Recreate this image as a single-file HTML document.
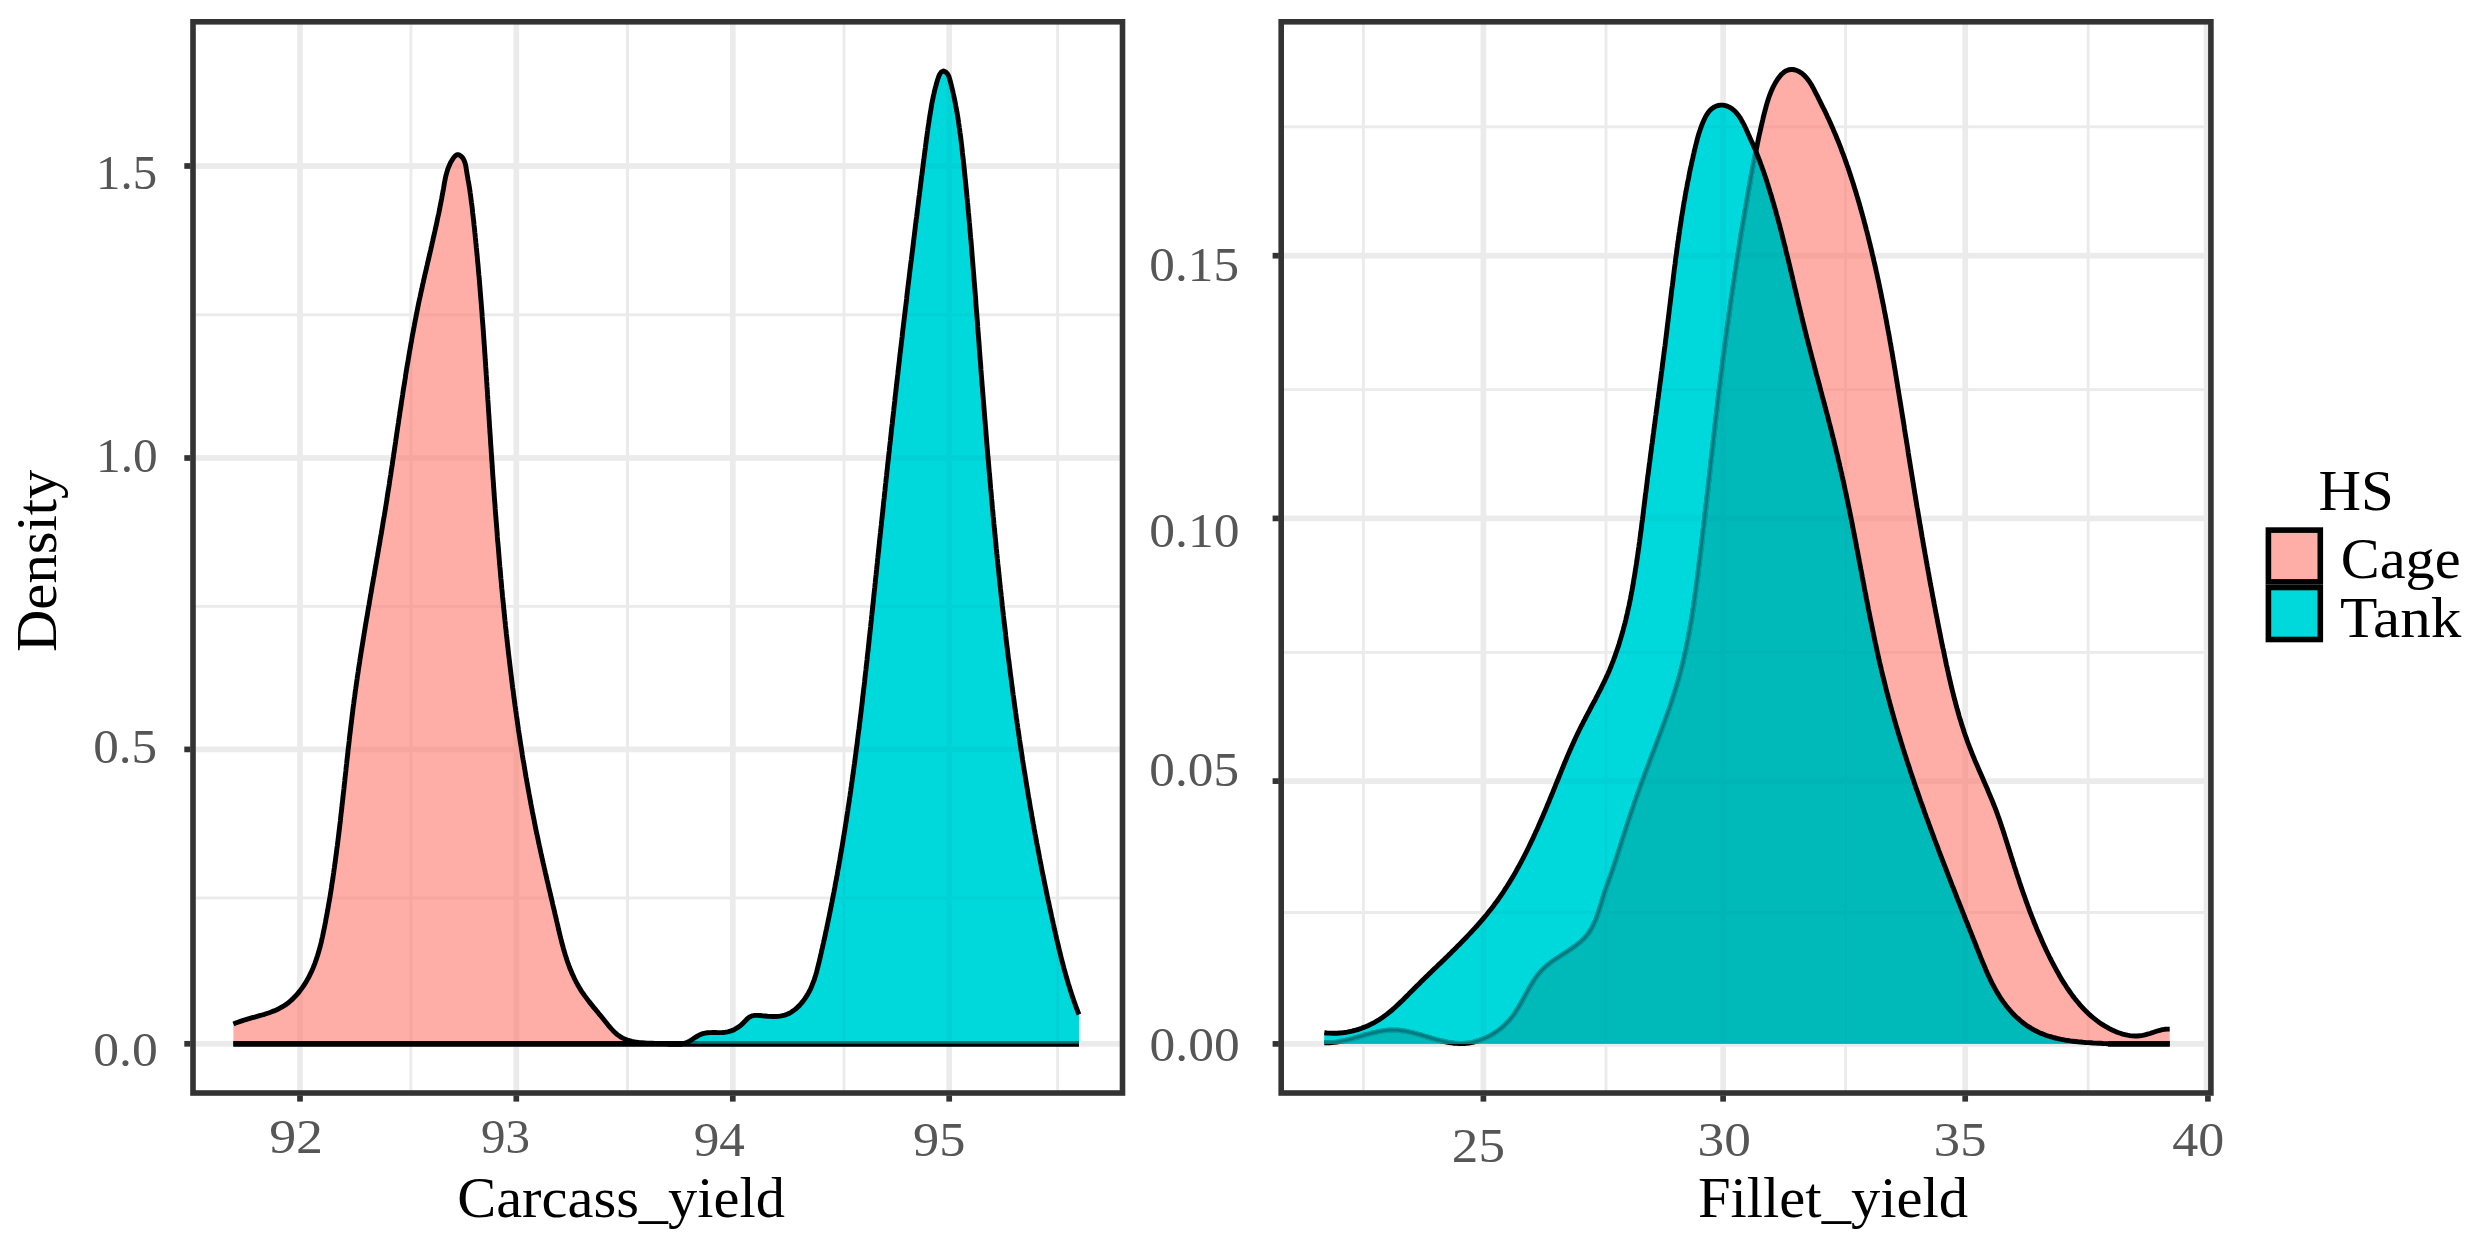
<!DOCTYPE html>
<html lang="en"><head><meta charset="utf-8"><title>Density plots</title>
<style>
html,body{margin:0;padding:0;background:#fff;}
svg{display:block;font-family:"Liberation Serif","DejaVu Serif",serif;}
text{white-space:pre;}
</style></head><body>
<svg width="2474" height="1250" viewBox="0 0 2474 1250">
<rect x="0" y="0" width="2474" height="1250" fill="#fff"/>
<rect x="193.0" y="313.35" width="929.5" height="2.9" fill="#ebebeb"/>
<rect x="193.0" y="604.95" width="929.5" height="2.9" fill="#ebebeb"/>
<rect x="193.0" y="896.55" width="929.5" height="2.9" fill="#ebebeb"/>
<rect x="409.45" y="21.8" width="2.9" height="1071.2" fill="#ebebeb"/>
<rect x="626.05" y="21.8" width="2.9" height="1071.2" fill="#ebebeb"/>
<rect x="842.55" y="21.8" width="2.9" height="1071.2" fill="#ebebeb"/>
<rect x="1056.15" y="21.8" width="2.9" height="1071.2" fill="#ebebeb"/>
<rect x="193.0" y="163.15" width="929.5" height="5.7" fill="#ebebeb"/>
<rect x="193.0" y="455.15" width="929.5" height="5.7" fill="#ebebeb"/>
<rect x="193.0" y="746.55" width="929.5" height="5.7" fill="#ebebeb"/>
<rect x="193.0" y="1040.95" width="929.5" height="5.7" fill="#ebebeb"/>
<rect x="297.15" y="21.8" width="5.7" height="1071.2" fill="#ebebeb"/>
<rect x="513.45" y="21.8" width="5.7" height="1071.2" fill="#ebebeb"/>
<rect x="729.95" y="21.8" width="5.7" height="1071.2" fill="#ebebeb"/>
<rect x="946.35" y="21.8" width="5.7" height="1071.2" fill="#ebebeb"/>
<rect x="1281.2" y="125.35" width="929.7" height="2.9" fill="#ebebeb"/>
<rect x="1281.2" y="388.15" width="929.7" height="2.9" fill="#ebebeb"/>
<rect x="1281.2" y="650.95" width="929.7" height="2.9" fill="#ebebeb"/>
<rect x="1281.2" y="911.05" width="929.7" height="2.9" fill="#ebebeb"/>
<rect x="1361.95" y="21.8" width="2.9" height="1071.2" fill="#ebebeb"/>
<rect x="1604.55" y="21.8" width="2.9" height="1071.2" fill="#ebebeb"/>
<rect x="1844.15" y="21.8" width="2.9" height="1071.2" fill="#ebebeb"/>
<rect x="2086.75" y="21.8" width="2.9" height="1071.2" fill="#ebebeb"/>
<rect x="1281.2" y="252.85" width="929.7" height="5.7" fill="#ebebeb"/>
<rect x="1281.2" y="515.55" width="929.7" height="5.7" fill="#ebebeb"/>
<rect x="1281.2" y="778.25" width="929.7" height="5.7" fill="#ebebeb"/>
<rect x="1281.2" y="1041.05" width="929.7" height="5.7" fill="#ebebeb"/>
<rect x="1480.55" y="21.8" width="5.7" height="1071.2" fill="#ebebeb"/>
<rect x="1720.25" y="21.8" width="5.7" height="1071.2" fill="#ebebeb"/>
<rect x="1962.35" y="21.8" width="5.7" height="1071.2" fill="#ebebeb"/>
<rect x="2203.75" y="21.8" width="5.7" height="1071.2" fill="#ebebeb"/>
<path d="M233.4,1024.0 L235.6,1023.1 L237.9,1022.2 L240.3,1021.4 L242.6,1020.6 L245.0,1019.8 L247.4,1019.1 L249.9,1018.4 L252.3,1017.7 L254.7,1017.1 L257.2,1016.4 L259.6,1015.7 L262.1,1015.0 L264.5,1014.3 L266.9,1013.5 L269.3,1012.7 L271.7,1011.8 L274.0,1010.9 L276.3,1009.9 L278.5,1008.9 L280.7,1007.7 L282.9,1006.5 L285.0,1005.2 L287.0,1003.7 L289.0,1002.2 L290.9,1000.6 L292.7,998.9 L294.5,997.1 L296.2,995.3 L297.9,993.4 L299.5,991.4 L301.0,989.4 L302.5,987.4 L303.9,985.3 L305.3,983.2 L306.6,981.0 L307.8,978.8 L309.0,976.7 L310.1,974.4 L311.2,972.2 L312.2,970.0 L313.2,967.7 L314.1,965.4 L315.0,963.1 L315.8,960.7 L316.6,958.4 L317.4,956.0 L318.1,953.7 L318.8,951.3 L319.5,948.9 L320.2,946.5 L320.8,944.0 L321.4,941.6 L321.9,939.2 L322.5,936.7 L323.0,934.3 L323.5,931.8 L324.0,929.4 L324.5,926.9 L325.0,924.4 L325.5,922.0 L325.9,919.5 L326.4,917.0 L326.9,914.6 L327.3,912.1 L327.8,909.6 L328.2,907.2 L328.6,904.7 L329.0,902.2 L329.5,899.8 L329.9,897.3 L330.3,894.8 L330.7,892.4 L331.1,889.9 L331.5,887.4 L331.8,884.9 L332.2,882.5 L332.6,880.0 L333.0,877.5 L333.3,875.0 L333.7,872.6 L334.0,870.1 L334.4,867.6 L334.7,865.1 L335.1,862.7 L335.4,860.2 L335.7,857.7 L336.1,855.2 L336.4,852.7 L336.7,850.3 L337.0,847.8 L337.4,845.3 L337.7,842.8 L338.0,840.3 L338.3,837.9 L338.6,835.4 L338.9,832.9 L339.2,830.4 L339.5,827.9 L339.8,825.4 L340.1,823.0 L340.4,820.5 L340.6,818.0 L340.9,815.5 L341.2,813.0 L341.5,810.5 L341.8,808.1 L342.0,805.6 L342.3,803.1 L342.6,800.6 L342.9,798.1 L343.1,795.6 L343.4,793.2 L343.7,790.7 L344.0,788.2 L344.2,785.7 L344.5,783.2 L344.8,780.7 L345.0,778.3 L345.3,775.8 L345.6,773.3 L345.9,770.8 L346.1,768.3 L346.4,765.8 L346.7,763.3 L346.9,760.9 L347.2,758.4 L347.5,755.9 L347.8,753.4 L348.0,750.9 L348.3,748.4 L348.6,746.0 L348.9,743.5 L349.2,741.0 L349.4,738.5 L349.7,736.0 L350.0,733.6 L350.3,731.1 L350.6,728.6 L350.9,726.1 L351.2,723.6 L351.5,721.2 L351.8,718.7 L352.1,716.2 L352.4,713.7 L352.7,711.2 L353.0,708.8 L353.3,706.3 L353.7,703.8 L354.0,701.3 L354.3,698.8 L354.7,696.4 L355.0,693.9 L355.3,691.4 L355.7,688.9 L356.0,686.5 L356.4,684.0 L356.7,681.5 L357.1,679.1 L357.4,676.6 L357.8,674.1 L358.2,671.6 L358.5,669.2 L358.9,666.7 L359.3,664.2 L359.7,661.8 L360.0,659.3 L360.4,656.8 L360.8,654.3 L361.2,651.9 L361.6,649.4 L362.0,646.9 L362.4,644.5 L362.8,642.0 L363.2,639.5 L363.6,637.1 L364.0,634.6 L364.4,632.1 L364.8,629.7 L365.2,627.2 L365.6,624.7 L366.0,622.3 L366.4,619.8 L366.9,617.3 L367.3,614.9 L367.7,612.4 L368.1,609.9 L368.5,607.5 L369.0,605.0 L369.4,602.5 L369.8,600.1 L370.2,597.6 L370.6,595.1 L371.1,592.7 L371.5,590.2 L371.9,587.7 L372.3,585.3 L372.8,582.8 L373.2,580.3 L373.6,577.9 L374.1,575.4 L374.5,573.0 L374.9,570.5 L375.3,568.0 L375.8,565.6 L376.2,563.1 L376.6,560.6 L377.0,558.2 L377.5,555.7 L377.9,553.2 L378.3,550.8 L378.7,548.3 L379.2,545.8 L379.6,543.4 L380.0,540.9 L380.4,538.4 L380.8,536.0 L381.3,533.5 L381.7,531.0 L382.1,528.6 L382.5,526.1 L382.9,523.6 L383.3,521.2 L383.7,518.7 L384.2,516.2 L384.6,513.8 L385.0,511.3 L385.4,508.8 L385.8,506.4 L386.2,503.9 L386.6,501.4 L387.0,499.0 L387.3,496.5 L387.7,494.0 L388.1,491.5 L388.5,489.1 L388.9,486.6 L389.3,484.1 L389.6,481.7 L390.0,479.2 L390.4,476.7 L390.8,474.3 L391.1,471.8 L391.5,469.3 L391.9,466.8 L392.3,464.4 L392.6,461.9 L393.0,459.4 L393.4,456.9 L393.7,454.5 L394.1,452.0 L394.5,449.5 L394.8,447.1 L395.2,444.6 L395.6,442.1 L395.9,439.6 L396.3,437.2 L396.6,434.7 L397.0,432.2 L397.4,429.7 L397.7,427.3 L398.1,424.8 L398.5,422.3 L398.8,419.9 L399.2,417.4 L399.6,414.9 L399.9,412.4 L400.3,410.0 L400.7,407.5 L401.1,405.0 L401.4,402.6 L401.8,400.1 L402.2,397.6 L402.6,395.1 L402.9,392.7 L403.3,390.2 L403.7,387.7 L404.1,385.3 L404.5,382.8 L404.9,380.3 L405.3,377.9 L405.6,375.4 L406.0,372.9 L406.4,370.5 L406.8,368.0 L407.2,365.5 L407.7,363.1 L408.1,360.6 L408.5,358.1 L408.9,355.7 L409.3,353.2 L409.7,350.8 L410.2,348.3 L410.6,345.8 L411.0,343.4 L411.5,340.9 L411.9,338.4 L412.3,336.0 L412.8,333.5 L413.3,331.1 L413.7,328.6 L414.2,326.2 L414.6,323.7 L415.1,321.2 L415.6,318.8 L416.1,316.3 L416.5,313.9 L417.0,311.4 L417.5,309.0 L418.0,306.5 L418.5,304.1 L419.0,301.6 L419.5,299.2 L420.1,296.7 L420.6,294.3 L421.1,291.8 L421.7,289.4 L422.2,287.0 L422.7,284.5 L423.3,282.1 L423.8,279.6 L424.4,277.2 L424.9,274.7 L425.5,272.3 L426.1,269.9 L426.6,267.4 L427.2,265.0 L427.7,262.5 L428.3,260.1 L428.9,257.7 L429.4,255.2 L430.0,252.8 L430.6,250.3 L431.1,247.9 L431.7,245.5 L432.2,243.0 L432.8,240.6 L433.3,238.1 L433.9,235.7 L434.4,233.3 L435.0,230.8 L435.5,228.4 L436.1,225.9 L436.6,223.5 L437.1,221.1 L437.6,218.6 L438.1,216.2 L438.7,213.7 L439.2,211.3 L439.7,208.8 L440.1,206.4 L440.6,203.9 L441.1,201.5 L441.6,199.0 L442.0,196.6 L442.5,194.1 L442.9,191.7 L443.4,189.2 L443.8,186.8 L444.2,184.3 L444.6,181.9 L445.1,179.4 L445.6,177.0 L446.2,174.6 L446.9,172.1 L447.6,169.7 L448.5,167.3 L449.5,165.0 L450.6,162.6 L452.0,160.3 L453.4,158.0 L455.1,156.0 L456.9,154.7 L458.9,154.7 L460.9,156.0 L462.8,158.0 L464.1,160.4 L465.0,162.9 L465.7,165.4 L466.1,167.9 L466.5,170.4 L466.9,172.9 L467.3,175.3 L467.7,177.7 L468.1,180.2 L468.6,182.6 L469.0,185.0 L469.4,187.4 L469.8,189.9 L470.1,192.3 L470.5,194.8 L470.8,197.3 L471.1,199.8 L471.4,202.3 L471.8,204.8 L472.1,207.3 L472.4,209.8 L472.6,212.3 L472.9,214.8 L473.2,217.3 L473.5,219.8 L473.8,222.3 L474.0,224.8 L474.3,227.3 L474.6,229.8 L474.8,232.2 L475.1,234.7 L475.3,237.2 L475.6,239.7 L475.8,242.2 L476.1,244.7 L476.3,247.2 L476.6,249.7 L476.8,252.1 L477.0,254.6 L477.3,257.1 L477.5,259.6 L477.7,262.1 L478.0,264.6 L478.2,267.1 L478.4,269.6 L478.6,272.1 L478.8,274.5 L479.1,277.0 L479.3,279.5 L479.5,282.0 L479.7,284.5 L479.9,287.0 L480.1,289.5 L480.3,292.0 L480.5,294.5 L480.7,297.0 L480.9,299.4 L481.1,301.9 L481.3,304.4 L481.5,306.9 L481.7,309.4 L481.9,311.9 L482.1,314.4 L482.2,316.9 L482.4,319.4 L482.6,321.9 L482.8,324.4 L483.0,326.8 L483.2,329.3 L483.3,331.8 L483.5,334.3 L483.7,336.8 L483.9,339.3 L484.0,341.8 L484.2,344.3 L484.4,346.8 L484.6,349.3 L484.7,351.8 L484.9,354.3 L485.1,356.8 L485.2,359.3 L485.4,361.7 L485.6,364.2 L485.7,366.7 L485.9,369.2 L486.1,371.7 L486.2,374.2 L486.4,376.7 L486.6,379.2 L486.7,381.7 L486.9,384.2 L487.0,386.7 L487.2,389.2 L487.4,391.7 L487.5,394.2 L487.7,396.7 L487.8,399.2 L488.0,401.7 L488.2,404.1 L488.3,406.6 L488.5,409.1 L488.6,411.6 L488.8,414.1 L489.0,416.6 L489.1,419.1 L489.3,421.6 L489.4,424.1 L489.6,426.6 L489.8,429.1 L489.9,431.6 L490.1,434.1 L490.3,436.6 L490.4,439.1 L490.6,441.6 L490.7,444.1 L490.9,446.6 L491.1,449.1 L491.2,451.6 L491.4,454.0 L491.6,456.5 L491.7,459.0 L491.9,461.5 L492.1,464.0 L492.2,466.5 L492.4,469.0 L492.6,471.5 L492.7,474.0 L492.9,476.5 L493.1,479.0 L493.3,481.5 L493.4,484.0 L493.6,486.5 L493.8,489.0 L494.0,491.5 L494.1,494.0 L494.3,496.5 L494.5,499.0 L494.7,501.5 L494.9,503.9 L495.1,506.4 L495.2,508.9 L495.4,511.4 L495.6,513.9 L495.8,516.4 L496.0,518.9 L496.2,521.4 L496.4,523.9 L496.6,526.4 L496.8,528.9 L497.0,531.4 L497.2,533.9 L497.3,536.4 L497.5,538.9 L497.7,541.4 L498.0,543.8 L498.2,546.3 L498.4,548.8 L498.6,551.3 L498.8,553.8 L499.0,556.3 L499.2,558.8 L499.4,561.3 L499.6,563.8 L499.8,566.3 L500.1,568.8 L500.3,571.3 L500.5,573.8 L500.7,576.2 L500.9,578.7 L501.2,581.2 L501.4,583.7 L501.6,586.2 L501.8,588.7 L502.1,591.2 L502.3,593.7 L502.5,596.2 L502.8,598.6 L503.0,601.1 L503.3,603.6 L503.5,606.1 L503.8,608.6 L504.0,611.1 L504.3,613.6 L504.5,616.1 L504.8,618.6 L505.0,621.0 L505.3,623.5 L505.5,626.0 L505.8,628.5 L506.1,631.0 L506.3,633.5 L506.6,636.0 L506.9,638.4 L507.1,640.9 L507.4,643.4 L507.7,645.9 L508.0,648.4 L508.2,650.9 L508.5,653.3 L508.8,655.8 L509.1,658.3 L509.4,660.8 L509.7,663.3 L510.0,665.7 L510.3,668.2 L510.6,670.7 L510.9,673.2 L511.2,675.7 L511.5,678.1 L511.8,680.6 L512.1,683.1 L512.4,685.6 L512.7,688.1 L513.1,690.5 L513.4,693.0 L513.7,695.5 L514.0,698.0 L514.4,700.4 L514.7,702.9 L515.0,705.4 L515.4,707.9 L515.7,710.3 L516.1,712.8 L516.4,715.3 L516.8,717.8 L517.1,720.2 L517.5,722.7 L517.8,725.2 L518.2,727.6 L518.5,730.1 L518.9,732.6 L519.3,735.1 L519.7,737.5 L520.0,740.0 L520.4,742.5 L520.8,744.9 L521.2,747.4 L521.6,749.9 L522.0,752.3 L522.3,754.8 L522.7,757.3 L523.1,759.7 L523.6,762.2 L524.0,764.6 L524.4,767.1 L524.8,769.6 L525.2,772.0 L525.6,774.5 L526.0,777.0 L526.5,779.4 L526.9,781.9 L527.3,784.3 L527.8,786.8 L528.2,789.3 L528.7,791.7 L529.1,794.2 L529.6,796.6 L530.0,799.1 L530.5,801.5 L530.9,804.0 L531.4,806.4 L531.9,808.9 L532.3,811.4 L532.8,813.8 L533.3,816.3 L533.8,818.7 L534.3,821.2 L534.7,823.6 L535.2,826.1 L535.7,828.5 L536.2,831.0 L536.7,833.4 L537.3,835.9 L537.8,838.3 L538.3,840.7 L538.8,843.2 L539.3,845.6 L539.9,848.1 L540.4,850.5 L540.9,853.0 L541.5,855.4 L542.0,857.8 L542.6,860.3 L543.1,862.7 L543.7,865.2 L544.2,867.6 L544.8,870.0 L545.3,872.5 L545.9,874.9 L546.5,877.4 L547.0,879.8 L547.6,882.2 L548.2,884.7 L548.7,887.1 L549.3,889.6 L549.9,892.0 L550.5,894.4 L551.0,896.9 L551.6,899.3 L552.2,901.8 L552.7,904.2 L553.3,906.7 L553.9,909.1 L554.5,911.5 L555.0,914.0 L555.6,916.4 L556.2,918.9 L556.7,921.3 L557.3,923.8 L557.9,926.2 L558.4,928.7 L559.0,931.1 L559.6,933.6 L560.2,936.0 L560.8,938.5 L561.4,940.9 L562.0,943.3 L562.7,945.7 L563.3,948.1 L564.0,950.5 L564.7,952.9 L565.4,955.3 L566.2,957.7 L566.9,960.0 L567.7,962.4 L568.6,964.7 L569.4,967.0 L570.3,969.3 L571.3,971.6 L572.3,973.9 L573.3,976.1 L574.3,978.3 L575.4,980.5 L576.5,982.7 L577.7,984.9 L579.0,987.0 L580.2,989.2 L581.6,991.3 L583.0,993.3 L584.4,995.4 L585.9,997.4 L587.4,999.4 L588.9,1001.4 L590.5,1003.4 L592.1,1005.4 L593.7,1007.4 L595.4,1009.4 L597.0,1011.3 L598.6,1013.3 L600.3,1015.3 L601.9,1017.3 L603.5,1019.3 L605.1,1021.3 L606.7,1023.3 L608.3,1025.3 L609.9,1027.2 L611.6,1029.1 L613.3,1030.9 L615.0,1032.6 L616.8,1034.2 L618.7,1035.6 L620.7,1037.0 L622.8,1038.1 L624.9,1039.1 L627.2,1040.0 L629.5,1040.7 L631.9,1041.3 L634.4,1041.8 L636.9,1042.3 L639.4,1042.6 L642.0,1042.8 L644.6,1043.0 L647.2,1043.2 L649.8,1043.2 L652.4,1043.3 L654.9,1043.4 L657.5,1043.4 L660.0,1043.4 L662.5,1043.5 L664.9,1043.6 L667.2,1043.7 L668.0,1043.8 L1079.0,1043.8 L1079.0,1043.8 L233.4,1043.8 Z" fill="rgba(255,120,109,0.6)"/>
<path d="M233.4,1024.0 L235.6,1023.1 L237.9,1022.2 L240.3,1021.4 L242.6,1020.6 L245.0,1019.8 L247.4,1019.1 L249.9,1018.4 L252.3,1017.7 L254.7,1017.1 L257.2,1016.4 L259.6,1015.7 L262.1,1015.0 L264.5,1014.3 L266.9,1013.5 L269.3,1012.7 L271.7,1011.8 L274.0,1010.9 L276.3,1009.9 L278.5,1008.9 L280.7,1007.7 L282.9,1006.5 L285.0,1005.2 L287.0,1003.7 L289.0,1002.2 L290.9,1000.6 L292.7,998.9 L294.5,997.1 L296.2,995.3 L297.9,993.4 L299.5,991.4 L301.0,989.4 L302.5,987.4 L303.9,985.3 L305.3,983.2 L306.6,981.0 L307.8,978.8 L309.0,976.7 L310.1,974.4 L311.2,972.2 L312.2,970.0 L313.2,967.7 L314.1,965.4 L315.0,963.1 L315.8,960.7 L316.6,958.4 L317.4,956.0 L318.1,953.7 L318.8,951.3 L319.5,948.9 L320.2,946.5 L320.8,944.0 L321.4,941.6 L321.9,939.2 L322.5,936.7 L323.0,934.3 L323.5,931.8 L324.0,929.4 L324.5,926.9 L325.0,924.4 L325.5,922.0 L325.9,919.5 L326.4,917.0 L326.9,914.6 L327.3,912.1 L327.8,909.6 L328.2,907.2 L328.6,904.7 L329.0,902.2 L329.5,899.8 L329.9,897.3 L330.3,894.8 L330.7,892.4 L331.1,889.9 L331.5,887.4 L331.8,884.9 L332.2,882.5 L332.6,880.0 L333.0,877.5 L333.3,875.0 L333.7,872.6 L334.0,870.1 L334.4,867.6 L334.7,865.1 L335.1,862.7 L335.4,860.2 L335.7,857.7 L336.1,855.2 L336.4,852.7 L336.7,850.3 L337.0,847.8 L337.4,845.3 L337.7,842.8 L338.0,840.3 L338.3,837.9 L338.6,835.4 L338.9,832.9 L339.2,830.4 L339.5,827.9 L339.8,825.4 L340.1,823.0 L340.4,820.5 L340.6,818.0 L340.9,815.5 L341.2,813.0 L341.5,810.5 L341.8,808.1 L342.0,805.6 L342.3,803.1 L342.6,800.6 L342.9,798.1 L343.1,795.6 L343.4,793.2 L343.7,790.7 L344.0,788.2 L344.2,785.7 L344.5,783.2 L344.8,780.7 L345.0,778.3 L345.3,775.8 L345.6,773.3 L345.9,770.8 L346.1,768.3 L346.4,765.8 L346.7,763.3 L346.9,760.9 L347.2,758.4 L347.5,755.9 L347.8,753.4 L348.0,750.9 L348.3,748.4 L348.6,746.0 L348.9,743.5 L349.2,741.0 L349.4,738.5 L349.7,736.0 L350.0,733.6 L350.3,731.1 L350.6,728.6 L350.9,726.1 L351.2,723.6 L351.5,721.2 L351.8,718.7 L352.1,716.2 L352.4,713.7 L352.7,711.2 L353.0,708.8 L353.3,706.3 L353.7,703.8 L354.0,701.3 L354.3,698.8 L354.7,696.4 L355.0,693.9 L355.3,691.4 L355.7,688.9 L356.0,686.5 L356.4,684.0 L356.7,681.5 L357.1,679.1 L357.4,676.6 L357.8,674.1 L358.2,671.6 L358.5,669.2 L358.9,666.7 L359.3,664.2 L359.7,661.8 L360.0,659.3 L360.4,656.8 L360.8,654.3 L361.2,651.9 L361.6,649.4 L362.0,646.9 L362.4,644.5 L362.8,642.0 L363.2,639.5 L363.6,637.1 L364.0,634.6 L364.4,632.1 L364.8,629.7 L365.2,627.2 L365.6,624.7 L366.0,622.3 L366.4,619.8 L366.9,617.3 L367.3,614.9 L367.7,612.4 L368.1,609.9 L368.5,607.5 L369.0,605.0 L369.4,602.5 L369.8,600.1 L370.2,597.6 L370.6,595.1 L371.1,592.7 L371.5,590.2 L371.9,587.7 L372.3,585.3 L372.8,582.8 L373.2,580.3 L373.6,577.9 L374.1,575.4 L374.5,573.0 L374.9,570.5 L375.3,568.0 L375.8,565.6 L376.2,563.1 L376.6,560.6 L377.0,558.2 L377.5,555.7 L377.9,553.2 L378.3,550.8 L378.7,548.3 L379.2,545.8 L379.6,543.4 L380.0,540.9 L380.4,538.4 L380.8,536.0 L381.3,533.5 L381.7,531.0 L382.1,528.6 L382.5,526.1 L382.9,523.6 L383.3,521.2 L383.7,518.7 L384.2,516.2 L384.6,513.8 L385.0,511.3 L385.4,508.8 L385.8,506.4 L386.2,503.9 L386.6,501.4 L387.0,499.0 L387.3,496.5 L387.7,494.0 L388.1,491.5 L388.5,489.1 L388.9,486.6 L389.3,484.1 L389.6,481.7 L390.0,479.2 L390.4,476.7 L390.8,474.3 L391.1,471.8 L391.5,469.3 L391.9,466.8 L392.3,464.4 L392.6,461.9 L393.0,459.4 L393.4,456.9 L393.7,454.5 L394.1,452.0 L394.5,449.5 L394.8,447.1 L395.2,444.6 L395.6,442.1 L395.9,439.6 L396.3,437.2 L396.6,434.7 L397.0,432.2 L397.4,429.7 L397.7,427.3 L398.1,424.8 L398.5,422.3 L398.8,419.9 L399.2,417.4 L399.6,414.9 L399.9,412.4 L400.3,410.0 L400.7,407.5 L401.1,405.0 L401.4,402.6 L401.8,400.1 L402.2,397.6 L402.6,395.1 L402.9,392.7 L403.3,390.2 L403.7,387.7 L404.1,385.3 L404.5,382.8 L404.9,380.3 L405.3,377.9 L405.6,375.4 L406.0,372.9 L406.4,370.5 L406.8,368.0 L407.2,365.5 L407.7,363.1 L408.1,360.6 L408.5,358.1 L408.9,355.7 L409.3,353.2 L409.7,350.8 L410.2,348.3 L410.6,345.8 L411.0,343.4 L411.5,340.9 L411.9,338.4 L412.3,336.0 L412.8,333.5 L413.3,331.1 L413.7,328.6 L414.2,326.2 L414.6,323.7 L415.1,321.2 L415.6,318.8 L416.1,316.3 L416.5,313.9 L417.0,311.4 L417.5,309.0 L418.0,306.5 L418.5,304.1 L419.0,301.6 L419.5,299.2 L420.1,296.7 L420.6,294.3 L421.1,291.8 L421.7,289.4 L422.2,287.0 L422.7,284.5 L423.3,282.1 L423.8,279.6 L424.4,277.2 L424.9,274.7 L425.5,272.3 L426.1,269.9 L426.6,267.4 L427.2,265.0 L427.7,262.5 L428.3,260.1 L428.9,257.7 L429.4,255.2 L430.0,252.8 L430.6,250.3 L431.1,247.9 L431.7,245.5 L432.2,243.0 L432.8,240.6 L433.3,238.1 L433.9,235.7 L434.4,233.3 L435.0,230.8 L435.5,228.4 L436.1,225.9 L436.6,223.5 L437.1,221.1 L437.6,218.6 L438.1,216.2 L438.7,213.7 L439.2,211.3 L439.7,208.8 L440.1,206.4 L440.6,203.9 L441.1,201.5 L441.6,199.0 L442.0,196.6 L442.5,194.1 L442.9,191.7 L443.4,189.2 L443.8,186.8 L444.2,184.3 L444.6,181.9 L445.1,179.4 L445.6,177.0 L446.2,174.6 L446.9,172.1 L447.6,169.7 L448.5,167.3 L449.5,165.0 L450.6,162.6 L452.0,160.3 L453.4,158.0 L455.1,156.0 L456.9,154.7 L458.9,154.7 L460.9,156.0 L462.8,158.0 L464.1,160.4 L465.0,162.9 L465.7,165.4 L466.1,167.9 L466.5,170.4 L466.9,172.9 L467.3,175.3 L467.7,177.7 L468.1,180.2 L468.6,182.6 L469.0,185.0 L469.4,187.4 L469.8,189.9 L470.1,192.3 L470.5,194.8 L470.8,197.3 L471.1,199.8 L471.4,202.3 L471.8,204.8 L472.1,207.3 L472.4,209.8 L472.6,212.3 L472.9,214.8 L473.2,217.3 L473.5,219.8 L473.8,222.3 L474.0,224.8 L474.3,227.3 L474.6,229.8 L474.8,232.2 L475.1,234.7 L475.3,237.2 L475.6,239.7 L475.8,242.2 L476.1,244.7 L476.3,247.2 L476.6,249.7 L476.8,252.1 L477.0,254.6 L477.3,257.1 L477.5,259.6 L477.7,262.1 L478.0,264.6 L478.2,267.1 L478.4,269.6 L478.6,272.1 L478.8,274.5 L479.1,277.0 L479.3,279.5 L479.5,282.0 L479.7,284.5 L479.9,287.0 L480.1,289.5 L480.3,292.0 L480.5,294.5 L480.7,297.0 L480.9,299.4 L481.1,301.9 L481.3,304.4 L481.5,306.9 L481.7,309.4 L481.9,311.9 L482.1,314.4 L482.2,316.9 L482.4,319.4 L482.6,321.9 L482.8,324.4 L483.0,326.8 L483.2,329.3 L483.3,331.8 L483.5,334.3 L483.7,336.8 L483.9,339.3 L484.0,341.8 L484.2,344.3 L484.4,346.8 L484.6,349.3 L484.7,351.8 L484.9,354.3 L485.1,356.8 L485.2,359.3 L485.4,361.7 L485.6,364.2 L485.7,366.7 L485.9,369.2 L486.1,371.7 L486.2,374.2 L486.4,376.7 L486.6,379.2 L486.7,381.7 L486.9,384.2 L487.0,386.7 L487.2,389.2 L487.4,391.7 L487.5,394.2 L487.7,396.7 L487.8,399.2 L488.0,401.7 L488.2,404.1 L488.3,406.6 L488.5,409.1 L488.6,411.6 L488.8,414.1 L489.0,416.6 L489.1,419.1 L489.3,421.6 L489.4,424.1 L489.6,426.6 L489.8,429.1 L489.9,431.6 L490.1,434.1 L490.3,436.6 L490.4,439.1 L490.6,441.6 L490.7,444.1 L490.9,446.6 L491.1,449.1 L491.2,451.6 L491.4,454.0 L491.6,456.5 L491.7,459.0 L491.9,461.5 L492.1,464.0 L492.2,466.5 L492.4,469.0 L492.6,471.5 L492.7,474.0 L492.9,476.5 L493.1,479.0 L493.3,481.5 L493.4,484.0 L493.6,486.5 L493.8,489.0 L494.0,491.5 L494.1,494.0 L494.3,496.5 L494.5,499.0 L494.7,501.5 L494.9,503.9 L495.1,506.4 L495.2,508.9 L495.4,511.4 L495.6,513.9 L495.8,516.4 L496.0,518.9 L496.2,521.4 L496.4,523.9 L496.6,526.4 L496.8,528.9 L497.0,531.4 L497.2,533.9 L497.3,536.4 L497.5,538.9 L497.7,541.4 L498.0,543.8 L498.2,546.3 L498.4,548.8 L498.6,551.3 L498.8,553.8 L499.0,556.3 L499.2,558.8 L499.4,561.3 L499.6,563.8 L499.8,566.3 L500.1,568.8 L500.3,571.3 L500.5,573.8 L500.7,576.2 L500.9,578.7 L501.2,581.2 L501.4,583.7 L501.6,586.2 L501.8,588.7 L502.1,591.2 L502.3,593.7 L502.5,596.2 L502.8,598.6 L503.0,601.1 L503.3,603.6 L503.5,606.1 L503.8,608.6 L504.0,611.1 L504.3,613.6 L504.5,616.1 L504.8,618.6 L505.0,621.0 L505.3,623.5 L505.5,626.0 L505.8,628.5 L506.1,631.0 L506.3,633.5 L506.6,636.0 L506.9,638.4 L507.1,640.9 L507.4,643.4 L507.7,645.9 L508.0,648.4 L508.2,650.9 L508.5,653.3 L508.8,655.8 L509.1,658.3 L509.4,660.8 L509.7,663.3 L510.0,665.7 L510.3,668.2 L510.6,670.7 L510.9,673.2 L511.2,675.7 L511.5,678.1 L511.8,680.6 L512.1,683.1 L512.4,685.6 L512.7,688.1 L513.1,690.5 L513.4,693.0 L513.7,695.5 L514.0,698.0 L514.4,700.4 L514.7,702.9 L515.0,705.4 L515.4,707.9 L515.7,710.3 L516.1,712.8 L516.4,715.3 L516.8,717.8 L517.1,720.2 L517.5,722.7 L517.8,725.2 L518.2,727.6 L518.5,730.1 L518.9,732.6 L519.3,735.1 L519.7,737.5 L520.0,740.0 L520.4,742.5 L520.8,744.9 L521.2,747.4 L521.6,749.9 L522.0,752.3 L522.3,754.8 L522.7,757.3 L523.1,759.7 L523.6,762.2 L524.0,764.6 L524.4,767.1 L524.8,769.6 L525.2,772.0 L525.6,774.5 L526.0,777.0 L526.5,779.4 L526.9,781.9 L527.3,784.3 L527.8,786.8 L528.2,789.3 L528.7,791.7 L529.1,794.2 L529.6,796.6 L530.0,799.1 L530.5,801.5 L530.9,804.0 L531.4,806.4 L531.9,808.9 L532.3,811.4 L532.8,813.8 L533.3,816.3 L533.8,818.7 L534.3,821.2 L534.7,823.6 L535.2,826.1 L535.7,828.5 L536.2,831.0 L536.7,833.4 L537.3,835.9 L537.8,838.3 L538.3,840.7 L538.8,843.2 L539.3,845.6 L539.9,848.1 L540.4,850.5 L540.9,853.0 L541.5,855.4 L542.0,857.8 L542.6,860.3 L543.1,862.7 L543.7,865.2 L544.2,867.6 L544.8,870.0 L545.3,872.5 L545.9,874.9 L546.5,877.4 L547.0,879.8 L547.6,882.2 L548.2,884.7 L548.7,887.1 L549.3,889.6 L549.9,892.0 L550.5,894.4 L551.0,896.9 L551.6,899.3 L552.2,901.8 L552.7,904.2 L553.3,906.7 L553.9,909.1 L554.5,911.5 L555.0,914.0 L555.6,916.4 L556.2,918.9 L556.7,921.3 L557.3,923.8 L557.9,926.2 L558.4,928.7 L559.0,931.1 L559.6,933.6 L560.2,936.0 L560.8,938.5 L561.4,940.9 L562.0,943.3 L562.7,945.7 L563.3,948.1 L564.0,950.5 L564.7,952.9 L565.4,955.3 L566.2,957.7 L566.9,960.0 L567.7,962.4 L568.6,964.7 L569.4,967.0 L570.3,969.3 L571.3,971.6 L572.3,973.9 L573.3,976.1 L574.3,978.3 L575.4,980.5 L576.5,982.7 L577.7,984.9 L579.0,987.0 L580.2,989.2 L581.6,991.3 L583.0,993.3 L584.4,995.4 L585.9,997.4 L587.4,999.4 L588.9,1001.4 L590.5,1003.4 L592.1,1005.4 L593.7,1007.4 L595.4,1009.4 L597.0,1011.3 L598.6,1013.3 L600.3,1015.3 L601.9,1017.3 L603.5,1019.3 L605.1,1021.3 L606.7,1023.3 L608.3,1025.3 L609.9,1027.2 L611.6,1029.1 L613.3,1030.9 L615.0,1032.6 L616.8,1034.2 L618.7,1035.6 L620.7,1037.0 L622.8,1038.1 L624.9,1039.1 L627.2,1040.0 L629.5,1040.7 L631.9,1041.3 L634.4,1041.8 L636.9,1042.3 L639.4,1042.6 L642.0,1042.8 L644.6,1043.0 L647.2,1043.2 L649.8,1043.2 L652.4,1043.3 L654.9,1043.4 L657.5,1043.4 L660.0,1043.4 L662.5,1043.5 L664.9,1043.6 L667.2,1043.7 L668.0,1043.8 L1079.0,1043.8" fill="none" stroke="#000" stroke-width="4.9" stroke-linejoin="round" stroke-linecap="butt"/>
<rect x="668" y="1041.1" width="411.0" height="5.6" fill="#000"/>
<path d="M233.4,1043.8 L680.0,1043.8 L682.6,1043.7 L685.0,1043.1 L687.4,1042.2 L689.6,1041.1 L691.8,1039.7 L693.9,1038.3 L696.1,1036.9 L698.2,1035.6 L700.5,1034.5 L702.8,1033.6 L705.2,1033.1 L707.6,1032.7 L710.2,1032.6 L712.7,1032.5 L715.3,1032.5 L717.8,1032.6 L720.4,1032.6 L722.9,1032.5 L725.3,1032.2 L727.7,1031.8 L730.1,1031.2 L732.3,1030.4 L734.5,1029.4 L736.6,1028.2 L738.7,1026.9 L740.7,1025.3 L742.6,1023.6 L744.4,1021.7 L746.2,1019.9 L748.1,1018.1 L750.1,1016.7 L752.3,1015.8 L754.7,1015.4 L757.2,1015.4 L759.8,1015.5 L762.4,1015.8 L765.0,1016.0 L767.6,1016.3 L770.1,1016.4 L772.7,1016.5 L775.2,1016.5 L777.7,1016.4 L780.1,1016.1 L782.5,1015.7 L784.8,1015.1 L787.1,1014.3 L789.3,1013.3 L791.5,1012.0 L793.5,1010.6 L795.5,1009.1 L797.4,1007.4 L799.3,1005.6 L801.0,1003.7 L802.7,1001.7 L804.2,999.6 L805.7,997.5 L807.0,995.4 L808.3,993.2 L809.5,991.0 L810.6,988.8 L811.6,986.5 L812.5,984.2 L813.4,981.9 L814.3,979.6 L815.0,977.2 L815.8,974.8 L816.5,972.4 L817.1,970.0 L817.7,967.6 L818.3,965.2 L818.9,962.7 L819.5,960.3 L820.1,957.9 L820.6,955.4 L821.2,953.0 L821.7,950.6 L822.3,948.1 L822.8,945.7 L823.4,943.2 L823.9,940.8 L824.5,938.4 L825.0,935.9 L825.5,933.5 L826.0,931.0 L826.6,928.6 L827.1,926.1 L827.6,923.7 L828.1,921.3 L828.6,918.8 L829.1,916.4 L829.6,913.9 L830.1,911.5 L830.6,909.0 L831.1,906.6 L831.6,904.1 L832.1,901.7 L832.5,899.2 L833.0,896.8 L833.5,894.3 L834.0,891.9 L834.4,889.4 L834.9,886.9 L835.3,884.5 L835.8,882.0 L836.3,879.6 L836.7,877.1 L837.2,874.7 L837.6,872.2 L838.0,869.7 L838.5,867.3 L838.9,864.8 L839.3,862.4 L839.8,859.9 L840.2,857.4 L840.6,855.0 L841.0,852.5 L841.5,850.1 L841.9,847.6 L842.3,845.1 L842.7,842.7 L843.1,840.2 L843.5,837.7 L843.9,835.3 L844.3,832.8 L844.7,830.3 L845.1,827.9 L845.5,825.4 L845.9,822.9 L846.3,820.5 L846.6,818.0 L847.0,815.5 L847.4,813.1 L847.8,810.6 L848.1,808.1 L848.5,805.6 L848.9,803.2 L849.3,800.7 L849.6,798.2 L850.0,795.8 L850.3,793.3 L850.7,790.8 L851.0,788.3 L851.4,785.9 L851.7,783.4 L852.1,780.9 L852.4,778.4 L852.8,776.0 L853.1,773.5 L853.5,771.0 L853.8,768.5 L854.1,766.1 L854.5,763.6 L854.8,761.1 L855.1,758.6 L855.5,756.2 L855.8,753.7 L856.1,751.2 L856.4,748.7 L856.8,746.2 L857.1,743.8 L857.4,741.3 L857.7,738.8 L858.0,736.3 L858.3,733.8 L858.6,731.4 L859.0,728.9 L859.3,726.4 L859.6,723.9 L859.9,721.4 L860.2,718.9 L860.5,716.5 L860.8,714.0 L861.1,711.5 L861.4,709.0 L861.7,706.5 L862.0,704.0 L862.3,701.6 L862.5,699.1 L862.8,696.6 L863.1,694.1 L863.4,691.6 L863.7,689.1 L864.0,686.7 L864.3,684.2 L864.6,681.7 L864.8,679.2 L865.1,676.7 L865.4,674.2 L865.7,671.7 L866.0,669.3 L866.2,666.8 L866.5,664.3 L866.8,661.8 L867.1,659.3 L867.3,656.8 L867.6,654.3 L867.9,651.9 L868.2,649.4 L868.4,646.9 L868.7,644.4 L869.0,641.9 L869.2,639.4 L869.5,636.9 L869.8,634.4 L870.0,632.0 L870.3,629.5 L870.6,627.0 L870.8,624.5 L871.1,622.0 L871.4,619.5 L871.6,617.0 L871.9,614.5 L872.1,612.1 L872.4,609.6 L872.7,607.1 L872.9,604.6 L873.2,602.1 L873.5,599.6 L873.7,597.1 L874.0,594.6 L874.2,592.2 L874.5,589.7 L874.8,587.2 L875.0,584.7 L875.3,582.2 L875.5,579.7 L875.8,577.2 L876.1,574.7 L876.3,572.3 L876.6,569.8 L876.8,567.3 L877.1,564.8 L877.4,562.3 L877.6,559.8 L877.9,557.3 L878.1,554.8 L878.4,552.4 L878.7,549.9 L878.9,547.4 L879.2,544.9 L879.4,542.4 L879.7,539.9 L880.0,537.4 L880.2,535.0 L880.5,532.5 L880.7,530.0 L881.0,527.5 L881.3,525.0 L881.5,522.5 L881.8,520.0 L882.1,517.6 L882.3,515.1 L882.6,512.6 L882.9,510.1 L883.1,507.6 L883.4,505.1 L883.6,502.6 L883.9,500.2 L884.2,497.7 L884.4,495.2 L884.7,492.7 L885.0,490.2 L885.2,487.7 L885.5,485.3 L885.8,482.8 L886.0,480.3 L886.3,477.8 L886.6,475.3 L886.8,472.8 L887.1,470.3 L887.4,467.9 L887.6,465.4 L887.9,462.9 L888.2,460.4 L888.5,457.9 L888.7,455.4 L889.0,453.0 L889.3,450.5 L889.5,448.0 L889.8,445.5 L890.1,443.0 L890.4,440.5 L890.6,438.1 L890.9,435.6 L891.2,433.1 L891.4,430.6 L891.7,428.1 L892.0,425.6 L892.3,423.2 L892.5,420.7 L892.8,418.2 L893.1,415.7 L893.4,413.2 L893.7,410.7 L893.9,408.3 L894.2,405.8 L894.5,403.3 L894.8,400.8 L895.0,398.3 L895.3,395.8 L895.6,393.4 L895.9,390.9 L896.2,388.4 L896.4,385.9 L896.7,383.4 L897.0,380.9 L897.3,378.5 L897.6,376.0 L897.9,373.5 L898.1,371.0 L898.4,368.5 L898.7,366.0 L899.0,363.6 L899.3,361.1 L899.6,358.6 L899.8,356.1 L900.1,353.6 L900.4,351.2 L900.7,348.7 L901.0,346.2 L901.3,343.7 L901.6,341.2 L901.9,338.7 L902.2,336.3 L902.4,333.8 L902.7,331.3 L903.0,328.8 L903.3,326.3 L903.6,323.8 L903.9,321.4 L904.2,318.9 L904.5,316.4 L904.8,313.9 L905.1,311.4 L905.4,308.9 L905.7,306.5 L906.0,304.0 L906.3,301.5 L906.6,299.0 L906.8,296.5 L907.1,294.0 L907.4,291.6 L907.7,289.1 L908.0,286.6 L908.3,284.1 L908.6,281.6 L908.9,279.2 L909.2,276.7 L909.5,274.2 L909.8,271.7 L910.1,269.2 L910.4,266.7 L910.7,264.3 L911.0,261.8 L911.4,259.3 L911.7,256.8 L912.0,254.3 L912.3,251.8 L912.6,249.4 L912.9,246.9 L913.2,244.4 L913.5,241.9 L913.8,239.4 L914.1,237.0 L914.4,234.5 L914.7,232.0 L915.0,229.5 L915.3,227.0 L915.6,224.5 L915.9,222.1 L916.2,219.6 L916.6,217.1 L916.9,214.6 L917.2,212.1 L917.5,209.6 L917.8,207.2 L918.1,204.7 L918.4,202.2 L918.7,199.7 L919.0,197.2 L919.4,194.8 L919.7,192.3 L920.0,189.8 L920.3,187.3 L920.6,184.8 L920.9,182.3 L921.2,179.9 L921.5,177.4 L921.9,174.9 L922.2,172.4 L922.5,169.9 L922.8,167.5 L923.1,165.0 L923.4,162.5 L923.8,160.0 L924.1,157.5 L924.4,155.0 L924.7,152.6 L925.0,150.1 L925.4,147.6 L925.7,145.1 L926.0,142.7 L926.3,140.2 L926.7,137.7 L927.0,135.2 L927.3,132.8 L927.7,130.3 L928.0,127.8 L928.4,125.3 L928.8,122.9 L929.1,120.4 L929.5,118.0 L929.9,115.5 L930.3,113.0 L930.7,110.6 L931.1,108.1 L931.5,105.7 L931.9,103.2 L932.4,100.8 L932.9,98.4 L933.4,95.9 L934.0,93.5 L934.5,91.0 L935.1,88.6 L935.8,86.2 L936.4,83.8 L937.1,81.3 L937.9,78.9 L938.7,76.5 L939.8,74.1 L941.4,71.9 L943.5,71.0 L945.7,72.0 L947.7,74.1 L948.9,76.4 L949.6,78.8 L950.3,81.2 L950.9,83.6 L951.5,86.0 L952.1,88.4 L952.7,90.8 L953.2,93.2 L953.8,95.7 L954.3,98.1 L954.8,100.5 L955.3,103.0 L955.7,105.4 L956.2,107.9 L956.6,110.3 L957.1,112.8 L957.5,115.2 L957.9,117.7 L958.3,120.2 L958.6,122.6 L959.0,125.1 L959.3,127.6 L959.7,130.1 L960.0,132.6 L960.4,135.0 L960.7,137.5 L961.0,140.0 L961.3,142.5 L961.6,145.0 L961.9,147.5 L962.2,150.0 L962.4,152.5 L962.7,155.0 L963.0,157.4 L963.3,159.9 L963.5,162.4 L963.8,164.9 L964.1,167.4 L964.3,169.9 L964.6,172.4 L964.8,174.9 L965.1,177.4 L965.3,179.9 L965.6,182.4 L965.8,184.9 L966.1,187.4 L966.3,189.9 L966.6,192.4 L966.8,194.8 L967.0,197.3 L967.3,199.8 L967.5,202.3 L967.8,204.8 L968.0,207.3 L968.2,209.8 L968.4,212.3 L968.7,214.8 L968.9,217.3 L969.1,219.8 L969.3,222.3 L969.6,224.8 L969.8,227.2 L970.0,229.7 L970.2,232.2 L970.4,234.7 L970.6,237.2 L970.9,239.7 L971.1,242.2 L971.3,244.7 L971.5,247.2 L971.7,249.7 L971.9,252.2 L972.1,254.7 L972.3,257.1 L972.5,259.6 L972.7,262.1 L972.9,264.6 L973.1,267.1 L973.3,269.6 L973.5,272.1 L973.7,274.6 L973.9,277.1 L974.1,279.6 L974.3,282.1 L974.5,284.5 L974.7,287.0 L974.9,289.5 L975.1,292.0 L975.3,294.5 L975.5,297.0 L975.7,299.5 L975.8,302.0 L976.0,304.5 L976.2,307.0 L976.4,309.5 L976.6,311.9 L976.8,314.4 L977.0,316.9 L977.2,319.4 L977.4,321.9 L977.6,324.4 L977.7,326.9 L977.9,329.4 L978.1,331.9 L978.3,334.4 L978.5,336.9 L978.7,339.4 L978.9,341.8 L979.1,344.3 L979.2,346.8 L979.4,349.3 L979.6,351.8 L979.8,354.3 L980.0,356.8 L980.2,359.3 L980.4,361.8 L980.6,364.3 L980.8,366.8 L980.9,369.2 L981.1,371.7 L981.3,374.2 L981.5,376.7 L981.7,379.2 L981.9,381.7 L982.1,384.2 L982.3,386.7 L982.5,389.2 L982.7,391.7 L982.9,394.2 L983.1,396.6 L983.3,399.1 L983.5,401.6 L983.7,404.1 L983.9,406.6 L984.1,409.1 L984.3,411.6 L984.5,414.1 L984.7,416.6 L984.9,419.1 L985.1,421.6 L985.3,424.1 L985.5,426.5 L985.7,429.0 L985.9,431.5 L986.1,434.0 L986.3,436.5 L986.5,439.0 L986.7,441.5 L986.9,444.0 L987.1,446.5 L987.3,449.0 L987.5,451.5 L987.7,453.9 L987.9,456.4 L988.2,458.9 L988.4,461.4 L988.6,463.9 L988.8,466.4 L989.0,468.9 L989.2,471.4 L989.4,473.9 L989.7,476.4 L989.9,478.9 L990.1,481.3 L990.3,483.8 L990.5,486.3 L990.7,488.8 L991.0,491.3 L991.2,493.8 L991.4,496.3 L991.6,498.8 L991.9,501.3 L992.1,503.8 L992.3,506.2 L992.5,508.7 L992.8,511.2 L993.0,513.7 L993.2,516.2 L993.5,518.7 L993.7,521.2 L993.9,523.7 L994.2,526.2 L994.4,528.6 L994.7,531.1 L994.9,533.6 L995.1,536.1 L995.4,538.6 L995.6,541.1 L995.9,543.6 L996.1,546.1 L996.3,548.5 L996.6,551.0 L996.8,553.5 L997.1,556.0 L997.3,558.5 L997.6,561.0 L997.8,563.5 L998.1,566.0 L998.4,568.4 L998.6,570.9 L998.9,573.4 L999.1,575.9 L999.4,578.4 L999.6,580.9 L999.9,583.4 L1000.2,585.9 L1000.4,588.3 L1000.7,590.8 L1001.0,593.3 L1001.2,595.8 L1001.5,598.3 L1001.8,600.8 L1002.1,603.2 L1002.3,605.7 L1002.6,608.2 L1002.9,610.7 L1003.2,613.2 L1003.4,615.7 L1003.7,618.2 L1004.0,620.6 L1004.3,623.1 L1004.6,625.6 L1004.9,628.1 L1005.2,630.6 L1005.5,633.1 L1005.7,635.5 L1006.0,638.0 L1006.3,640.5 L1006.6,643.0 L1006.9,645.5 L1007.2,647.9 L1007.5,650.4 L1007.8,652.9 L1008.1,655.4 L1008.4,657.9 L1008.8,660.4 L1009.1,662.8 L1009.4,665.3 L1009.7,667.8 L1010.0,670.3 L1010.3,672.8 L1010.6,675.2 L1011.0,677.7 L1011.3,680.2 L1011.6,682.7 L1011.9,685.2 L1012.3,687.6 L1012.6,690.1 L1012.9,692.6 L1013.2,695.1 L1013.6,697.5 L1013.9,700.0 L1014.3,702.5 L1014.6,705.0 L1014.9,707.5 L1015.3,709.9 L1015.6,712.4 L1016.0,714.9 L1016.3,717.4 L1016.7,719.8 L1017.0,722.3 L1017.4,724.8 L1017.7,727.3 L1018.1,729.7 L1018.5,732.2 L1018.8,734.7 L1019.2,737.2 L1019.5,739.6 L1019.9,742.1 L1020.3,744.6 L1020.7,747.0 L1021.0,749.5 L1021.4,752.0 L1021.8,754.5 L1022.2,756.9 L1022.5,759.4 L1022.9,761.9 L1023.3,764.3 L1023.7,766.8 L1024.1,769.3 L1024.5,771.8 L1024.9,774.2 L1025.3,776.7 L1025.7,779.2 L1026.1,781.6 L1026.5,784.1 L1026.9,786.6 L1027.3,789.0 L1027.7,791.5 L1028.1,794.0 L1028.5,796.4 L1029.0,798.9 L1029.4,801.4 L1029.8,803.8 L1030.2,806.3 L1030.6,808.8 L1031.1,811.2 L1031.5,813.7 L1031.9,816.2 L1032.4,818.6 L1032.8,821.1 L1033.2,823.5 L1033.7,826.0 L1034.1,828.5 L1034.6,830.9 L1035.0,833.4 L1035.5,835.9 L1035.9,838.3 L1036.4,840.8 L1036.8,843.2 L1037.3,845.7 L1037.8,848.1 L1038.2,850.6 L1038.7,853.1 L1039.2,855.5 L1039.6,858.0 L1040.1,860.4 L1040.6,862.9 L1041.1,865.3 L1041.5,867.8 L1042.0,870.2 L1042.5,872.7 L1043.0,875.1 L1043.5,877.6 L1044.0,880.0 L1044.5,882.5 L1045.0,884.9 L1045.5,887.4 L1046.0,889.8 L1046.5,892.3 L1047.0,894.7 L1047.5,897.2 L1048.0,899.6 L1048.6,902.1 L1049.1,904.5 L1049.6,907.0 L1050.1,909.4 L1050.7,911.8 L1051.2,914.3 L1051.7,916.7 L1052.3,919.2 L1052.8,921.6 L1053.3,924.0 L1053.9,926.5 L1054.4,928.9 L1055.0,931.3 L1055.5,933.8 L1056.1,936.2 L1056.6,938.6 L1057.2,941.1 L1057.8,943.5 L1058.4,945.9 L1058.9,948.4 L1059.5,950.8 L1060.1,953.2 L1060.7,955.6 L1061.3,958.1 L1061.9,960.5 L1062.6,962.9 L1063.2,965.3 L1063.8,967.7 L1064.5,970.1 L1065.1,972.5 L1065.8,974.9 L1066.5,977.3 L1067.2,979.7 L1067.9,982.1 L1068.6,984.5 L1069.4,986.9 L1070.1,989.3 L1070.9,991.7 L1071.6,994.1 L1072.4,996.4 L1073.2,998.8 L1074.0,1001.2 L1074.9,1003.5 L1075.7,1005.9 L1076.6,1008.3 L1077.5,1010.6 L1078.4,1013.0 L1079.0,1014.5 L1079.0,1043.8 L233.4,1043.8 Z" fill="rgba(0,191,196,0.6)"/>
<path d="M233.4,1043.8 L680.0,1043.8 L682.6,1043.7 L685.0,1043.1 L687.4,1042.2 L689.6,1041.1 L691.8,1039.7 L693.9,1038.3 L696.1,1036.9 L698.2,1035.6 L700.5,1034.5 L702.8,1033.6 L705.2,1033.1 L707.6,1032.7 L710.2,1032.6 L712.7,1032.5 L715.3,1032.5 L717.8,1032.6 L720.4,1032.6 L722.9,1032.5 L725.3,1032.2 L727.7,1031.8 L730.1,1031.2 L732.3,1030.4 L734.5,1029.4 L736.6,1028.2 L738.7,1026.9 L740.7,1025.3 L742.6,1023.6 L744.4,1021.7 L746.2,1019.9 L748.1,1018.1 L750.1,1016.7 L752.3,1015.8 L754.7,1015.4 L757.2,1015.4 L759.8,1015.5 L762.4,1015.8 L765.0,1016.0 L767.6,1016.3 L770.1,1016.4 L772.7,1016.5 L775.2,1016.5 L777.7,1016.4 L780.1,1016.1 L782.5,1015.7 L784.8,1015.1 L787.1,1014.3 L789.3,1013.3 L791.5,1012.0 L793.5,1010.6 L795.5,1009.1 L797.4,1007.4 L799.3,1005.6 L801.0,1003.7 L802.7,1001.7 L804.2,999.6 L805.7,997.5 L807.0,995.4 L808.3,993.2 L809.5,991.0 L810.6,988.8 L811.6,986.5 L812.5,984.2 L813.4,981.9 L814.3,979.6 L815.0,977.2 L815.8,974.8 L816.5,972.4 L817.1,970.0 L817.7,967.6 L818.3,965.2 L818.9,962.7 L819.5,960.3 L820.1,957.9 L820.6,955.4 L821.2,953.0 L821.7,950.6 L822.3,948.1 L822.8,945.7 L823.4,943.2 L823.9,940.8 L824.5,938.4 L825.0,935.9 L825.5,933.5 L826.0,931.0 L826.6,928.6 L827.1,926.1 L827.6,923.7 L828.1,921.3 L828.6,918.8 L829.1,916.4 L829.6,913.9 L830.1,911.5 L830.6,909.0 L831.1,906.6 L831.6,904.1 L832.1,901.7 L832.5,899.2 L833.0,896.8 L833.5,894.3 L834.0,891.9 L834.4,889.4 L834.9,886.9 L835.3,884.5 L835.8,882.0 L836.3,879.6 L836.7,877.1 L837.2,874.7 L837.6,872.2 L838.0,869.7 L838.5,867.3 L838.9,864.8 L839.3,862.4 L839.8,859.9 L840.2,857.4 L840.6,855.0 L841.0,852.5 L841.5,850.1 L841.9,847.6 L842.3,845.1 L842.7,842.7 L843.1,840.2 L843.5,837.7 L843.9,835.3 L844.3,832.8 L844.7,830.3 L845.1,827.9 L845.5,825.4 L845.9,822.9 L846.3,820.5 L846.6,818.0 L847.0,815.5 L847.4,813.1 L847.8,810.6 L848.1,808.1 L848.5,805.6 L848.9,803.2 L849.3,800.7 L849.6,798.2 L850.0,795.8 L850.3,793.3 L850.7,790.8 L851.0,788.3 L851.4,785.9 L851.7,783.4 L852.1,780.9 L852.4,778.4 L852.8,776.0 L853.1,773.5 L853.5,771.0 L853.8,768.5 L854.1,766.1 L854.5,763.6 L854.8,761.1 L855.1,758.6 L855.5,756.2 L855.8,753.7 L856.1,751.2 L856.4,748.7 L856.8,746.2 L857.1,743.8 L857.4,741.3 L857.7,738.8 L858.0,736.3 L858.3,733.8 L858.6,731.4 L859.0,728.9 L859.3,726.4 L859.6,723.9 L859.9,721.4 L860.2,718.9 L860.5,716.5 L860.8,714.0 L861.1,711.5 L861.4,709.0 L861.7,706.5 L862.0,704.0 L862.3,701.6 L862.5,699.1 L862.8,696.6 L863.1,694.1 L863.4,691.6 L863.7,689.1 L864.0,686.7 L864.3,684.2 L864.6,681.7 L864.8,679.2 L865.1,676.7 L865.4,674.2 L865.7,671.7 L866.0,669.3 L866.2,666.8 L866.5,664.3 L866.8,661.8 L867.1,659.3 L867.3,656.8 L867.6,654.3 L867.9,651.9 L868.2,649.4 L868.4,646.9 L868.7,644.4 L869.0,641.9 L869.2,639.4 L869.5,636.9 L869.8,634.4 L870.0,632.0 L870.3,629.5 L870.6,627.0 L870.8,624.5 L871.1,622.0 L871.4,619.5 L871.6,617.0 L871.9,614.5 L872.1,612.1 L872.4,609.6 L872.7,607.1 L872.9,604.6 L873.2,602.1 L873.5,599.6 L873.7,597.1 L874.0,594.6 L874.2,592.2 L874.5,589.7 L874.8,587.2 L875.0,584.7 L875.3,582.2 L875.5,579.7 L875.8,577.2 L876.1,574.7 L876.3,572.3 L876.6,569.8 L876.8,567.3 L877.1,564.8 L877.4,562.3 L877.6,559.8 L877.9,557.3 L878.1,554.8 L878.4,552.4 L878.7,549.9 L878.9,547.4 L879.2,544.9 L879.4,542.4 L879.7,539.9 L880.0,537.4 L880.2,535.0 L880.5,532.5 L880.7,530.0 L881.0,527.5 L881.3,525.0 L881.5,522.5 L881.8,520.0 L882.1,517.6 L882.3,515.1 L882.6,512.6 L882.9,510.1 L883.1,507.6 L883.4,505.1 L883.6,502.6 L883.9,500.2 L884.2,497.7 L884.4,495.2 L884.7,492.7 L885.0,490.2 L885.2,487.7 L885.5,485.3 L885.8,482.8 L886.0,480.3 L886.3,477.8 L886.6,475.3 L886.8,472.8 L887.1,470.3 L887.4,467.9 L887.6,465.4 L887.9,462.9 L888.2,460.4 L888.5,457.9 L888.7,455.4 L889.0,453.0 L889.3,450.5 L889.5,448.0 L889.8,445.5 L890.1,443.0 L890.4,440.5 L890.6,438.1 L890.9,435.6 L891.2,433.1 L891.4,430.6 L891.7,428.1 L892.0,425.6 L892.3,423.2 L892.5,420.7 L892.8,418.2 L893.1,415.7 L893.4,413.2 L893.7,410.7 L893.9,408.3 L894.2,405.8 L894.5,403.3 L894.8,400.8 L895.0,398.3 L895.3,395.8 L895.6,393.4 L895.9,390.9 L896.2,388.4 L896.4,385.9 L896.7,383.4 L897.0,380.9 L897.3,378.5 L897.6,376.0 L897.9,373.5 L898.1,371.0 L898.4,368.5 L898.7,366.0 L899.0,363.6 L899.3,361.1 L899.6,358.6 L899.8,356.1 L900.1,353.6 L900.4,351.2 L900.7,348.7 L901.0,346.2 L901.3,343.7 L901.6,341.2 L901.9,338.7 L902.2,336.3 L902.4,333.8 L902.7,331.3 L903.0,328.8 L903.3,326.3 L903.6,323.8 L903.9,321.4 L904.2,318.9 L904.5,316.4 L904.8,313.9 L905.1,311.4 L905.4,308.9 L905.7,306.5 L906.0,304.0 L906.3,301.5 L906.6,299.0 L906.8,296.5 L907.1,294.0 L907.4,291.6 L907.7,289.1 L908.0,286.6 L908.3,284.1 L908.6,281.6 L908.9,279.2 L909.2,276.7 L909.5,274.2 L909.8,271.7 L910.1,269.2 L910.4,266.7 L910.7,264.3 L911.0,261.8 L911.4,259.3 L911.7,256.8 L912.0,254.3 L912.3,251.8 L912.6,249.4 L912.9,246.9 L913.2,244.4 L913.5,241.9 L913.8,239.4 L914.1,237.0 L914.4,234.5 L914.7,232.0 L915.0,229.5 L915.3,227.0 L915.6,224.5 L915.9,222.1 L916.2,219.6 L916.6,217.1 L916.9,214.6 L917.2,212.1 L917.5,209.6 L917.8,207.2 L918.1,204.7 L918.4,202.2 L918.7,199.7 L919.0,197.2 L919.4,194.8 L919.7,192.3 L920.0,189.8 L920.3,187.3 L920.6,184.8 L920.9,182.3 L921.2,179.9 L921.5,177.4 L921.9,174.9 L922.2,172.4 L922.5,169.9 L922.8,167.5 L923.1,165.0 L923.4,162.5 L923.8,160.0 L924.1,157.5 L924.4,155.0 L924.7,152.6 L925.0,150.1 L925.4,147.6 L925.7,145.1 L926.0,142.7 L926.3,140.2 L926.7,137.7 L927.0,135.2 L927.3,132.8 L927.7,130.3 L928.0,127.8 L928.4,125.3 L928.8,122.9 L929.1,120.4 L929.5,118.0 L929.9,115.5 L930.3,113.0 L930.7,110.6 L931.1,108.1 L931.5,105.7 L931.9,103.2 L932.4,100.8 L932.9,98.4 L933.4,95.9 L934.0,93.5 L934.5,91.0 L935.1,88.6 L935.8,86.2 L936.4,83.8 L937.1,81.3 L937.9,78.9 L938.7,76.5 L939.8,74.1 L941.4,71.9 L943.5,71.0 L945.7,72.0 L947.7,74.1 L948.9,76.4 L949.6,78.8 L950.3,81.2 L950.9,83.6 L951.5,86.0 L952.1,88.4 L952.7,90.8 L953.2,93.2 L953.8,95.7 L954.3,98.1 L954.8,100.5 L955.3,103.0 L955.7,105.4 L956.2,107.9 L956.6,110.3 L957.1,112.8 L957.5,115.2 L957.9,117.7 L958.3,120.2 L958.6,122.6 L959.0,125.1 L959.3,127.6 L959.7,130.1 L960.0,132.6 L960.4,135.0 L960.7,137.5 L961.0,140.0 L961.3,142.5 L961.6,145.0 L961.9,147.5 L962.2,150.0 L962.4,152.5 L962.7,155.0 L963.0,157.4 L963.3,159.9 L963.5,162.4 L963.8,164.9 L964.1,167.4 L964.3,169.9 L964.6,172.4 L964.8,174.9 L965.1,177.4 L965.3,179.9 L965.6,182.4 L965.8,184.9 L966.1,187.4 L966.3,189.9 L966.6,192.4 L966.8,194.8 L967.0,197.3 L967.3,199.8 L967.5,202.3 L967.8,204.8 L968.0,207.3 L968.2,209.8 L968.4,212.3 L968.7,214.8 L968.9,217.3 L969.1,219.8 L969.3,222.3 L969.6,224.8 L969.8,227.2 L970.0,229.7 L970.2,232.2 L970.4,234.7 L970.6,237.2 L970.9,239.7 L971.1,242.2 L971.3,244.7 L971.5,247.2 L971.7,249.7 L971.9,252.2 L972.1,254.7 L972.3,257.1 L972.5,259.6 L972.7,262.1 L972.9,264.6 L973.1,267.1 L973.3,269.6 L973.5,272.1 L973.7,274.6 L973.9,277.1 L974.1,279.6 L974.3,282.1 L974.5,284.5 L974.7,287.0 L974.9,289.5 L975.1,292.0 L975.3,294.5 L975.5,297.0 L975.7,299.5 L975.8,302.0 L976.0,304.5 L976.2,307.0 L976.4,309.5 L976.6,311.9 L976.8,314.4 L977.0,316.9 L977.2,319.4 L977.4,321.9 L977.6,324.4 L977.7,326.9 L977.9,329.4 L978.1,331.9 L978.3,334.4 L978.5,336.9 L978.7,339.4 L978.9,341.8 L979.1,344.3 L979.2,346.8 L979.4,349.3 L979.6,351.8 L979.8,354.3 L980.0,356.8 L980.2,359.3 L980.4,361.8 L980.6,364.3 L980.8,366.8 L980.9,369.2 L981.1,371.7 L981.3,374.2 L981.5,376.7 L981.7,379.2 L981.9,381.7 L982.1,384.2 L982.3,386.7 L982.5,389.2 L982.7,391.7 L982.9,394.2 L983.1,396.6 L983.3,399.1 L983.5,401.6 L983.7,404.1 L983.9,406.6 L984.1,409.1 L984.3,411.6 L984.5,414.1 L984.7,416.6 L984.9,419.1 L985.1,421.6 L985.3,424.1 L985.5,426.5 L985.7,429.0 L985.9,431.5 L986.1,434.0 L986.3,436.5 L986.5,439.0 L986.7,441.5 L986.9,444.0 L987.1,446.5 L987.3,449.0 L987.5,451.5 L987.7,453.9 L987.9,456.4 L988.2,458.9 L988.4,461.4 L988.6,463.9 L988.8,466.4 L989.0,468.9 L989.2,471.4 L989.4,473.9 L989.7,476.4 L989.9,478.9 L990.1,481.3 L990.3,483.8 L990.5,486.3 L990.7,488.8 L991.0,491.3 L991.2,493.8 L991.4,496.3 L991.6,498.8 L991.9,501.3 L992.1,503.8 L992.3,506.2 L992.5,508.7 L992.8,511.2 L993.0,513.7 L993.2,516.2 L993.5,518.7 L993.7,521.2 L993.9,523.7 L994.2,526.2 L994.4,528.6 L994.7,531.1 L994.9,533.6 L995.1,536.1 L995.4,538.6 L995.6,541.1 L995.9,543.6 L996.1,546.1 L996.3,548.5 L996.6,551.0 L996.8,553.5 L997.1,556.0 L997.3,558.5 L997.6,561.0 L997.8,563.5 L998.1,566.0 L998.4,568.4 L998.6,570.9 L998.9,573.4 L999.1,575.9 L999.4,578.4 L999.6,580.9 L999.9,583.4 L1000.2,585.9 L1000.4,588.3 L1000.7,590.8 L1001.0,593.3 L1001.2,595.8 L1001.5,598.3 L1001.8,600.8 L1002.1,603.2 L1002.3,605.7 L1002.6,608.2 L1002.9,610.7 L1003.2,613.2 L1003.4,615.7 L1003.7,618.2 L1004.0,620.6 L1004.3,623.1 L1004.6,625.6 L1004.9,628.1 L1005.2,630.6 L1005.5,633.1 L1005.7,635.5 L1006.0,638.0 L1006.3,640.5 L1006.6,643.0 L1006.9,645.5 L1007.2,647.9 L1007.5,650.4 L1007.8,652.9 L1008.1,655.4 L1008.4,657.9 L1008.8,660.4 L1009.1,662.8 L1009.4,665.3 L1009.7,667.8 L1010.0,670.3 L1010.3,672.8 L1010.6,675.2 L1011.0,677.7 L1011.3,680.2 L1011.6,682.7 L1011.9,685.2 L1012.3,687.6 L1012.6,690.1 L1012.9,692.6 L1013.2,695.1 L1013.6,697.5 L1013.9,700.0 L1014.3,702.5 L1014.6,705.0 L1014.9,707.5 L1015.3,709.9 L1015.6,712.4 L1016.0,714.9 L1016.3,717.4 L1016.7,719.8 L1017.0,722.3 L1017.4,724.8 L1017.7,727.3 L1018.1,729.7 L1018.5,732.2 L1018.8,734.7 L1019.2,737.2 L1019.5,739.6 L1019.9,742.1 L1020.3,744.6 L1020.7,747.0 L1021.0,749.5 L1021.4,752.0 L1021.8,754.5 L1022.2,756.9 L1022.5,759.4 L1022.9,761.9 L1023.3,764.3 L1023.7,766.8 L1024.1,769.3 L1024.5,771.8 L1024.9,774.2 L1025.3,776.7 L1025.7,779.2 L1026.1,781.6 L1026.5,784.1 L1026.9,786.6 L1027.3,789.0 L1027.7,791.5 L1028.1,794.0 L1028.5,796.4 L1029.0,798.9 L1029.4,801.4 L1029.8,803.8 L1030.2,806.3 L1030.6,808.8 L1031.1,811.2 L1031.5,813.7 L1031.9,816.2 L1032.4,818.6 L1032.8,821.1 L1033.2,823.5 L1033.7,826.0 L1034.1,828.5 L1034.6,830.9 L1035.0,833.4 L1035.5,835.9 L1035.9,838.3 L1036.4,840.8 L1036.8,843.2 L1037.3,845.7 L1037.8,848.1 L1038.2,850.6 L1038.7,853.1 L1039.2,855.5 L1039.6,858.0 L1040.1,860.4 L1040.6,862.9 L1041.1,865.3 L1041.5,867.8 L1042.0,870.2 L1042.5,872.7 L1043.0,875.1 L1043.5,877.6 L1044.0,880.0 L1044.5,882.5 L1045.0,884.9 L1045.5,887.4 L1046.0,889.8 L1046.5,892.3 L1047.0,894.7 L1047.5,897.2 L1048.0,899.6 L1048.6,902.1 L1049.1,904.5 L1049.6,907.0 L1050.1,909.4 L1050.7,911.8 L1051.2,914.3 L1051.7,916.7 L1052.3,919.2 L1052.8,921.6 L1053.3,924.0 L1053.9,926.5 L1054.4,928.9 L1055.0,931.3 L1055.5,933.8 L1056.1,936.2 L1056.6,938.6 L1057.2,941.1 L1057.8,943.5 L1058.4,945.9 L1058.9,948.4 L1059.5,950.8 L1060.1,953.2 L1060.7,955.6 L1061.3,958.1 L1061.9,960.5 L1062.6,962.9 L1063.2,965.3 L1063.8,967.7 L1064.5,970.1 L1065.1,972.5 L1065.8,974.9 L1066.5,977.3 L1067.2,979.7 L1067.9,982.1 L1068.6,984.5 L1069.4,986.9 L1070.1,989.3 L1070.9,991.7 L1071.6,994.1 L1072.4,996.4 L1073.2,998.8 L1074.0,1001.2 L1074.9,1003.5 L1075.7,1005.9 L1076.6,1008.3 L1077.5,1010.6 L1078.4,1013.0 L1079.0,1014.5 L1079.0,1043.8 L233.4,1043.8 Z" fill="#00ffff" style="mix-blend-mode:multiply"/>
<path d="M233.4,1043.8 L680.0,1043.8 L682.6,1043.7 L685.0,1043.1 L687.4,1042.2 L689.6,1041.1 L691.8,1039.7 L693.9,1038.3 L696.1,1036.9 L698.2,1035.6 L700.5,1034.5 L702.8,1033.6 L705.2,1033.1 L707.6,1032.7 L710.2,1032.6 L712.7,1032.5 L715.3,1032.5 L717.8,1032.6 L720.4,1032.6 L722.9,1032.5 L725.3,1032.2 L727.7,1031.8 L730.1,1031.2 L732.3,1030.4 L734.5,1029.4 L736.6,1028.2 L738.7,1026.9 L740.7,1025.3 L742.6,1023.6 L744.4,1021.7 L746.2,1019.9 L748.1,1018.1 L750.1,1016.7 L752.3,1015.8 L754.7,1015.4 L757.2,1015.4 L759.8,1015.5 L762.4,1015.8 L765.0,1016.0 L767.6,1016.3 L770.1,1016.4 L772.7,1016.5 L775.2,1016.5 L777.7,1016.4 L780.1,1016.1 L782.5,1015.7 L784.8,1015.1 L787.1,1014.3 L789.3,1013.3 L791.5,1012.0 L793.5,1010.6 L795.5,1009.1 L797.4,1007.4 L799.3,1005.6 L801.0,1003.7 L802.7,1001.7 L804.2,999.6 L805.7,997.5 L807.0,995.4 L808.3,993.2 L809.5,991.0 L810.6,988.8 L811.6,986.5 L812.5,984.2 L813.4,981.9 L814.3,979.6 L815.0,977.2 L815.8,974.8 L816.5,972.4 L817.1,970.0 L817.7,967.6 L818.3,965.2 L818.9,962.7 L819.5,960.3 L820.1,957.9 L820.6,955.4 L821.2,953.0 L821.7,950.6 L822.3,948.1 L822.8,945.7 L823.4,943.2 L823.9,940.8 L824.5,938.4 L825.0,935.9 L825.5,933.5 L826.0,931.0 L826.6,928.6 L827.1,926.1 L827.6,923.7 L828.1,921.3 L828.6,918.8 L829.1,916.4 L829.6,913.9 L830.1,911.5 L830.6,909.0 L831.1,906.6 L831.6,904.1 L832.1,901.7 L832.5,899.2 L833.0,896.8 L833.5,894.3 L834.0,891.9 L834.4,889.4 L834.9,886.9 L835.3,884.5 L835.8,882.0 L836.3,879.6 L836.7,877.1 L837.2,874.7 L837.6,872.2 L838.0,869.7 L838.5,867.3 L838.9,864.8 L839.3,862.4 L839.8,859.9 L840.2,857.4 L840.6,855.0 L841.0,852.5 L841.5,850.1 L841.9,847.6 L842.3,845.1 L842.7,842.7 L843.1,840.2 L843.5,837.7 L843.9,835.3 L844.3,832.8 L844.7,830.3 L845.1,827.9 L845.5,825.4 L845.9,822.9 L846.3,820.5 L846.6,818.0 L847.0,815.5 L847.4,813.1 L847.8,810.6 L848.1,808.1 L848.5,805.6 L848.9,803.2 L849.3,800.7 L849.6,798.2 L850.0,795.8 L850.3,793.3 L850.7,790.8 L851.0,788.3 L851.4,785.9 L851.7,783.4 L852.1,780.9 L852.4,778.4 L852.8,776.0 L853.1,773.5 L853.5,771.0 L853.8,768.5 L854.1,766.1 L854.5,763.6 L854.8,761.1 L855.1,758.6 L855.5,756.2 L855.8,753.7 L856.1,751.2 L856.4,748.7 L856.8,746.2 L857.1,743.8 L857.4,741.3 L857.7,738.8 L858.0,736.3 L858.3,733.8 L858.6,731.4 L859.0,728.9 L859.3,726.4 L859.6,723.9 L859.9,721.4 L860.2,718.9 L860.5,716.5 L860.8,714.0 L861.1,711.5 L861.4,709.0 L861.7,706.5 L862.0,704.0 L862.3,701.6 L862.5,699.1 L862.8,696.6 L863.1,694.1 L863.4,691.6 L863.7,689.1 L864.0,686.7 L864.3,684.2 L864.6,681.7 L864.8,679.2 L865.1,676.7 L865.4,674.2 L865.7,671.7 L866.0,669.3 L866.2,666.8 L866.5,664.3 L866.8,661.8 L867.1,659.3 L867.3,656.8 L867.6,654.3 L867.9,651.9 L868.2,649.4 L868.4,646.9 L868.7,644.4 L869.0,641.9 L869.2,639.4 L869.5,636.9 L869.8,634.4 L870.0,632.0 L870.3,629.5 L870.6,627.0 L870.8,624.5 L871.1,622.0 L871.4,619.5 L871.6,617.0 L871.9,614.5 L872.1,612.1 L872.4,609.6 L872.7,607.1 L872.9,604.6 L873.2,602.1 L873.5,599.6 L873.7,597.1 L874.0,594.6 L874.2,592.2 L874.5,589.7 L874.8,587.2 L875.0,584.7 L875.3,582.2 L875.5,579.7 L875.8,577.2 L876.1,574.7 L876.3,572.3 L876.6,569.8 L876.8,567.3 L877.1,564.8 L877.4,562.3 L877.6,559.8 L877.9,557.3 L878.1,554.8 L878.4,552.4 L878.7,549.9 L878.9,547.4 L879.2,544.9 L879.4,542.4 L879.7,539.9 L880.0,537.4 L880.2,535.0 L880.5,532.5 L880.7,530.0 L881.0,527.5 L881.3,525.0 L881.5,522.5 L881.8,520.0 L882.1,517.6 L882.3,515.1 L882.6,512.6 L882.9,510.1 L883.1,507.6 L883.4,505.1 L883.6,502.6 L883.9,500.2 L884.2,497.7 L884.4,495.2 L884.7,492.7 L885.0,490.2 L885.2,487.7 L885.5,485.3 L885.8,482.8 L886.0,480.3 L886.3,477.8 L886.6,475.3 L886.8,472.8 L887.1,470.3 L887.4,467.9 L887.6,465.4 L887.9,462.9 L888.2,460.4 L888.5,457.9 L888.7,455.4 L889.0,453.0 L889.3,450.5 L889.5,448.0 L889.8,445.5 L890.1,443.0 L890.4,440.5 L890.6,438.1 L890.9,435.6 L891.2,433.1 L891.4,430.6 L891.7,428.1 L892.0,425.6 L892.3,423.2 L892.5,420.7 L892.8,418.2 L893.1,415.7 L893.4,413.2 L893.7,410.7 L893.9,408.3 L894.2,405.8 L894.5,403.3 L894.8,400.8 L895.0,398.3 L895.3,395.8 L895.6,393.4 L895.9,390.9 L896.2,388.4 L896.4,385.9 L896.7,383.4 L897.0,380.9 L897.3,378.5 L897.6,376.0 L897.9,373.5 L898.1,371.0 L898.4,368.5 L898.7,366.0 L899.0,363.6 L899.3,361.1 L899.6,358.6 L899.8,356.1 L900.1,353.6 L900.4,351.2 L900.7,348.7 L901.0,346.2 L901.3,343.7 L901.6,341.2 L901.9,338.7 L902.2,336.3 L902.4,333.8 L902.7,331.3 L903.0,328.8 L903.3,326.3 L903.6,323.8 L903.9,321.4 L904.2,318.9 L904.5,316.4 L904.8,313.9 L905.1,311.4 L905.4,308.9 L905.7,306.5 L906.0,304.0 L906.3,301.5 L906.6,299.0 L906.8,296.5 L907.1,294.0 L907.4,291.6 L907.7,289.1 L908.0,286.6 L908.3,284.1 L908.6,281.6 L908.9,279.2 L909.2,276.7 L909.5,274.2 L909.8,271.7 L910.1,269.2 L910.4,266.7 L910.7,264.3 L911.0,261.8 L911.4,259.3 L911.7,256.8 L912.0,254.3 L912.3,251.8 L912.6,249.4 L912.9,246.9 L913.2,244.4 L913.5,241.9 L913.8,239.4 L914.1,237.0 L914.4,234.5 L914.7,232.0 L915.0,229.5 L915.3,227.0 L915.6,224.5 L915.9,222.1 L916.2,219.6 L916.6,217.1 L916.9,214.6 L917.2,212.1 L917.5,209.6 L917.8,207.2 L918.1,204.7 L918.4,202.2 L918.7,199.7 L919.0,197.2 L919.4,194.8 L919.7,192.3 L920.0,189.8 L920.3,187.3 L920.6,184.8 L920.9,182.3 L921.2,179.9 L921.5,177.4 L921.9,174.9 L922.2,172.4 L922.5,169.9 L922.8,167.5 L923.1,165.0 L923.4,162.5 L923.8,160.0 L924.1,157.5 L924.4,155.0 L924.7,152.6 L925.0,150.1 L925.4,147.6 L925.7,145.1 L926.0,142.7 L926.3,140.2 L926.7,137.7 L927.0,135.2 L927.3,132.8 L927.7,130.3 L928.0,127.8 L928.4,125.3 L928.8,122.9 L929.1,120.4 L929.5,118.0 L929.9,115.5 L930.3,113.0 L930.7,110.6 L931.1,108.1 L931.5,105.7 L931.9,103.2 L932.4,100.8 L932.9,98.4 L933.4,95.9 L934.0,93.5 L934.5,91.0 L935.1,88.6 L935.8,86.2 L936.4,83.8 L937.1,81.3 L937.9,78.9 L938.7,76.5 L939.8,74.1 L941.4,71.9 L943.5,71.0 L945.7,72.0 L947.7,74.1 L948.9,76.4 L949.6,78.8 L950.3,81.2 L950.9,83.6 L951.5,86.0 L952.1,88.4 L952.7,90.8 L953.2,93.2 L953.8,95.7 L954.3,98.1 L954.8,100.5 L955.3,103.0 L955.7,105.4 L956.2,107.9 L956.6,110.3 L957.1,112.8 L957.5,115.2 L957.9,117.7 L958.3,120.2 L958.6,122.6 L959.0,125.1 L959.3,127.6 L959.7,130.1 L960.0,132.6 L960.4,135.0 L960.7,137.5 L961.0,140.0 L961.3,142.5 L961.6,145.0 L961.9,147.5 L962.2,150.0 L962.4,152.5 L962.7,155.0 L963.0,157.4 L963.3,159.9 L963.5,162.4 L963.8,164.9 L964.1,167.4 L964.3,169.9 L964.6,172.4 L964.8,174.9 L965.1,177.4 L965.3,179.9 L965.6,182.4 L965.8,184.9 L966.1,187.4 L966.3,189.9 L966.6,192.4 L966.8,194.8 L967.0,197.3 L967.3,199.8 L967.5,202.3 L967.8,204.8 L968.0,207.3 L968.2,209.8 L968.4,212.3 L968.7,214.8 L968.9,217.3 L969.1,219.8 L969.3,222.3 L969.6,224.8 L969.8,227.2 L970.0,229.7 L970.2,232.2 L970.4,234.7 L970.6,237.2 L970.9,239.7 L971.1,242.2 L971.3,244.7 L971.5,247.2 L971.7,249.7 L971.9,252.2 L972.1,254.7 L972.3,257.1 L972.5,259.6 L972.7,262.1 L972.9,264.6 L973.1,267.1 L973.3,269.6 L973.5,272.1 L973.7,274.6 L973.9,277.1 L974.1,279.6 L974.3,282.1 L974.5,284.5 L974.7,287.0 L974.9,289.5 L975.1,292.0 L975.3,294.5 L975.5,297.0 L975.7,299.5 L975.8,302.0 L976.0,304.5 L976.2,307.0 L976.4,309.5 L976.6,311.9 L976.8,314.4 L977.0,316.9 L977.2,319.4 L977.4,321.9 L977.6,324.4 L977.7,326.9 L977.9,329.4 L978.1,331.9 L978.3,334.4 L978.5,336.9 L978.7,339.4 L978.9,341.8 L979.1,344.3 L979.2,346.8 L979.4,349.3 L979.6,351.8 L979.8,354.3 L980.0,356.8 L980.2,359.3 L980.4,361.8 L980.6,364.3 L980.8,366.8 L980.9,369.2 L981.1,371.7 L981.3,374.2 L981.5,376.7 L981.7,379.2 L981.9,381.7 L982.1,384.2 L982.3,386.7 L982.5,389.2 L982.7,391.7 L982.9,394.2 L983.1,396.6 L983.3,399.1 L983.5,401.6 L983.7,404.1 L983.9,406.6 L984.1,409.1 L984.3,411.6 L984.5,414.1 L984.7,416.6 L984.9,419.1 L985.1,421.6 L985.3,424.1 L985.5,426.5 L985.7,429.0 L985.9,431.5 L986.1,434.0 L986.3,436.5 L986.5,439.0 L986.7,441.5 L986.9,444.0 L987.1,446.5 L987.3,449.0 L987.5,451.5 L987.7,453.9 L987.9,456.4 L988.2,458.9 L988.4,461.4 L988.6,463.9 L988.8,466.4 L989.0,468.9 L989.2,471.4 L989.4,473.9 L989.7,476.4 L989.9,478.9 L990.1,481.3 L990.3,483.8 L990.5,486.3 L990.7,488.8 L991.0,491.3 L991.2,493.8 L991.4,496.3 L991.6,498.8 L991.9,501.3 L992.1,503.8 L992.3,506.2 L992.5,508.7 L992.8,511.2 L993.0,513.7 L993.2,516.2 L993.5,518.7 L993.7,521.2 L993.9,523.7 L994.2,526.2 L994.4,528.6 L994.7,531.1 L994.9,533.6 L995.1,536.1 L995.4,538.6 L995.6,541.1 L995.9,543.6 L996.1,546.1 L996.3,548.5 L996.6,551.0 L996.8,553.5 L997.1,556.0 L997.3,558.5 L997.6,561.0 L997.8,563.5 L998.1,566.0 L998.4,568.4 L998.6,570.9 L998.9,573.4 L999.1,575.9 L999.4,578.4 L999.6,580.9 L999.9,583.4 L1000.2,585.9 L1000.4,588.3 L1000.7,590.8 L1001.0,593.3 L1001.2,595.8 L1001.5,598.3 L1001.8,600.8 L1002.1,603.2 L1002.3,605.7 L1002.6,608.2 L1002.9,610.7 L1003.2,613.2 L1003.4,615.7 L1003.7,618.2 L1004.0,620.6 L1004.3,623.1 L1004.6,625.6 L1004.9,628.1 L1005.2,630.6 L1005.5,633.1 L1005.7,635.5 L1006.0,638.0 L1006.3,640.5 L1006.6,643.0 L1006.9,645.5 L1007.2,647.9 L1007.5,650.4 L1007.8,652.9 L1008.1,655.4 L1008.4,657.9 L1008.8,660.4 L1009.1,662.8 L1009.4,665.3 L1009.7,667.8 L1010.0,670.3 L1010.3,672.8 L1010.6,675.2 L1011.0,677.7 L1011.3,680.2 L1011.6,682.7 L1011.9,685.2 L1012.3,687.6 L1012.6,690.1 L1012.9,692.6 L1013.2,695.1 L1013.6,697.5 L1013.9,700.0 L1014.3,702.5 L1014.6,705.0 L1014.9,707.5 L1015.3,709.9 L1015.6,712.4 L1016.0,714.9 L1016.3,717.4 L1016.7,719.8 L1017.0,722.3 L1017.4,724.8 L1017.7,727.3 L1018.1,729.7 L1018.5,732.2 L1018.8,734.7 L1019.2,737.2 L1019.5,739.6 L1019.9,742.1 L1020.3,744.6 L1020.7,747.0 L1021.0,749.5 L1021.4,752.0 L1021.8,754.5 L1022.2,756.9 L1022.5,759.4 L1022.9,761.9 L1023.3,764.3 L1023.7,766.8 L1024.1,769.3 L1024.5,771.8 L1024.9,774.2 L1025.3,776.7 L1025.7,779.2 L1026.1,781.6 L1026.5,784.1 L1026.9,786.6 L1027.3,789.0 L1027.7,791.5 L1028.1,794.0 L1028.5,796.4 L1029.0,798.9 L1029.4,801.4 L1029.8,803.8 L1030.2,806.3 L1030.6,808.8 L1031.1,811.2 L1031.5,813.7 L1031.9,816.2 L1032.4,818.6 L1032.8,821.1 L1033.2,823.5 L1033.7,826.0 L1034.1,828.5 L1034.6,830.9 L1035.0,833.4 L1035.5,835.9 L1035.9,838.3 L1036.4,840.8 L1036.8,843.2 L1037.3,845.7 L1037.8,848.1 L1038.2,850.6 L1038.7,853.1 L1039.2,855.5 L1039.6,858.0 L1040.1,860.4 L1040.6,862.9 L1041.1,865.3 L1041.5,867.8 L1042.0,870.2 L1042.5,872.7 L1043.0,875.1 L1043.5,877.6 L1044.0,880.0 L1044.5,882.5 L1045.0,884.9 L1045.5,887.4 L1046.0,889.8 L1046.5,892.3 L1047.0,894.7 L1047.5,897.2 L1048.0,899.6 L1048.6,902.1 L1049.1,904.5 L1049.6,907.0 L1050.1,909.4 L1050.7,911.8 L1051.2,914.3 L1051.7,916.7 L1052.3,919.2 L1052.8,921.6 L1053.3,924.0 L1053.9,926.5 L1054.4,928.9 L1055.0,931.3 L1055.5,933.8 L1056.1,936.2 L1056.6,938.6 L1057.2,941.1 L1057.8,943.5 L1058.4,945.9 L1058.9,948.4 L1059.5,950.8 L1060.1,953.2 L1060.7,955.6 L1061.3,958.1 L1061.9,960.5 L1062.6,962.9 L1063.2,965.3 L1063.8,967.7 L1064.5,970.1 L1065.1,972.5 L1065.8,974.9 L1066.5,977.3 L1067.2,979.7 L1067.9,982.1 L1068.6,984.5 L1069.4,986.9 L1070.1,989.3 L1070.9,991.7 L1071.6,994.1 L1072.4,996.4 L1073.2,998.8 L1074.0,1001.2 L1074.9,1003.5 L1075.7,1005.9 L1076.6,1008.3 L1077.5,1010.6 L1078.4,1013.0 L1079.0,1014.5" fill="none" stroke="#000" stroke-width="4.9" stroke-linejoin="round" stroke-linecap="butt"/>
<rect x="233.4" y="1041.1" width="448.6" height="5.6" fill="#000"/>
<path d="M1324.3,1042.8 L1326.8,1042.8 L1329.3,1042.8 L1331.8,1042.6 L1334.3,1042.4 L1336.8,1042.1 L1339.2,1041.7 L1341.7,1041.2 L1344.2,1040.7 L1346.6,1040.1 L1349.0,1039.5 L1351.5,1038.9 L1353.9,1038.2 L1356.3,1037.5 L1358.8,1036.8 L1361.2,1036.1 L1363.6,1035.4 L1366.0,1034.7 L1368.4,1034.1 L1370.9,1033.4 L1373.3,1032.8 L1375.7,1032.3 L1378.1,1031.7 L1380.5,1031.3 L1382.9,1030.9 L1385.4,1030.5 L1387.8,1030.3 L1390.2,1030.1 L1392.6,1030.1 L1395.1,1030.1 L1397.5,1030.2 L1400.0,1030.5 L1402.4,1030.8 L1404.8,1031.2 L1407.3,1031.6 L1409.8,1032.2 L1412.2,1032.7 L1414.7,1033.4 L1417.1,1034.0 L1419.6,1034.7 L1422.1,1035.4 L1424.5,1036.2 L1427.0,1036.9 L1429.5,1037.6 L1431.9,1038.4 L1434.4,1039.1 L1436.9,1039.8 L1439.3,1040.4 L1441.8,1041.0 L1444.3,1041.6 L1446.7,1042.1 L1449.2,1042.6 L1451.7,1042.9 L1454.1,1043.2 L1456.6,1043.4 L1459.1,1043.6 L1461.5,1043.6 L1464.0,1043.5 L1466.4,1043.3 L1468.8,1043.0 L1471.3,1042.6 L1473.7,1042.1 L1476.1,1041.4 L1478.5,1040.7 L1480.8,1039.9 L1483.1,1039.0 L1485.4,1038.1 L1487.7,1037.0 L1489.9,1035.8 L1492.1,1034.6 L1494.2,1033.3 L1496.3,1031.9 L1498.4,1030.4 L1500.4,1028.9 L1502.3,1027.3 L1504.2,1025.6 L1506.0,1023.8 L1507.8,1022.0 L1509.5,1020.2 L1511.1,1018.2 L1512.6,1016.3 L1514.1,1014.2 L1515.5,1012.2 L1516.9,1010.0 L1518.3,1007.9 L1519.5,1005.7 L1520.8,1003.5 L1522.1,1001.3 L1523.3,999.1 L1524.5,996.9 L1525.7,994.7 L1526.9,992.4 L1528.1,990.2 L1529.3,988.0 L1530.6,985.9 L1531.9,983.7 L1533.2,981.6 L1534.6,979.5 L1536.0,977.5 L1537.4,975.5 L1539.0,973.6 L1540.6,971.7 L1542.2,969.9 L1544.0,968.2 L1545.8,966.6 L1547.7,965.0 L1549.7,963.4 L1551.7,961.9 L1553.7,960.4 L1555.8,959.0 L1557.9,957.6 L1560.1,956.2 L1562.2,954.8 L1564.4,953.4 L1566.5,952.1 L1568.6,950.7 L1570.7,949.3 L1572.8,947.8 L1574.9,946.4 L1576.9,944.9 L1578.8,943.3 L1580.7,941.8 L1582.5,940.1 L1584.2,938.4 L1585.9,936.6 L1587.4,934.8 L1588.9,932.8 L1590.2,930.8 L1591.5,928.7 L1592.7,926.5 L1593.8,924.3 L1594.8,922.0 L1595.8,919.7 L1596.7,917.3 L1597.6,914.9 L1598.4,912.5 L1599.2,910.0 L1600.0,907.6 L1600.8,905.1 L1601.5,902.6 L1602.3,900.2 L1603.0,897.7 L1603.8,895.3 L1604.5,892.9 L1605.3,890.5 L1606.2,888.2 L1607.0,885.8 L1607.8,883.5 L1608.6,881.2 L1609.5,878.9 L1610.3,876.6 L1611.1,874.2 L1611.9,871.9 L1612.7,869.6 L1613.5,867.2 L1614.3,864.9 L1615.1,862.5 L1615.9,860.2 L1616.6,857.8 L1617.4,855.4 L1618.2,853.1 L1618.9,850.7 L1619.7,848.3 L1620.5,845.9 L1621.2,843.5 L1622.0,841.1 L1622.7,838.8 L1623.5,836.4 L1624.3,834.0 L1625.0,831.6 L1625.8,829.2 L1626.6,826.8 L1627.3,824.4 L1628.1,822.0 L1628.9,819.7 L1629.7,817.3 L1630.5,814.9 L1631.3,812.5 L1632.1,810.2 L1632.9,807.8 L1633.7,805.5 L1634.5,803.1 L1635.3,800.7 L1636.2,798.4 L1637.0,796.0 L1637.8,793.7 L1638.7,791.3 L1639.5,789.0 L1640.4,786.6 L1641.2,784.3 L1642.1,782.0 L1642.9,779.6 L1643.8,777.3 L1644.7,774.9 L1645.5,772.6 L1646.4,770.3 L1647.3,767.9 L1648.2,765.6 L1649.1,763.3 L1649.9,760.9 L1650.8,758.6 L1651.7,756.2 L1652.6,753.9 L1653.5,751.6 L1654.4,749.2 L1655.3,746.9 L1656.2,744.5 L1657.0,742.2 L1657.9,739.9 L1658.8,737.5 L1659.7,735.2 L1660.6,732.8 L1661.4,730.5 L1662.3,728.1 L1663.2,725.8 L1664.0,723.4 L1664.9,721.1 L1665.7,718.7 L1666.6,716.4 L1667.4,714.0 L1668.2,711.6 L1669.1,709.3 L1669.9,706.9 L1670.7,704.6 L1671.5,702.2 L1672.3,699.8 L1673.0,697.4 L1673.8,695.1 L1674.6,692.7 L1675.3,690.3 L1676.0,687.9 L1676.8,685.5 L1677.5,683.1 L1678.2,680.7 L1678.9,678.3 L1679.5,675.9 L1680.2,673.5 L1680.8,671.1 L1681.4,668.7 L1682.1,666.3 L1682.7,663.9 L1683.2,661.4 L1683.8,659.0 L1684.4,656.6 L1684.9,654.1 L1685.5,651.7 L1686.0,649.3 L1686.5,646.8 L1687.0,644.4 L1687.5,641.9 L1688.0,639.5 L1688.4,637.0 L1688.9,634.6 L1689.3,632.1 L1689.8,629.7 L1690.2,627.2 L1690.6,624.7 L1691.1,622.3 L1691.5,619.8 L1691.9,617.3 L1692.3,614.9 L1692.6,612.4 L1693.0,609.9 L1693.4,607.4 L1693.8,605.0 L1694.1,602.5 L1694.5,600.0 L1694.8,597.5 L1695.2,595.1 L1695.5,592.6 L1695.9,590.1 L1696.2,587.6 L1696.5,585.1 L1696.8,582.6 L1697.2,580.2 L1697.5,577.7 L1697.8,575.2 L1698.1,572.7 L1698.4,570.2 L1698.7,567.7 L1699.0,565.3 L1699.3,562.8 L1699.7,560.3 L1700.0,557.8 L1700.3,555.3 L1700.6,552.8 L1700.9,550.4 L1701.2,547.9 L1701.5,545.4 L1701.8,542.9 L1702.1,540.4 L1702.4,537.9 L1702.6,535.5 L1702.9,533.0 L1703.2,530.5 L1703.5,528.0 L1703.8,525.5 L1704.1,523.0 L1704.4,520.5 L1704.7,518.1 L1705.0,515.6 L1705.2,513.1 L1705.5,510.6 L1705.8,508.1 L1706.1,505.6 L1706.4,503.2 L1706.7,500.7 L1706.9,498.2 L1707.2,495.7 L1707.5,493.2 L1707.8,490.7 L1708.1,488.3 L1708.3,485.8 L1708.6,483.3 L1708.9,480.8 L1709.2,478.3 L1709.5,475.8 L1709.7,473.4 L1710.0,470.9 L1710.3,468.4 L1710.6,465.9 L1710.8,463.4 L1711.1,460.9 L1711.4,458.5 L1711.7,456.0 L1712.0,453.5 L1712.2,451.0 L1712.5,448.5 L1712.8,446.1 L1713.1,443.6 L1713.4,441.1 L1713.6,438.6 L1713.9,436.1 L1714.2,433.6 L1714.5,431.2 L1714.8,428.7 L1715.1,426.2 L1715.3,423.7 L1715.6,421.2 L1715.9,418.7 L1716.2,416.3 L1716.5,413.8 L1716.8,411.3 L1717.1,408.8 L1717.4,406.3 L1717.6,403.9 L1717.9,401.4 L1718.2,398.9 L1718.5,396.4 L1718.8,393.9 L1719.1,391.5 L1719.4,389.0 L1719.7,386.5 L1720.0,384.0 L1720.3,381.5 L1720.6,379.1 L1720.9,376.6 L1721.2,374.1 L1721.5,371.6 L1721.9,369.1 L1722.2,366.7 L1722.5,364.2 L1722.8,361.7 L1723.1,359.2 L1723.4,356.7 L1723.7,354.3 L1724.1,351.8 L1724.4,349.3 L1724.7,346.8 L1725.0,344.3 L1725.4,341.9 L1725.7,339.4 L1726.0,336.9 L1726.4,334.4 L1726.7,332.0 L1727.0,329.5 L1727.4,327.0 L1727.7,324.5 L1728.1,322.0 L1728.4,319.6 L1728.7,317.1 L1729.1,314.6 L1729.4,312.1 L1729.8,309.7 L1730.1,307.2 L1730.5,304.7 L1730.8,302.2 L1731.2,299.8 L1731.5,297.3 L1731.9,294.8 L1732.3,292.3 L1732.6,289.9 L1733.0,287.4 L1733.4,284.9 L1733.7,282.4 L1734.1,280.0 L1734.5,277.5 L1734.8,275.0 L1735.2,272.5 L1735.6,270.1 L1736.0,267.6 L1736.3,265.1 L1736.7,262.7 L1737.1,260.2 L1737.5,257.7 L1737.9,255.2 L1738.3,252.8 L1738.7,250.3 L1739.1,247.8 L1739.4,245.4 L1739.8,242.9 L1740.2,240.4 L1740.6,238.0 L1741.0,235.5 L1741.4,233.0 L1741.8,230.6 L1742.3,228.1 L1742.7,225.6 L1743.1,223.2 L1743.5,220.7 L1743.9,218.2 L1744.3,215.8 L1744.7,213.3 L1745.1,210.8 L1745.6,208.4 L1746.0,205.9 L1746.4,203.4 L1746.8,201.0 L1747.3,198.5 L1747.7,196.0 L1748.1,193.6 L1748.5,191.1 L1749.0,188.7 L1749.4,186.2 L1749.9,183.7 L1750.3,181.3 L1750.7,178.8 L1751.2,176.4 L1751.6,173.9 L1752.1,171.4 L1752.5,169.0 L1753.0,166.5 L1753.4,164.1 L1753.9,161.6 L1754.4,159.2 L1754.8,156.7 L1755.3,154.3 L1755.8,151.8 L1756.3,149.4 L1756.8,146.9 L1757.3,144.5 L1757.8,142.0 L1758.3,139.6 L1758.8,137.1 L1759.3,134.7 L1759.9,132.3 L1760.4,129.8 L1761.0,127.4 L1761.5,125.0 L1762.1,122.6 L1762.7,120.1 L1763.2,117.7 L1763.8,115.3 L1764.4,112.9 L1765.1,110.5 L1765.7,108.1 L1766.3,105.7 L1767.0,103.3 L1767.7,100.9 L1768.5,98.5 L1769.3,96.2 L1770.2,93.8 L1771.1,91.5 L1772.1,89.2 L1773.2,86.9 L1774.4,84.7 L1775.6,82.4 L1777.0,80.2 L1778.5,78.0 L1780.1,75.9 L1781.8,74.0 L1783.8,72.3 L1785.9,70.9 L1788.1,70.0 L1790.5,69.5 L1792.9,69.5 L1795.3,70.0 L1797.6,70.8 L1799.8,72.0 L1801.9,73.4 L1803.9,75.1 L1805.7,76.9 L1807.3,78.8 L1808.9,80.9 L1810.3,83.0 L1811.7,85.3 L1813.0,87.6 L1814.2,89.9 L1815.4,92.3 L1816.6,94.6 L1817.8,96.9 L1818.9,99.2 L1820.0,101.4 L1821.1,103.6 L1822.2,105.8 L1823.3,108.0 L1824.4,110.2 L1825.5,112.4 L1826.5,114.6 L1827.5,116.8 L1828.6,119.0 L1829.6,121.2 L1830.6,123.4 L1831.6,125.7 L1832.6,127.9 L1833.5,130.2 L1834.5,132.4 L1835.5,134.7 L1836.4,137.0 L1837.3,139.2 L1838.3,141.5 L1839.2,143.8 L1840.1,146.1 L1841.0,148.4 L1841.8,150.8 L1842.7,153.1 L1843.6,155.4 L1844.4,157.7 L1845.3,160.1 L1846.1,162.4 L1846.9,164.8 L1847.8,167.1 L1848.6,169.5 L1849.4,171.9 L1850.2,174.2 L1850.9,176.6 L1851.7,179.0 L1852.5,181.4 L1853.3,183.8 L1854.0,186.1 L1854.7,188.5 L1855.5,190.9 L1856.2,193.3 L1856.9,195.7 L1857.7,198.2 L1858.4,200.6 L1859.1,203.0 L1859.8,205.4 L1860.4,207.8 L1861.1,210.2 L1861.8,212.7 L1862.5,215.1 L1863.1,217.5 L1863.8,219.9 L1864.4,222.4 L1865.1,224.8 L1865.7,227.2 L1866.3,229.6 L1867.0,232.1 L1867.6,234.5 L1868.2,236.9 L1868.8,239.4 L1869.4,241.8 L1870.0,244.2 L1870.6,246.7 L1871.2,249.1 L1871.8,251.6 L1872.3,254.0 L1872.9,256.4 L1873.5,258.9 L1874.0,261.3 L1874.6,263.7 L1875.1,266.2 L1875.7,268.6 L1876.2,271.1 L1876.8,273.5 L1877.3,276.0 L1877.8,278.4 L1878.4,280.9 L1878.9,283.3 L1879.4,285.7 L1879.9,288.2 L1880.4,290.6 L1880.9,293.1 L1881.4,295.5 L1881.9,298.0 L1882.4,300.4 L1882.9,302.9 L1883.4,305.3 L1883.9,307.8 L1884.3,310.2 L1884.8,312.7 L1885.3,315.1 L1885.7,317.6 L1886.2,320.0 L1886.7,322.5 L1887.1,325.0 L1887.6,327.4 L1888.0,329.9 L1888.5,332.3 L1888.9,334.8 L1889.4,337.2 L1889.8,339.7 L1890.2,342.2 L1890.7,344.6 L1891.1,347.1 L1891.5,349.5 L1892.0,352.0 L1892.4,354.4 L1892.8,356.9 L1893.2,359.4 L1893.7,361.8 L1894.1,364.3 L1894.5,366.8 L1894.9,369.2 L1895.3,371.7 L1895.7,374.1 L1896.1,376.6 L1896.5,379.1 L1896.9,381.5 L1897.3,384.0 L1897.7,386.5 L1898.1,388.9 L1898.5,391.4 L1898.9,393.9 L1899.3,396.3 L1899.7,398.8 L1900.1,401.2 L1900.5,403.7 L1900.9,406.2 L1901.3,408.6 L1901.7,411.1 L1902.1,413.6 L1902.5,416.0 L1902.9,418.5 L1903.3,421.0 L1903.7,423.4 L1904.1,425.9 L1904.4,428.4 L1904.8,430.8 L1905.2,433.3 L1905.6,435.8 L1906.0,438.2 L1906.4,440.7 L1906.8,443.2 L1907.2,445.7 L1907.6,448.1 L1908.0,450.6 L1908.3,453.1 L1908.7,455.5 L1909.1,458.0 L1909.5,460.5 L1909.9,462.9 L1910.3,465.4 L1910.7,467.9 L1911.1,470.3 L1911.5,472.8 L1911.9,475.3 L1912.3,477.7 L1912.7,480.2 L1913.1,482.7 L1913.5,485.1 L1913.9,487.6 L1914.3,490.1 L1914.7,492.6 L1915.1,495.0 L1915.5,497.5 L1915.9,500.0 L1916.3,502.4 L1916.7,504.9 L1917.1,507.4 L1917.6,509.8 L1918.0,512.3 L1918.4,514.8 L1918.8,517.2 L1919.2,519.7 L1919.6,522.2 L1920.0,524.6 L1920.5,527.1 L1920.9,529.6 L1921.3,532.0 L1921.7,534.5 L1922.1,537.0 L1922.6,539.4 L1923.0,541.9 L1923.4,544.4 L1923.8,546.8 L1924.3,549.3 L1924.7,551.7 L1925.1,554.2 L1925.6,556.7 L1926.0,559.1 L1926.4,561.6 L1926.9,564.1 L1927.3,566.5 L1927.8,569.0 L1928.2,571.5 L1928.7,573.9 L1929.1,576.4 L1929.5,578.8 L1930.0,581.3 L1930.4,583.8 L1930.9,586.2 L1931.4,588.7 L1931.8,591.1 L1932.3,593.6 L1932.7,596.1 L1933.2,598.5 L1933.7,601.0 L1934.1,603.4 L1934.6,605.9 L1935.1,608.3 L1935.5,610.8 L1936.0,613.3 L1936.5,615.7 L1937.0,618.2 L1937.4,620.6 L1937.9,623.1 L1938.4,625.5 L1938.9,628.0 L1939.4,630.4 L1939.9,632.9 L1940.4,635.3 L1940.8,637.8 L1941.3,640.2 L1941.8,642.7 L1942.3,645.1 L1942.8,647.6 L1943.4,650.0 L1943.9,652.5 L1944.4,654.9 L1944.9,657.4 L1945.4,659.8 L1945.9,662.3 L1946.4,664.7 L1947.0,667.2 L1947.5,669.6 L1948.1,672.0 L1948.6,674.5 L1949.1,676.9 L1949.7,679.4 L1950.3,681.8 L1950.8,684.2 L1951.4,686.6 L1952.0,689.1 L1952.6,691.5 L1953.2,693.9 L1953.8,696.3 L1954.4,698.8 L1955.1,701.2 L1955.7,703.6 L1956.3,706.0 L1957.0,708.4 L1957.7,710.8 L1958.4,713.2 L1959.0,715.6 L1959.7,718.0 L1960.5,720.3 L1961.2,722.7 L1961.9,725.1 L1962.7,727.5 L1963.5,729.8 L1964.2,732.2 L1965.0,734.6 L1965.9,736.9 L1966.7,739.3 L1967.5,741.6 L1968.4,744.0 L1969.3,746.3 L1970.2,748.6 L1971.1,750.9 L1972.0,753.3 L1972.9,755.6 L1973.9,757.9 L1974.8,760.2 L1975.8,762.5 L1976.8,764.8 L1977.8,767.1 L1978.8,769.4 L1979.8,771.7 L1980.8,774.0 L1981.8,776.3 L1982.8,778.6 L1983.8,780.9 L1984.8,783.2 L1985.8,785.5 L1986.8,787.8 L1987.8,790.1 L1988.7,792.4 L1989.7,794.7 L1990.7,797.1 L1991.7,799.4 L1992.6,801.7 L1993.5,804.0 L1994.5,806.4 L1995.4,808.7 L1996.3,811.1 L1997.2,813.4 L1998.0,815.8 L1998.9,818.2 L1999.7,820.5 L2000.5,822.9 L2001.3,825.3 L2002.1,827.7 L2002.9,830.1 L2003.7,832.5 L2004.5,834.9 L2005.2,837.3 L2006.0,839.7 L2006.7,842.1 L2007.5,844.5 L2008.2,846.9 L2009.0,849.2 L2009.7,851.6 L2010.5,854.0 L2011.2,856.4 L2012.0,858.8 L2012.7,861.2 L2013.5,863.5 L2014.2,865.9 L2015.0,868.3 L2015.8,870.6 L2016.5,873.0 L2017.3,875.4 L2018.1,877.7 L2018.9,880.1 L2019.6,882.4 L2020.4,884.8 L2021.2,887.1 L2022.0,889.5 L2022.8,891.8 L2023.6,894.2 L2024.5,896.5 L2025.3,898.8 L2026.1,901.2 L2027.0,903.5 L2027.8,905.8 L2028.7,908.1 L2029.5,910.4 L2030.4,912.8 L2031.3,915.1 L2032.2,917.4 L2033.1,919.7 L2034.0,922.0 L2034.9,924.3 L2035.9,926.6 L2036.8,928.9 L2037.8,931.2 L2038.8,933.5 L2039.8,935.8 L2040.8,938.1 L2041.8,940.4 L2042.8,942.7 L2043.8,944.9 L2044.9,947.2 L2045.9,949.5 L2047.0,951.8 L2048.1,954.0 L2049.2,956.3 L2050.4,958.6 L2051.5,960.9 L2052.7,963.1 L2053.9,965.4 L2055.1,967.6 L2056.3,969.9 L2057.5,972.1 L2058.8,974.3 L2060.0,976.5 L2061.3,978.7 L2062.6,980.9 L2064.0,983.1 L2065.4,985.2 L2066.7,987.3 L2068.2,989.5 L2069.6,991.5 L2071.1,993.6 L2072.5,995.6 L2074.1,997.6 L2075.6,999.6 L2077.2,1001.5 L2078.8,1003.4 L2080.4,1005.3 L2082.1,1007.2 L2083.8,1009.0 L2085.5,1010.7 L2087.3,1012.5 L2089.0,1014.1 L2090.9,1015.8 L2092.7,1017.4 L2094.6,1018.9 L2096.5,1020.4 L2098.5,1021.9 L2100.5,1023.3 L2102.6,1024.6 L2104.6,1025.9 L2106.8,1027.2 L2108.9,1028.4 L2111.1,1029.5 L2113.3,1030.6 L2115.6,1031.6 L2117.9,1032.5 L2120.3,1033.3 L2122.7,1034.1 L2125.1,1034.7 L2127.5,1035.2 L2129.9,1035.6 L2132.4,1035.9 L2134.9,1036.0 L2137.4,1036.0 L2139.9,1035.8 L2142.4,1035.4 L2144.9,1034.9 L2147.4,1034.2 L2149.9,1033.5 L2152.4,1032.7 L2154.9,1031.8 L2157.3,1031.0 L2159.8,1030.3 L2162.3,1029.7 L2164.7,1029.3 L2167.1,1029.1 L2169.5,1029.1 L2169.7,1029.1 L2169.7,1043.8 L1324.3,1043.8 Z" fill="rgba(255,120,109,0.6)"/>
<path d="M1324.3,1042.8 L1326.8,1042.8 L1329.3,1042.8 L1331.8,1042.6 L1334.3,1042.4 L1336.8,1042.1 L1339.2,1041.7 L1341.7,1041.2 L1344.2,1040.7 L1346.6,1040.1 L1349.0,1039.5 L1351.5,1038.9 L1353.9,1038.2 L1356.3,1037.5 L1358.8,1036.8 L1361.2,1036.1 L1363.6,1035.4 L1366.0,1034.7 L1368.4,1034.1 L1370.9,1033.4 L1373.3,1032.8 L1375.7,1032.3 L1378.1,1031.7 L1380.5,1031.3 L1382.9,1030.9 L1385.4,1030.5 L1387.8,1030.3 L1390.2,1030.1 L1392.6,1030.1 L1395.1,1030.1 L1397.5,1030.2 L1400.0,1030.5 L1402.4,1030.8 L1404.8,1031.2 L1407.3,1031.6 L1409.8,1032.2 L1412.2,1032.7 L1414.7,1033.4 L1417.1,1034.0 L1419.6,1034.7 L1422.1,1035.4 L1424.5,1036.2 L1427.0,1036.9 L1429.5,1037.6 L1431.9,1038.4 L1434.4,1039.1 L1436.9,1039.8 L1439.3,1040.4 L1441.8,1041.0 L1444.3,1041.6 L1446.7,1042.1 L1449.2,1042.6 L1451.7,1042.9 L1454.1,1043.2 L1456.6,1043.4 L1459.1,1043.6 L1461.5,1043.6 L1464.0,1043.5 L1466.4,1043.3 L1468.8,1043.0 L1471.3,1042.6 L1473.7,1042.1 L1476.1,1041.4 L1478.5,1040.7 L1480.8,1039.9 L1483.1,1039.0 L1485.4,1038.1 L1487.7,1037.0 L1489.9,1035.8 L1492.1,1034.6 L1494.2,1033.3 L1496.3,1031.9 L1498.4,1030.4 L1500.4,1028.9 L1502.3,1027.3 L1504.2,1025.6 L1506.0,1023.8 L1507.8,1022.0 L1509.5,1020.2 L1511.1,1018.2 L1512.6,1016.3 L1514.1,1014.2 L1515.5,1012.2 L1516.9,1010.0 L1518.3,1007.9 L1519.5,1005.7 L1520.8,1003.5 L1522.1,1001.3 L1523.3,999.1 L1524.5,996.9 L1525.7,994.7 L1526.9,992.4 L1528.1,990.2 L1529.3,988.0 L1530.6,985.9 L1531.9,983.7 L1533.2,981.6 L1534.6,979.5 L1536.0,977.5 L1537.4,975.5 L1539.0,973.6 L1540.6,971.7 L1542.2,969.9 L1544.0,968.2 L1545.8,966.6 L1547.7,965.0 L1549.7,963.4 L1551.7,961.9 L1553.7,960.4 L1555.8,959.0 L1557.9,957.6 L1560.1,956.2 L1562.2,954.8 L1564.4,953.4 L1566.5,952.1 L1568.6,950.7 L1570.7,949.3 L1572.8,947.8 L1574.9,946.4 L1576.9,944.9 L1578.8,943.3 L1580.7,941.8 L1582.5,940.1 L1584.2,938.4 L1585.9,936.6 L1587.4,934.8 L1588.9,932.8 L1590.2,930.8 L1591.5,928.7 L1592.7,926.5 L1593.8,924.3 L1594.8,922.0 L1595.8,919.7 L1596.7,917.3 L1597.6,914.9 L1598.4,912.5 L1599.2,910.0 L1600.0,907.6 L1600.8,905.1 L1601.5,902.6 L1602.3,900.2 L1603.0,897.7 L1603.8,895.3 L1604.5,892.9 L1605.3,890.5 L1606.2,888.2 L1607.0,885.8 L1607.8,883.5 L1608.6,881.2 L1609.5,878.9 L1610.3,876.6 L1611.1,874.2 L1611.9,871.9 L1612.7,869.6 L1613.5,867.2 L1614.3,864.9 L1615.1,862.5 L1615.9,860.2 L1616.6,857.8 L1617.4,855.4 L1618.2,853.1 L1618.9,850.7 L1619.7,848.3 L1620.5,845.9 L1621.2,843.5 L1622.0,841.1 L1622.7,838.8 L1623.5,836.4 L1624.3,834.0 L1625.0,831.6 L1625.8,829.2 L1626.6,826.8 L1627.3,824.4 L1628.1,822.0 L1628.9,819.7 L1629.7,817.3 L1630.5,814.9 L1631.3,812.5 L1632.1,810.2 L1632.9,807.8 L1633.7,805.5 L1634.5,803.1 L1635.3,800.7 L1636.2,798.4 L1637.0,796.0 L1637.8,793.7 L1638.7,791.3 L1639.5,789.0 L1640.4,786.6 L1641.2,784.3 L1642.1,782.0 L1642.9,779.6 L1643.8,777.3 L1644.7,774.9 L1645.5,772.6 L1646.4,770.3 L1647.3,767.9 L1648.2,765.6 L1649.1,763.3 L1649.9,760.9 L1650.8,758.6 L1651.7,756.2 L1652.6,753.9 L1653.5,751.6 L1654.4,749.2 L1655.3,746.9 L1656.2,744.5 L1657.0,742.2 L1657.9,739.9 L1658.8,737.5 L1659.7,735.2 L1660.6,732.8 L1661.4,730.5 L1662.3,728.1 L1663.2,725.8 L1664.0,723.4 L1664.9,721.1 L1665.7,718.7 L1666.6,716.4 L1667.4,714.0 L1668.2,711.6 L1669.1,709.3 L1669.9,706.9 L1670.7,704.6 L1671.5,702.2 L1672.3,699.8 L1673.0,697.4 L1673.8,695.1 L1674.6,692.7 L1675.3,690.3 L1676.0,687.9 L1676.8,685.5 L1677.5,683.1 L1678.2,680.7 L1678.9,678.3 L1679.5,675.9 L1680.2,673.5 L1680.8,671.1 L1681.4,668.7 L1682.1,666.3 L1682.7,663.9 L1683.2,661.4 L1683.8,659.0 L1684.4,656.6 L1684.9,654.1 L1685.5,651.7 L1686.0,649.3 L1686.5,646.8 L1687.0,644.4 L1687.5,641.9 L1688.0,639.5 L1688.4,637.0 L1688.9,634.6 L1689.3,632.1 L1689.8,629.7 L1690.2,627.2 L1690.6,624.7 L1691.1,622.3 L1691.5,619.8 L1691.9,617.3 L1692.3,614.9 L1692.6,612.4 L1693.0,609.9 L1693.4,607.4 L1693.8,605.0 L1694.1,602.5 L1694.5,600.0 L1694.8,597.5 L1695.2,595.1 L1695.5,592.6 L1695.9,590.1 L1696.2,587.6 L1696.5,585.1 L1696.8,582.6 L1697.2,580.2 L1697.5,577.7 L1697.8,575.2 L1698.1,572.7 L1698.4,570.2 L1698.7,567.7 L1699.0,565.3 L1699.3,562.8 L1699.7,560.3 L1700.0,557.8 L1700.3,555.3 L1700.6,552.8 L1700.9,550.4 L1701.2,547.9 L1701.5,545.4 L1701.8,542.9 L1702.1,540.4 L1702.4,537.9 L1702.6,535.5 L1702.9,533.0 L1703.2,530.5 L1703.5,528.0 L1703.8,525.5 L1704.1,523.0 L1704.4,520.5 L1704.7,518.1 L1705.0,515.6 L1705.2,513.1 L1705.5,510.6 L1705.8,508.1 L1706.1,505.6 L1706.4,503.2 L1706.7,500.7 L1706.9,498.2 L1707.2,495.7 L1707.5,493.2 L1707.8,490.7 L1708.1,488.3 L1708.3,485.8 L1708.6,483.3 L1708.9,480.8 L1709.2,478.3 L1709.5,475.8 L1709.7,473.4 L1710.0,470.9 L1710.3,468.4 L1710.6,465.9 L1710.8,463.4 L1711.1,460.9 L1711.4,458.5 L1711.7,456.0 L1712.0,453.5 L1712.2,451.0 L1712.5,448.5 L1712.8,446.1 L1713.1,443.6 L1713.4,441.1 L1713.6,438.6 L1713.9,436.1 L1714.2,433.6 L1714.5,431.2 L1714.8,428.7 L1715.1,426.2 L1715.3,423.7 L1715.6,421.2 L1715.9,418.7 L1716.2,416.3 L1716.5,413.8 L1716.8,411.3 L1717.1,408.8 L1717.4,406.3 L1717.6,403.9 L1717.9,401.4 L1718.2,398.9 L1718.5,396.4 L1718.8,393.9 L1719.1,391.5 L1719.4,389.0 L1719.7,386.5 L1720.0,384.0 L1720.3,381.5 L1720.6,379.1 L1720.9,376.6 L1721.2,374.1 L1721.5,371.6 L1721.9,369.1 L1722.2,366.7 L1722.5,364.2 L1722.8,361.7 L1723.1,359.2 L1723.4,356.7 L1723.7,354.3 L1724.1,351.8 L1724.4,349.3 L1724.7,346.8 L1725.0,344.3 L1725.4,341.9 L1725.7,339.4 L1726.0,336.9 L1726.4,334.4 L1726.7,332.0 L1727.0,329.5 L1727.4,327.0 L1727.7,324.5 L1728.1,322.0 L1728.4,319.6 L1728.7,317.1 L1729.1,314.6 L1729.4,312.1 L1729.8,309.7 L1730.1,307.2 L1730.5,304.7 L1730.8,302.2 L1731.2,299.8 L1731.5,297.3 L1731.9,294.8 L1732.3,292.3 L1732.6,289.9 L1733.0,287.4 L1733.4,284.9 L1733.7,282.4 L1734.1,280.0 L1734.5,277.5 L1734.8,275.0 L1735.2,272.5 L1735.6,270.1 L1736.0,267.6 L1736.3,265.1 L1736.7,262.7 L1737.1,260.2 L1737.5,257.7 L1737.9,255.2 L1738.3,252.8 L1738.7,250.3 L1739.1,247.8 L1739.4,245.4 L1739.8,242.9 L1740.2,240.4 L1740.6,238.0 L1741.0,235.5 L1741.4,233.0 L1741.8,230.6 L1742.3,228.1 L1742.7,225.6 L1743.1,223.2 L1743.5,220.7 L1743.9,218.2 L1744.3,215.8 L1744.7,213.3 L1745.1,210.8 L1745.6,208.4 L1746.0,205.9 L1746.4,203.4 L1746.8,201.0 L1747.3,198.5 L1747.7,196.0 L1748.1,193.6 L1748.5,191.1 L1749.0,188.7 L1749.4,186.2 L1749.9,183.7 L1750.3,181.3 L1750.7,178.8 L1751.2,176.4 L1751.6,173.9 L1752.1,171.4 L1752.5,169.0 L1753.0,166.5 L1753.4,164.1 L1753.9,161.6 L1754.4,159.2 L1754.8,156.7 L1755.3,154.3 L1755.8,151.8 L1756.3,149.4 L1756.8,146.9 L1757.3,144.5 L1757.8,142.0 L1758.3,139.6 L1758.8,137.1 L1759.3,134.7 L1759.9,132.3 L1760.4,129.8 L1761.0,127.4 L1761.5,125.0 L1762.1,122.6 L1762.7,120.1 L1763.2,117.7 L1763.8,115.3 L1764.4,112.9 L1765.1,110.5 L1765.7,108.1 L1766.3,105.7 L1767.0,103.3 L1767.7,100.9 L1768.5,98.5 L1769.3,96.2 L1770.2,93.8 L1771.1,91.5 L1772.1,89.2 L1773.2,86.9 L1774.4,84.7 L1775.6,82.4 L1777.0,80.2 L1778.5,78.0 L1780.1,75.9 L1781.8,74.0 L1783.8,72.3 L1785.9,70.9 L1788.1,70.0 L1790.5,69.5 L1792.9,69.5 L1795.3,70.0 L1797.6,70.8 L1799.8,72.0 L1801.9,73.4 L1803.9,75.1 L1805.7,76.9 L1807.3,78.8 L1808.9,80.9 L1810.3,83.0 L1811.7,85.3 L1813.0,87.6 L1814.2,89.9 L1815.4,92.3 L1816.6,94.6 L1817.8,96.9 L1818.9,99.2 L1820.0,101.4 L1821.1,103.6 L1822.2,105.8 L1823.3,108.0 L1824.4,110.2 L1825.5,112.4 L1826.5,114.6 L1827.5,116.8 L1828.6,119.0 L1829.6,121.2 L1830.6,123.4 L1831.6,125.7 L1832.6,127.9 L1833.5,130.2 L1834.5,132.4 L1835.5,134.7 L1836.4,137.0 L1837.3,139.2 L1838.3,141.5 L1839.2,143.8 L1840.1,146.1 L1841.0,148.4 L1841.8,150.8 L1842.7,153.1 L1843.6,155.4 L1844.4,157.7 L1845.3,160.1 L1846.1,162.4 L1846.9,164.8 L1847.8,167.1 L1848.6,169.5 L1849.4,171.9 L1850.2,174.2 L1850.9,176.6 L1851.7,179.0 L1852.5,181.4 L1853.3,183.8 L1854.0,186.1 L1854.7,188.5 L1855.5,190.9 L1856.2,193.3 L1856.9,195.7 L1857.7,198.2 L1858.4,200.6 L1859.1,203.0 L1859.8,205.4 L1860.4,207.8 L1861.1,210.2 L1861.8,212.7 L1862.5,215.1 L1863.1,217.5 L1863.8,219.9 L1864.4,222.4 L1865.1,224.8 L1865.7,227.2 L1866.3,229.6 L1867.0,232.1 L1867.6,234.5 L1868.2,236.9 L1868.8,239.4 L1869.4,241.8 L1870.0,244.2 L1870.6,246.7 L1871.2,249.1 L1871.8,251.6 L1872.3,254.0 L1872.9,256.4 L1873.5,258.9 L1874.0,261.3 L1874.6,263.7 L1875.1,266.2 L1875.7,268.6 L1876.2,271.1 L1876.8,273.5 L1877.3,276.0 L1877.8,278.4 L1878.4,280.9 L1878.9,283.3 L1879.4,285.7 L1879.9,288.2 L1880.4,290.6 L1880.9,293.1 L1881.4,295.5 L1881.9,298.0 L1882.4,300.4 L1882.9,302.9 L1883.4,305.3 L1883.9,307.8 L1884.3,310.2 L1884.8,312.7 L1885.3,315.1 L1885.7,317.6 L1886.2,320.0 L1886.7,322.5 L1887.1,325.0 L1887.6,327.4 L1888.0,329.9 L1888.5,332.3 L1888.9,334.8 L1889.4,337.2 L1889.8,339.7 L1890.2,342.2 L1890.7,344.6 L1891.1,347.1 L1891.5,349.5 L1892.0,352.0 L1892.4,354.4 L1892.8,356.9 L1893.2,359.4 L1893.7,361.8 L1894.1,364.3 L1894.5,366.8 L1894.9,369.2 L1895.3,371.7 L1895.7,374.1 L1896.1,376.6 L1896.5,379.1 L1896.9,381.5 L1897.3,384.0 L1897.7,386.5 L1898.1,388.9 L1898.5,391.4 L1898.9,393.9 L1899.3,396.3 L1899.7,398.8 L1900.1,401.2 L1900.5,403.7 L1900.9,406.2 L1901.3,408.6 L1901.7,411.1 L1902.1,413.6 L1902.5,416.0 L1902.9,418.5 L1903.3,421.0 L1903.7,423.4 L1904.1,425.9 L1904.4,428.4 L1904.8,430.8 L1905.2,433.3 L1905.6,435.8 L1906.0,438.2 L1906.4,440.7 L1906.8,443.2 L1907.2,445.7 L1907.6,448.1 L1908.0,450.6 L1908.3,453.1 L1908.7,455.5 L1909.1,458.0 L1909.5,460.5 L1909.9,462.9 L1910.3,465.4 L1910.7,467.9 L1911.1,470.3 L1911.5,472.8 L1911.9,475.3 L1912.3,477.7 L1912.7,480.2 L1913.1,482.7 L1913.5,485.1 L1913.9,487.6 L1914.3,490.1 L1914.7,492.6 L1915.1,495.0 L1915.5,497.5 L1915.9,500.0 L1916.3,502.4 L1916.7,504.9 L1917.1,507.4 L1917.6,509.8 L1918.0,512.3 L1918.4,514.8 L1918.8,517.2 L1919.2,519.7 L1919.6,522.2 L1920.0,524.6 L1920.5,527.1 L1920.9,529.6 L1921.3,532.0 L1921.7,534.5 L1922.1,537.0 L1922.6,539.4 L1923.0,541.9 L1923.4,544.4 L1923.8,546.8 L1924.3,549.3 L1924.7,551.7 L1925.1,554.2 L1925.6,556.7 L1926.0,559.1 L1926.4,561.6 L1926.9,564.1 L1927.3,566.5 L1927.8,569.0 L1928.2,571.5 L1928.7,573.9 L1929.1,576.4 L1929.5,578.8 L1930.0,581.3 L1930.4,583.8 L1930.9,586.2 L1931.4,588.7 L1931.8,591.1 L1932.3,593.6 L1932.7,596.1 L1933.2,598.5 L1933.7,601.0 L1934.1,603.4 L1934.6,605.9 L1935.1,608.3 L1935.5,610.8 L1936.0,613.3 L1936.5,615.7 L1937.0,618.2 L1937.4,620.6 L1937.9,623.1 L1938.4,625.5 L1938.9,628.0 L1939.4,630.4 L1939.9,632.9 L1940.4,635.3 L1940.8,637.8 L1941.3,640.2 L1941.8,642.7 L1942.3,645.1 L1942.8,647.6 L1943.4,650.0 L1943.9,652.5 L1944.4,654.9 L1944.9,657.4 L1945.4,659.8 L1945.9,662.3 L1946.4,664.7 L1947.0,667.2 L1947.5,669.6 L1948.1,672.0 L1948.6,674.5 L1949.1,676.9 L1949.7,679.4 L1950.3,681.8 L1950.8,684.2 L1951.4,686.6 L1952.0,689.1 L1952.6,691.5 L1953.2,693.9 L1953.8,696.3 L1954.4,698.8 L1955.1,701.2 L1955.7,703.6 L1956.3,706.0 L1957.0,708.4 L1957.7,710.8 L1958.4,713.2 L1959.0,715.6 L1959.7,718.0 L1960.5,720.3 L1961.2,722.7 L1961.9,725.1 L1962.7,727.5 L1963.5,729.8 L1964.2,732.2 L1965.0,734.6 L1965.9,736.9 L1966.7,739.3 L1967.5,741.6 L1968.4,744.0 L1969.3,746.3 L1970.2,748.6 L1971.1,750.9 L1972.0,753.3 L1972.9,755.6 L1973.9,757.9 L1974.8,760.2 L1975.8,762.5 L1976.8,764.8 L1977.8,767.1 L1978.8,769.4 L1979.8,771.7 L1980.8,774.0 L1981.8,776.3 L1982.8,778.6 L1983.8,780.9 L1984.8,783.2 L1985.8,785.5 L1986.8,787.8 L1987.8,790.1 L1988.7,792.4 L1989.7,794.7 L1990.7,797.1 L1991.7,799.4 L1992.6,801.7 L1993.5,804.0 L1994.5,806.4 L1995.4,808.7 L1996.3,811.1 L1997.2,813.4 L1998.0,815.8 L1998.9,818.2 L1999.7,820.5 L2000.5,822.9 L2001.3,825.3 L2002.1,827.7 L2002.9,830.1 L2003.7,832.5 L2004.5,834.9 L2005.2,837.3 L2006.0,839.7 L2006.7,842.1 L2007.5,844.5 L2008.2,846.9 L2009.0,849.2 L2009.7,851.6 L2010.5,854.0 L2011.2,856.4 L2012.0,858.8 L2012.7,861.2 L2013.5,863.5 L2014.2,865.9 L2015.0,868.3 L2015.8,870.6 L2016.5,873.0 L2017.3,875.4 L2018.1,877.7 L2018.9,880.1 L2019.6,882.4 L2020.4,884.8 L2021.2,887.1 L2022.0,889.5 L2022.8,891.8 L2023.6,894.2 L2024.5,896.5 L2025.3,898.8 L2026.1,901.2 L2027.0,903.5 L2027.8,905.8 L2028.7,908.1 L2029.5,910.4 L2030.4,912.8 L2031.3,915.1 L2032.2,917.4 L2033.1,919.7 L2034.0,922.0 L2034.9,924.3 L2035.9,926.6 L2036.8,928.9 L2037.8,931.2 L2038.8,933.5 L2039.8,935.8 L2040.8,938.1 L2041.8,940.4 L2042.8,942.7 L2043.8,944.9 L2044.9,947.2 L2045.9,949.5 L2047.0,951.8 L2048.1,954.0 L2049.2,956.3 L2050.4,958.6 L2051.5,960.9 L2052.7,963.1 L2053.9,965.4 L2055.1,967.6 L2056.3,969.9 L2057.5,972.1 L2058.8,974.3 L2060.0,976.5 L2061.3,978.7 L2062.6,980.9 L2064.0,983.1 L2065.4,985.2 L2066.7,987.3 L2068.2,989.5 L2069.6,991.5 L2071.1,993.6 L2072.5,995.6 L2074.1,997.6 L2075.6,999.6 L2077.2,1001.5 L2078.8,1003.4 L2080.4,1005.3 L2082.1,1007.2 L2083.8,1009.0 L2085.5,1010.7 L2087.3,1012.5 L2089.0,1014.1 L2090.9,1015.8 L2092.7,1017.4 L2094.6,1018.9 L2096.5,1020.4 L2098.5,1021.9 L2100.5,1023.3 L2102.6,1024.6 L2104.6,1025.9 L2106.8,1027.2 L2108.9,1028.4 L2111.1,1029.5 L2113.3,1030.6 L2115.6,1031.6 L2117.9,1032.5 L2120.3,1033.3 L2122.7,1034.1 L2125.1,1034.7 L2127.5,1035.2 L2129.9,1035.6 L2132.4,1035.9 L2134.9,1036.0 L2137.4,1036.0 L2139.9,1035.8 L2142.4,1035.4 L2144.9,1034.9 L2147.4,1034.2 L2149.9,1033.5 L2152.4,1032.7 L2154.9,1031.8 L2157.3,1031.0 L2159.8,1030.3 L2162.3,1029.7 L2164.7,1029.3 L2167.1,1029.1 L2169.5,1029.1 L2169.7,1029.1" fill="none" stroke="#000" stroke-width="4.9" stroke-linejoin="round" stroke-linecap="butt"/>
<path d="M1324.3,1032.7 L1326.9,1033.0 L1329.4,1033.1 L1331.9,1033.2 L1334.5,1033.2 L1337.0,1033.2 L1339.5,1033.0 L1342.0,1032.8 L1344.5,1032.5 L1347.0,1032.1 L1349.5,1031.6 L1351.9,1031.1 L1354.3,1030.5 L1356.7,1029.8 L1359.1,1029.1 L1361.5,1028.3 L1363.8,1027.4 L1366.1,1026.5 L1368.4,1025.5 L1370.6,1024.4 L1372.8,1023.3 L1375.0,1022.1 L1377.1,1020.9 L1379.3,1019.6 L1381.3,1018.2 L1383.4,1016.8 L1385.3,1015.4 L1387.3,1013.9 L1389.2,1012.3 L1391.2,1010.8 L1393.0,1009.2 L1394.9,1007.5 L1396.7,1005.8 L1398.5,1004.1 L1400.3,1002.4 L1402.1,1000.7 L1403.9,998.9 L1405.7,997.1 L1407.5,995.4 L1409.2,993.6 L1411.0,991.8 L1412.8,990.0 L1414.5,988.2 L1416.3,986.4 L1418.1,984.7 L1419.9,982.9 L1421.7,981.1 L1423.5,979.4 L1425.3,977.6 L1427.1,975.9 L1428.9,974.1 L1430.7,972.4 L1432.5,970.6 L1434.3,968.9 L1436.1,967.2 L1437.9,965.4 L1439.8,963.7 L1441.6,961.9 L1443.4,960.2 L1445.2,958.4 L1447.0,956.7 L1448.8,954.9 L1450.6,953.2 L1452.3,951.4 L1454.1,949.7 L1455.9,947.9 L1457.7,946.1 L1459.4,944.4 L1461.2,942.6 L1462.9,940.8 L1464.7,939.0 L1466.4,937.2 L1468.1,935.4 L1469.8,933.6 L1471.5,931.8 L1473.2,929.9 L1474.9,928.1 L1476.6,926.3 L1478.2,924.4 L1479.9,922.5 L1481.5,920.7 L1483.1,918.8 L1484.7,916.9 L1486.3,915.0 L1487.9,913.0 L1489.4,911.1 L1490.9,909.2 L1492.5,907.2 L1494.0,905.2 L1495.4,903.2 L1496.9,901.2 L1498.4,899.2 L1499.8,897.2 L1501.2,895.1 L1502.6,893.1 L1504.0,891.0 L1505.3,888.9 L1506.7,886.8 L1508.0,884.7 L1509.3,882.6 L1510.6,880.5 L1511.9,878.4 L1513.2,876.2 L1514.4,874.1 L1515.7,871.9 L1516.9,869.7 L1518.1,867.5 L1519.3,865.3 L1520.5,863.1 L1521.7,860.9 L1522.9,858.7 L1524.0,856.5 L1525.2,854.2 L1526.3,852.0 L1527.4,849.7 L1528.5,847.5 L1529.6,845.2 L1530.7,842.9 L1531.8,840.7 L1532.9,838.4 L1533.9,836.1 L1535.0,833.8 L1536.0,831.5 L1537.1,829.2 L1538.1,826.9 L1539.1,824.6 L1540.1,822.3 L1541.1,820.0 L1542.1,817.7 L1543.1,815.4 L1544.1,813.1 L1545.1,810.8 L1546.1,808.4 L1547.0,806.1 L1548.0,803.8 L1549.0,801.5 L1549.9,799.1 L1550.9,796.8 L1551.8,794.5 L1552.8,792.2 L1553.7,789.9 L1554.7,787.5 L1555.6,785.2 L1556.5,782.9 L1557.5,780.6 L1558.4,778.3 L1559.3,776.0 L1560.3,773.7 L1561.2,771.4 L1562.1,769.1 L1563.1,766.8 L1564.0,764.5 L1564.9,762.2 L1565.9,759.9 L1566.9,757.6 L1567.8,755.4 L1568.8,753.1 L1569.8,750.8 L1570.8,748.5 L1571.8,746.3 L1572.8,744.0 L1573.8,741.7 L1574.8,739.5 L1575.9,737.2 L1576.9,735.0 L1578.0,732.7 L1579.1,730.5 L1580.2,728.2 L1581.3,726.0 L1582.5,723.8 L1583.6,721.5 L1584.8,719.3 L1585.9,717.1 L1587.1,714.9 L1588.3,712.6 L1589.5,710.4 L1590.6,708.2 L1591.8,705.9 L1593.0,703.7 L1594.2,701.5 L1595.4,699.3 L1596.5,697.0 L1597.7,694.8 L1598.8,692.5 L1600.0,690.3 L1601.1,688.1 L1602.2,685.8 L1603.3,683.5 L1604.4,681.3 L1605.5,679.0 L1606.5,676.7 L1607.6,674.5 L1608.6,672.2 L1609.6,669.9 L1610.5,667.6 L1611.4,665.3 L1612.4,662.9 L1613.3,660.6 L1614.1,658.3 L1615.0,656.0 L1615.8,653.6 L1616.6,651.3 L1617.4,648.9 L1618.2,646.6 L1619.0,644.2 L1619.7,641.8 L1620.4,639.4 L1621.1,637.1 L1621.8,634.7 L1622.5,632.3 L1623.2,629.9 L1623.8,627.5 L1624.4,625.1 L1625.1,622.7 L1625.7,620.3 L1626.2,617.9 L1626.8,615.4 L1627.4,613.0 L1627.9,610.6 L1628.4,608.2 L1629.0,605.7 L1629.5,603.3 L1630.0,600.8 L1630.5,598.4 L1630.9,595.9 L1631.4,593.5 L1631.9,591.0 L1632.3,588.6 L1632.8,586.1 L1633.2,583.7 L1633.6,581.2 L1634.0,578.7 L1634.4,576.3 L1634.8,573.8 L1635.2,571.3 L1635.6,568.9 L1636.0,566.4 L1636.4,563.9 L1636.7,561.5 L1637.1,559.0 L1637.5,556.5 L1637.8,554.0 L1638.2,551.5 L1638.5,549.1 L1638.9,546.6 L1639.2,544.1 L1639.6,541.6 L1639.9,539.1 L1640.2,536.7 L1640.5,534.2 L1640.9,531.7 L1641.2,529.2 L1641.5,526.7 L1641.8,524.2 L1642.1,521.8 L1642.5,519.3 L1642.8,516.8 L1643.1,514.3 L1643.4,511.8 L1643.7,509.3 L1644.0,506.8 L1644.3,504.3 L1644.6,501.9 L1644.9,499.4 L1645.2,496.9 L1645.5,494.4 L1645.9,491.9 L1646.2,489.4 L1646.5,487.0 L1646.8,484.5 L1647.1,482.0 L1647.4,479.5 L1647.7,477.0 L1648.1,474.5 L1648.4,472.1 L1648.7,469.6 L1649.0,467.1 L1649.3,464.6 L1649.7,462.1 L1650.0,459.7 L1650.3,457.2 L1650.6,454.7 L1651.0,452.2 L1651.3,449.8 L1651.6,447.3 L1651.9,444.8 L1652.3,442.3 L1652.6,439.9 L1652.9,437.4 L1653.2,434.9 L1653.6,432.4 L1653.9,430.0 L1654.2,427.5 L1654.6,425.0 L1654.9,422.5 L1655.2,420.1 L1655.5,417.6 L1655.9,415.1 L1656.2,412.6 L1656.5,410.2 L1656.9,407.7 L1657.2,405.2 L1657.5,402.7 L1657.8,400.3 L1658.2,397.8 L1658.5,395.3 L1658.8,392.8 L1659.2,390.4 L1659.5,387.9 L1659.8,385.4 L1660.1,382.9 L1660.5,380.5 L1660.8,378.0 L1661.1,375.5 L1661.4,373.0 L1661.8,370.6 L1662.1,368.1 L1662.4,365.6 L1662.7,363.1 L1663.0,360.7 L1663.4,358.2 L1663.7,355.7 L1664.0,353.2 L1664.3,350.7 L1664.6,348.3 L1665.0,345.8 L1665.3,343.3 L1665.6,340.8 L1665.9,338.3 L1666.2,335.9 L1666.5,333.4 L1666.8,330.9 L1667.1,328.4 L1667.4,325.9 L1667.7,323.4 L1668.0,321.0 L1668.3,318.5 L1668.6,316.0 L1668.9,313.5 L1669.2,311.0 L1669.5,308.5 L1669.8,306.0 L1670.1,303.6 L1670.4,301.1 L1670.7,298.6 L1671.0,296.1 L1671.3,293.6 L1671.6,291.1 L1671.9,288.6 L1672.3,286.1 L1672.6,283.7 L1672.9,281.2 L1673.2,278.7 L1673.5,276.2 L1673.8,273.7 L1674.1,271.2 L1674.4,268.8 L1674.7,266.3 L1675.1,263.8 L1675.4,261.3 L1675.7,258.8 L1676.0,256.3 L1676.4,253.9 L1676.7,251.4 L1677.0,248.9 L1677.4,246.4 L1677.7,243.9 L1678.1,241.5 L1678.4,239.0 L1678.8,236.5 L1679.1,234.0 L1679.5,231.6 L1679.8,229.1 L1680.2,226.6 L1680.6,224.1 L1681.0,221.7 L1681.3,219.2 L1681.7,216.7 L1682.1,214.3 L1682.5,211.8 L1682.9,209.3 L1683.3,206.9 L1683.7,204.4 L1684.1,202.0 L1684.6,199.5 L1685.0,197.0 L1685.4,194.6 L1685.9,192.1 L1686.3,189.7 L1686.8,187.2 L1687.2,184.8 L1687.7,182.3 L1688.2,179.9 L1688.7,177.5 L1689.1,175.0 L1689.6,172.6 L1690.1,170.1 L1690.6,167.7 L1691.2,165.3 L1691.7,162.8 L1692.2,160.4 L1692.8,158.0 L1693.3,155.6 L1693.9,153.1 L1694.4,150.7 L1695.0,148.3 L1695.6,145.9 L1696.2,143.5 L1696.8,141.1 L1697.4,138.6 L1698.1,136.2 L1698.8,133.8 L1699.6,131.4 L1700.4,129.0 L1701.2,126.7 L1702.1,124.3 L1703.1,121.9 L1704.2,119.5 L1705.3,117.2 L1706.6,114.9 L1708.0,112.8 L1709.6,110.8 L1711.4,109.0 L1713.5,107.5 L1715.7,106.3 L1718.0,105.5 L1720.5,105.1 L1722.9,105.1 L1725.4,105.6 L1727.7,106.4 L1730.0,107.5 L1732.1,108.9 L1734.1,110.5 L1735.9,112.3 L1737.5,114.2 L1739.1,116.3 L1740.5,118.4 L1741.8,120.7 L1743.1,123.0 L1744.3,125.4 L1745.4,127.7 L1746.5,130.1 L1747.5,132.4 L1748.6,134.7 L1749.6,137.0 L1750.6,139.2 L1751.6,141.4 L1752.6,143.5 L1753.5,145.7 L1754.5,147.9 L1755.4,150.1 L1756.3,152.3 L1757.2,154.6 L1758.1,156.9 L1759.0,159.1 L1759.9,161.4 L1760.7,163.8 L1761.6,166.1 L1762.4,168.4 L1763.3,170.8 L1764.1,173.2 L1764.9,175.5 L1765.7,177.9 L1766.5,180.3 L1767.2,182.7 L1768.0,185.1 L1768.7,187.5 L1769.5,190.0 L1770.2,192.4 L1771.0,194.8 L1771.7,197.2 L1772.4,199.6 L1773.1,202.0 L1773.8,204.5 L1774.5,206.9 L1775.2,209.3 L1775.9,211.7 L1776.5,214.1 L1777.2,216.6 L1777.9,219.0 L1778.5,221.4 L1779.2,223.8 L1779.8,226.2 L1780.4,228.7 L1781.1,231.1 L1781.7,233.5 L1782.3,235.9 L1782.9,238.4 L1783.5,240.8 L1784.1,243.2 L1784.8,245.6 L1785.4,248.1 L1785.9,250.5 L1786.5,252.9 L1787.1,255.3 L1787.7,257.8 L1788.3,260.2 L1788.9,262.6 L1789.5,265.0 L1790.1,267.5 L1790.6,269.9 L1791.2,272.3 L1791.8,274.8 L1792.4,277.2 L1792.9,279.6 L1793.5,282.0 L1794.1,284.5 L1794.6,286.9 L1795.2,289.3 L1795.8,291.7 L1796.4,294.2 L1796.9,296.6 L1797.5,299.0 L1798.1,301.5 L1798.6,303.9 L1799.2,306.3 L1799.8,308.7 L1800.4,311.2 L1801.0,313.6 L1801.5,316.0 L1802.1,318.4 L1802.7,320.9 L1803.3,323.3 L1803.9,325.7 L1804.5,328.1 L1805.1,330.6 L1805.7,333.0 L1806.3,335.4 L1806.9,337.8 L1807.6,340.3 L1808.2,342.7 L1808.8,345.1 L1809.4,347.5 L1810.0,349.9 L1810.7,352.4 L1811.3,354.8 L1811.9,357.2 L1812.6,359.6 L1813.2,362.0 L1813.9,364.5 L1814.5,366.9 L1815.1,369.3 L1815.8,371.7 L1816.4,374.1 L1817.1,376.6 L1817.7,379.0 L1818.4,381.4 L1819.0,383.8 L1819.7,386.2 L1820.3,388.7 L1820.9,391.1 L1821.6,393.5 L1822.2,395.9 L1822.9,398.4 L1823.5,400.8 L1824.2,403.2 L1824.8,405.6 L1825.4,408.0 L1826.1,410.5 L1826.7,412.9 L1827.4,415.3 L1828.0,417.7 L1828.6,420.1 L1829.2,422.6 L1829.9,425.0 L1830.5,427.4 L1831.1,429.8 L1831.7,432.3 L1832.3,434.7 L1832.9,437.1 L1833.5,439.5 L1834.2,442.0 L1834.7,444.4 L1835.3,446.8 L1835.9,449.2 L1836.5,451.7 L1837.1,454.1 L1837.7,456.5 L1838.2,459.0 L1838.8,461.4 L1839.4,463.8 L1839.9,466.3 L1840.5,468.7 L1841.0,471.1 L1841.6,473.6 L1842.1,476.0 L1842.7,478.4 L1843.2,480.9 L1843.8,483.3 L1844.3,485.7 L1844.8,488.2 L1845.3,490.6 L1845.9,493.1 L1846.4,495.5 L1846.9,497.9 L1847.4,500.4 L1847.9,502.8 L1848.4,505.3 L1848.9,507.7 L1849.4,510.1 L1849.9,512.6 L1850.4,515.0 L1850.9,517.5 L1851.4,519.9 L1851.9,522.4 L1852.4,524.8 L1852.8,527.3 L1853.3,529.7 L1853.8,532.2 L1854.3,534.6 L1854.7,537.1 L1855.2,539.5 L1855.7,542.0 L1856.2,544.4 L1856.6,546.9 L1857.1,549.4 L1857.6,551.8 L1858.0,554.3 L1858.5,556.7 L1859.0,559.2 L1859.4,561.7 L1859.9,564.1 L1860.4,566.6 L1860.8,569.0 L1861.3,571.5 L1861.8,573.9 L1862.2,576.4 L1862.7,578.9 L1863.1,581.3 L1863.6,583.8 L1864.1,586.2 L1864.5,588.7 L1865.0,591.2 L1865.5,593.6 L1866.0,596.1 L1866.4,598.5 L1866.9,601.0 L1867.4,603.5 L1867.9,605.9 L1868.3,608.4 L1868.8,610.8 L1869.3,613.3 L1869.8,615.8 L1870.3,618.2 L1870.8,620.7 L1871.3,623.1 L1871.8,625.6 L1872.3,628.0 L1872.8,630.5 L1873.3,632.9 L1873.8,635.4 L1874.3,637.8 L1874.8,640.3 L1875.3,642.7 L1875.9,645.2 L1876.4,647.6 L1876.9,650.1 L1877.4,652.5 L1878.0,654.9 L1878.5,657.4 L1879.1,659.8 L1879.6,662.3 L1880.2,664.7 L1880.8,667.1 L1881.3,669.6 L1881.9,672.0 L1882.5,674.4 L1883.1,676.8 L1883.7,679.3 L1884.3,681.7 L1884.9,684.1 L1885.5,686.5 L1886.1,689.0 L1886.7,691.4 L1887.3,693.8 L1888.0,696.2 L1888.6,698.6 L1889.3,701.0 L1889.9,703.4 L1890.6,705.9 L1891.2,708.3 L1891.9,710.7 L1892.6,713.1 L1893.2,715.5 L1893.9,717.9 L1894.6,720.3 L1895.3,722.7 L1896.0,725.1 L1896.7,727.5 L1897.4,729.8 L1898.1,732.2 L1898.8,734.6 L1899.6,737.0 L1900.3,739.4 L1901.0,741.8 L1901.8,744.2 L1902.5,746.6 L1903.2,748.9 L1904.0,751.3 L1904.7,753.7 L1905.5,756.1 L1906.3,758.5 L1907.0,760.8 L1907.8,763.2 L1908.6,765.6 L1909.4,767.9 L1910.1,770.3 L1910.9,772.7 L1911.7,775.1 L1912.5,777.4 L1913.3,779.8 L1914.1,782.2 L1914.9,784.5 L1915.7,786.9 L1916.5,789.2 L1917.4,791.6 L1918.2,794.0 L1919.0,796.3 L1919.8,798.7 L1920.6,801.0 L1921.5,803.4 L1922.3,805.7 L1923.2,808.1 L1924.0,810.5 L1924.8,812.8 L1925.7,815.2 L1926.5,817.5 L1927.4,819.9 L1928.3,822.2 L1929.1,824.6 L1930.0,826.9 L1930.8,829.2 L1931.7,831.6 L1932.6,833.9 L1933.5,836.3 L1934.3,838.6 L1935.2,841.0 L1936.1,843.3 L1937.0,845.7 L1937.9,848.0 L1938.7,850.3 L1939.6,852.7 L1940.5,855.0 L1941.4,857.4 L1942.3,859.7 L1943.2,862.0 L1944.1,864.4 L1945.0,866.7 L1945.9,869.0 L1946.8,871.4 L1947.7,873.7 L1948.6,876.1 L1949.5,878.4 L1950.4,880.7 L1951.3,883.1 L1952.2,885.4 L1953.2,887.7 L1954.1,890.1 L1955.0,892.4 L1955.9,894.7 L1956.8,897.1 L1957.7,899.4 L1958.7,901.7 L1959.6,904.1 L1960.5,906.4 L1961.4,908.7 L1962.3,911.1 L1963.3,913.4 L1964.2,915.7 L1965.1,918.1 L1966.0,920.4 L1967.0,922.7 L1967.9,925.0 L1968.8,927.4 L1969.7,929.7 L1970.7,932.0 L1971.6,934.4 L1972.5,936.7 L1973.4,939.0 L1974.4,941.4 L1975.3,943.7 L1976.2,946.0 L1977.1,948.4 L1978.1,950.7 L1979.0,953.0 L1979.9,955.4 L1980.8,957.7 L1981.8,960.0 L1982.7,962.3 L1983.7,964.6 L1984.7,966.9 L1985.6,969.2 L1986.6,971.5 L1987.6,973.8 L1988.7,976.1 L1989.7,978.3 L1990.8,980.6 L1991.9,982.8 L1993.0,985.0 L1994.2,987.2 L1995.4,989.4 L1996.6,991.5 L1997.9,993.6 L1999.2,995.7 L2000.5,997.8 L2001.9,999.9 L2003.3,1001.9 L2004.8,1003.9 L2006.3,1005.9 L2007.8,1007.8 L2009.4,1009.7 L2011.1,1011.6 L2012.8,1013.5 L2014.5,1015.3 L2016.3,1017.0 L2018.2,1018.7 L2020.1,1020.4 L2022.0,1022.0 L2024.0,1023.5 L2026.0,1025.0 L2028.0,1026.4 L2030.1,1027.7 L2032.2,1029.0 L2034.4,1030.2 L2036.6,1031.3 L2038.9,1032.4 L2041.2,1033.4 L2043.5,1034.3 L2045.8,1035.2 L2048.2,1036.0 L2050.6,1036.7 L2053.0,1037.4 L2055.4,1038.0 L2057.9,1038.6 L2060.3,1039.2 L2062.8,1039.6 L2065.3,1040.1 L2067.8,1040.5 L2070.4,1040.9 L2072.9,1041.2 L2075.4,1041.5 L2077.9,1041.8 L2080.5,1042.0 L2083.0,1042.3 L2085.5,1042.5 L2088.1,1042.6 L2090.6,1042.8 L2093.1,1043.0 L2095.6,1043.1 L2098.1,1043.2 L2100.5,1043.3 L2103.0,1043.5 L2105.4,1043.6 L2107.8,1043.7 L2110.0,1043.8 L2169.7,1043.8 L2169.7,1043.8 L1324.3,1043.8 Z" fill="rgba(0,191,196,0.6)"/>
<path d="M1324.3,1032.7 L1326.9,1033.0 L1329.4,1033.1 L1331.9,1033.2 L1334.5,1033.2 L1337.0,1033.2 L1339.5,1033.0 L1342.0,1032.8 L1344.5,1032.5 L1347.0,1032.1 L1349.5,1031.6 L1351.9,1031.1 L1354.3,1030.5 L1356.7,1029.8 L1359.1,1029.1 L1361.5,1028.3 L1363.8,1027.4 L1366.1,1026.5 L1368.4,1025.5 L1370.6,1024.4 L1372.8,1023.3 L1375.0,1022.1 L1377.1,1020.9 L1379.3,1019.6 L1381.3,1018.2 L1383.4,1016.8 L1385.3,1015.4 L1387.3,1013.9 L1389.2,1012.3 L1391.2,1010.8 L1393.0,1009.2 L1394.9,1007.5 L1396.7,1005.8 L1398.5,1004.1 L1400.3,1002.4 L1402.1,1000.7 L1403.9,998.9 L1405.7,997.1 L1407.5,995.4 L1409.2,993.6 L1411.0,991.8 L1412.8,990.0 L1414.5,988.2 L1416.3,986.4 L1418.1,984.7 L1419.9,982.9 L1421.7,981.1 L1423.5,979.4 L1425.3,977.6 L1427.1,975.9 L1428.9,974.1 L1430.7,972.4 L1432.5,970.6 L1434.3,968.9 L1436.1,967.2 L1437.9,965.4 L1439.8,963.7 L1441.6,961.9 L1443.4,960.2 L1445.2,958.4 L1447.0,956.7 L1448.8,954.9 L1450.6,953.2 L1452.3,951.4 L1454.1,949.7 L1455.9,947.9 L1457.7,946.1 L1459.4,944.4 L1461.2,942.6 L1462.9,940.8 L1464.7,939.0 L1466.4,937.2 L1468.1,935.4 L1469.8,933.6 L1471.5,931.8 L1473.2,929.9 L1474.9,928.1 L1476.6,926.3 L1478.2,924.4 L1479.9,922.5 L1481.5,920.7 L1483.1,918.8 L1484.7,916.9 L1486.3,915.0 L1487.9,913.0 L1489.4,911.1 L1490.9,909.2 L1492.5,907.2 L1494.0,905.2 L1495.4,903.2 L1496.9,901.2 L1498.4,899.2 L1499.8,897.2 L1501.2,895.1 L1502.6,893.1 L1504.0,891.0 L1505.3,888.9 L1506.7,886.8 L1508.0,884.7 L1509.3,882.6 L1510.6,880.5 L1511.9,878.4 L1513.2,876.2 L1514.4,874.1 L1515.7,871.9 L1516.9,869.7 L1518.1,867.5 L1519.3,865.3 L1520.5,863.1 L1521.7,860.9 L1522.9,858.7 L1524.0,856.5 L1525.2,854.2 L1526.3,852.0 L1527.4,849.7 L1528.5,847.5 L1529.6,845.2 L1530.7,842.9 L1531.8,840.7 L1532.9,838.4 L1533.9,836.1 L1535.0,833.8 L1536.0,831.5 L1537.1,829.2 L1538.1,826.9 L1539.1,824.6 L1540.1,822.3 L1541.1,820.0 L1542.1,817.7 L1543.1,815.4 L1544.1,813.1 L1545.1,810.8 L1546.1,808.4 L1547.0,806.1 L1548.0,803.8 L1549.0,801.5 L1549.9,799.1 L1550.9,796.8 L1551.8,794.5 L1552.8,792.2 L1553.7,789.9 L1554.7,787.5 L1555.6,785.2 L1556.5,782.9 L1557.5,780.6 L1558.4,778.3 L1559.3,776.0 L1560.3,773.7 L1561.2,771.4 L1562.1,769.1 L1563.1,766.8 L1564.0,764.5 L1564.9,762.2 L1565.9,759.9 L1566.9,757.6 L1567.8,755.4 L1568.8,753.1 L1569.8,750.8 L1570.8,748.5 L1571.8,746.3 L1572.8,744.0 L1573.8,741.7 L1574.8,739.5 L1575.9,737.2 L1576.9,735.0 L1578.0,732.7 L1579.1,730.5 L1580.2,728.2 L1581.3,726.0 L1582.5,723.8 L1583.6,721.5 L1584.8,719.3 L1585.9,717.1 L1587.1,714.9 L1588.3,712.6 L1589.5,710.4 L1590.6,708.2 L1591.8,705.9 L1593.0,703.7 L1594.2,701.5 L1595.4,699.3 L1596.5,697.0 L1597.7,694.8 L1598.8,692.5 L1600.0,690.3 L1601.1,688.1 L1602.2,685.8 L1603.3,683.5 L1604.4,681.3 L1605.5,679.0 L1606.5,676.7 L1607.6,674.5 L1608.6,672.2 L1609.6,669.9 L1610.5,667.6 L1611.4,665.3 L1612.4,662.9 L1613.3,660.6 L1614.1,658.3 L1615.0,656.0 L1615.8,653.6 L1616.6,651.3 L1617.4,648.9 L1618.2,646.6 L1619.0,644.2 L1619.7,641.8 L1620.4,639.4 L1621.1,637.1 L1621.8,634.7 L1622.5,632.3 L1623.2,629.9 L1623.8,627.5 L1624.4,625.1 L1625.1,622.7 L1625.7,620.3 L1626.2,617.9 L1626.8,615.4 L1627.4,613.0 L1627.9,610.6 L1628.4,608.2 L1629.0,605.7 L1629.5,603.3 L1630.0,600.8 L1630.5,598.4 L1630.9,595.9 L1631.4,593.5 L1631.9,591.0 L1632.3,588.6 L1632.8,586.1 L1633.2,583.7 L1633.6,581.2 L1634.0,578.7 L1634.4,576.3 L1634.8,573.8 L1635.2,571.3 L1635.6,568.9 L1636.0,566.4 L1636.4,563.9 L1636.7,561.5 L1637.1,559.0 L1637.5,556.5 L1637.8,554.0 L1638.2,551.5 L1638.5,549.1 L1638.9,546.6 L1639.2,544.1 L1639.6,541.6 L1639.9,539.1 L1640.2,536.7 L1640.5,534.2 L1640.9,531.7 L1641.2,529.2 L1641.5,526.7 L1641.8,524.2 L1642.1,521.8 L1642.5,519.3 L1642.8,516.8 L1643.1,514.3 L1643.4,511.8 L1643.7,509.3 L1644.0,506.8 L1644.3,504.3 L1644.6,501.9 L1644.9,499.4 L1645.2,496.9 L1645.5,494.4 L1645.9,491.9 L1646.2,489.4 L1646.5,487.0 L1646.8,484.5 L1647.1,482.0 L1647.4,479.5 L1647.7,477.0 L1648.1,474.5 L1648.4,472.1 L1648.7,469.6 L1649.0,467.1 L1649.3,464.6 L1649.7,462.1 L1650.0,459.7 L1650.3,457.2 L1650.6,454.7 L1651.0,452.2 L1651.3,449.8 L1651.6,447.3 L1651.9,444.8 L1652.3,442.3 L1652.6,439.9 L1652.9,437.4 L1653.2,434.9 L1653.6,432.4 L1653.9,430.0 L1654.2,427.5 L1654.6,425.0 L1654.9,422.5 L1655.2,420.1 L1655.5,417.6 L1655.9,415.1 L1656.2,412.6 L1656.5,410.2 L1656.9,407.7 L1657.2,405.2 L1657.5,402.7 L1657.8,400.3 L1658.2,397.8 L1658.5,395.3 L1658.8,392.8 L1659.2,390.4 L1659.5,387.9 L1659.8,385.4 L1660.1,382.9 L1660.5,380.5 L1660.8,378.0 L1661.1,375.5 L1661.4,373.0 L1661.8,370.6 L1662.1,368.1 L1662.4,365.6 L1662.7,363.1 L1663.0,360.7 L1663.4,358.2 L1663.7,355.7 L1664.0,353.2 L1664.3,350.7 L1664.6,348.3 L1665.0,345.8 L1665.3,343.3 L1665.6,340.8 L1665.9,338.3 L1666.2,335.9 L1666.5,333.4 L1666.8,330.9 L1667.1,328.4 L1667.4,325.9 L1667.7,323.4 L1668.0,321.0 L1668.3,318.5 L1668.6,316.0 L1668.9,313.5 L1669.2,311.0 L1669.5,308.5 L1669.8,306.0 L1670.1,303.6 L1670.4,301.1 L1670.7,298.6 L1671.0,296.1 L1671.3,293.6 L1671.6,291.1 L1671.9,288.6 L1672.3,286.1 L1672.6,283.7 L1672.9,281.2 L1673.2,278.7 L1673.5,276.2 L1673.8,273.7 L1674.1,271.2 L1674.4,268.8 L1674.7,266.3 L1675.1,263.8 L1675.4,261.3 L1675.7,258.8 L1676.0,256.3 L1676.4,253.9 L1676.7,251.4 L1677.0,248.9 L1677.4,246.4 L1677.7,243.9 L1678.1,241.5 L1678.4,239.0 L1678.8,236.5 L1679.1,234.0 L1679.5,231.6 L1679.8,229.1 L1680.2,226.6 L1680.6,224.1 L1681.0,221.7 L1681.3,219.2 L1681.7,216.7 L1682.1,214.3 L1682.5,211.8 L1682.9,209.3 L1683.3,206.9 L1683.7,204.4 L1684.1,202.0 L1684.6,199.5 L1685.0,197.0 L1685.4,194.6 L1685.9,192.1 L1686.3,189.7 L1686.8,187.2 L1687.2,184.8 L1687.7,182.3 L1688.2,179.9 L1688.7,177.5 L1689.1,175.0 L1689.6,172.6 L1690.1,170.1 L1690.6,167.7 L1691.2,165.3 L1691.7,162.8 L1692.2,160.4 L1692.8,158.0 L1693.3,155.6 L1693.9,153.1 L1694.4,150.7 L1695.0,148.3 L1695.6,145.9 L1696.2,143.5 L1696.8,141.1 L1697.4,138.6 L1698.1,136.2 L1698.8,133.8 L1699.6,131.4 L1700.4,129.0 L1701.2,126.7 L1702.1,124.3 L1703.1,121.9 L1704.2,119.5 L1705.3,117.2 L1706.6,114.9 L1708.0,112.8 L1709.6,110.8 L1711.4,109.0 L1713.5,107.5 L1715.7,106.3 L1718.0,105.5 L1720.5,105.1 L1722.9,105.1 L1725.4,105.6 L1727.7,106.4 L1730.0,107.5 L1732.1,108.9 L1734.1,110.5 L1735.9,112.3 L1737.5,114.2 L1739.1,116.3 L1740.5,118.4 L1741.8,120.7 L1743.1,123.0 L1744.3,125.4 L1745.4,127.7 L1746.5,130.1 L1747.5,132.4 L1748.6,134.7 L1749.6,137.0 L1750.6,139.2 L1751.6,141.4 L1752.6,143.5 L1753.5,145.7 L1754.5,147.9 L1755.4,150.1 L1756.3,152.3 L1757.2,154.6 L1758.1,156.9 L1759.0,159.1 L1759.9,161.4 L1760.7,163.8 L1761.6,166.1 L1762.4,168.4 L1763.3,170.8 L1764.1,173.2 L1764.9,175.5 L1765.7,177.9 L1766.5,180.3 L1767.2,182.7 L1768.0,185.1 L1768.7,187.5 L1769.5,190.0 L1770.2,192.4 L1771.0,194.8 L1771.7,197.2 L1772.4,199.6 L1773.1,202.0 L1773.8,204.5 L1774.5,206.9 L1775.2,209.3 L1775.9,211.7 L1776.5,214.1 L1777.2,216.6 L1777.9,219.0 L1778.5,221.4 L1779.2,223.8 L1779.8,226.2 L1780.4,228.7 L1781.1,231.1 L1781.7,233.5 L1782.3,235.9 L1782.9,238.4 L1783.5,240.8 L1784.1,243.2 L1784.8,245.6 L1785.4,248.1 L1785.9,250.5 L1786.5,252.9 L1787.1,255.3 L1787.7,257.8 L1788.3,260.2 L1788.9,262.6 L1789.5,265.0 L1790.1,267.5 L1790.6,269.9 L1791.2,272.3 L1791.8,274.8 L1792.4,277.2 L1792.9,279.6 L1793.5,282.0 L1794.1,284.5 L1794.6,286.9 L1795.2,289.3 L1795.8,291.7 L1796.4,294.2 L1796.9,296.6 L1797.5,299.0 L1798.1,301.5 L1798.6,303.9 L1799.2,306.3 L1799.8,308.7 L1800.4,311.2 L1801.0,313.6 L1801.5,316.0 L1802.1,318.4 L1802.7,320.9 L1803.3,323.3 L1803.9,325.7 L1804.5,328.1 L1805.1,330.6 L1805.7,333.0 L1806.3,335.4 L1806.9,337.8 L1807.6,340.3 L1808.2,342.7 L1808.8,345.1 L1809.4,347.5 L1810.0,349.9 L1810.7,352.4 L1811.3,354.8 L1811.9,357.2 L1812.6,359.6 L1813.2,362.0 L1813.9,364.5 L1814.5,366.9 L1815.1,369.3 L1815.8,371.7 L1816.4,374.1 L1817.1,376.6 L1817.7,379.0 L1818.4,381.4 L1819.0,383.8 L1819.7,386.2 L1820.3,388.7 L1820.9,391.1 L1821.6,393.5 L1822.2,395.9 L1822.9,398.4 L1823.5,400.8 L1824.2,403.2 L1824.8,405.6 L1825.4,408.0 L1826.1,410.5 L1826.7,412.9 L1827.4,415.3 L1828.0,417.7 L1828.6,420.1 L1829.2,422.6 L1829.9,425.0 L1830.5,427.4 L1831.1,429.8 L1831.7,432.3 L1832.3,434.7 L1832.9,437.1 L1833.5,439.5 L1834.2,442.0 L1834.7,444.4 L1835.3,446.8 L1835.9,449.2 L1836.5,451.7 L1837.1,454.1 L1837.7,456.5 L1838.2,459.0 L1838.8,461.4 L1839.4,463.8 L1839.9,466.3 L1840.5,468.7 L1841.0,471.1 L1841.6,473.6 L1842.1,476.0 L1842.7,478.4 L1843.2,480.9 L1843.8,483.3 L1844.3,485.7 L1844.8,488.2 L1845.3,490.6 L1845.9,493.1 L1846.4,495.5 L1846.9,497.9 L1847.4,500.4 L1847.9,502.8 L1848.4,505.3 L1848.9,507.7 L1849.4,510.1 L1849.9,512.6 L1850.4,515.0 L1850.9,517.5 L1851.4,519.9 L1851.9,522.4 L1852.4,524.8 L1852.8,527.3 L1853.3,529.7 L1853.8,532.2 L1854.3,534.6 L1854.7,537.1 L1855.2,539.5 L1855.7,542.0 L1856.2,544.4 L1856.6,546.9 L1857.1,549.4 L1857.6,551.8 L1858.0,554.3 L1858.5,556.7 L1859.0,559.2 L1859.4,561.7 L1859.9,564.1 L1860.4,566.6 L1860.8,569.0 L1861.3,571.5 L1861.8,573.9 L1862.2,576.4 L1862.7,578.9 L1863.1,581.3 L1863.6,583.8 L1864.1,586.2 L1864.5,588.7 L1865.0,591.2 L1865.5,593.6 L1866.0,596.1 L1866.4,598.5 L1866.9,601.0 L1867.4,603.5 L1867.9,605.9 L1868.3,608.4 L1868.8,610.8 L1869.3,613.3 L1869.8,615.8 L1870.3,618.2 L1870.8,620.7 L1871.3,623.1 L1871.8,625.6 L1872.3,628.0 L1872.8,630.5 L1873.3,632.9 L1873.8,635.4 L1874.3,637.8 L1874.8,640.3 L1875.3,642.7 L1875.9,645.2 L1876.4,647.6 L1876.9,650.1 L1877.4,652.5 L1878.0,654.9 L1878.5,657.4 L1879.1,659.8 L1879.6,662.3 L1880.2,664.7 L1880.8,667.1 L1881.3,669.6 L1881.9,672.0 L1882.5,674.4 L1883.1,676.8 L1883.7,679.3 L1884.3,681.7 L1884.9,684.1 L1885.5,686.5 L1886.1,689.0 L1886.7,691.4 L1887.3,693.8 L1888.0,696.2 L1888.6,698.6 L1889.3,701.0 L1889.9,703.4 L1890.6,705.9 L1891.2,708.3 L1891.9,710.7 L1892.6,713.1 L1893.2,715.5 L1893.9,717.9 L1894.6,720.3 L1895.3,722.7 L1896.0,725.1 L1896.7,727.5 L1897.4,729.8 L1898.1,732.2 L1898.8,734.6 L1899.6,737.0 L1900.3,739.4 L1901.0,741.8 L1901.8,744.2 L1902.5,746.6 L1903.2,748.9 L1904.0,751.3 L1904.7,753.7 L1905.5,756.1 L1906.3,758.5 L1907.0,760.8 L1907.8,763.2 L1908.6,765.6 L1909.4,767.9 L1910.1,770.3 L1910.9,772.7 L1911.7,775.1 L1912.5,777.4 L1913.3,779.8 L1914.1,782.2 L1914.9,784.5 L1915.7,786.9 L1916.5,789.2 L1917.4,791.6 L1918.2,794.0 L1919.0,796.3 L1919.8,798.7 L1920.6,801.0 L1921.5,803.4 L1922.3,805.7 L1923.2,808.1 L1924.0,810.5 L1924.8,812.8 L1925.7,815.2 L1926.5,817.5 L1927.4,819.9 L1928.3,822.2 L1929.1,824.6 L1930.0,826.9 L1930.8,829.2 L1931.7,831.6 L1932.6,833.9 L1933.5,836.3 L1934.3,838.6 L1935.2,841.0 L1936.1,843.3 L1937.0,845.7 L1937.9,848.0 L1938.7,850.3 L1939.6,852.7 L1940.5,855.0 L1941.4,857.4 L1942.3,859.7 L1943.2,862.0 L1944.1,864.4 L1945.0,866.7 L1945.9,869.0 L1946.8,871.4 L1947.7,873.7 L1948.6,876.1 L1949.5,878.4 L1950.4,880.7 L1951.3,883.1 L1952.2,885.4 L1953.2,887.7 L1954.1,890.1 L1955.0,892.4 L1955.9,894.7 L1956.8,897.1 L1957.7,899.4 L1958.7,901.7 L1959.6,904.1 L1960.5,906.4 L1961.4,908.7 L1962.3,911.1 L1963.3,913.4 L1964.2,915.7 L1965.1,918.1 L1966.0,920.4 L1967.0,922.7 L1967.9,925.0 L1968.8,927.4 L1969.7,929.7 L1970.7,932.0 L1971.6,934.4 L1972.5,936.7 L1973.4,939.0 L1974.4,941.4 L1975.3,943.7 L1976.2,946.0 L1977.1,948.4 L1978.1,950.7 L1979.0,953.0 L1979.9,955.4 L1980.8,957.7 L1981.8,960.0 L1982.7,962.3 L1983.7,964.6 L1984.7,966.9 L1985.6,969.2 L1986.6,971.5 L1987.6,973.8 L1988.7,976.1 L1989.7,978.3 L1990.8,980.6 L1991.9,982.8 L1993.0,985.0 L1994.2,987.2 L1995.4,989.4 L1996.6,991.5 L1997.9,993.6 L1999.2,995.7 L2000.5,997.8 L2001.9,999.9 L2003.3,1001.9 L2004.8,1003.9 L2006.3,1005.9 L2007.8,1007.8 L2009.4,1009.7 L2011.1,1011.6 L2012.8,1013.5 L2014.5,1015.3 L2016.3,1017.0 L2018.2,1018.7 L2020.1,1020.4 L2022.0,1022.0 L2024.0,1023.5 L2026.0,1025.0 L2028.0,1026.4 L2030.1,1027.7 L2032.2,1029.0 L2034.4,1030.2 L2036.6,1031.3 L2038.9,1032.4 L2041.2,1033.4 L2043.5,1034.3 L2045.8,1035.2 L2048.2,1036.0 L2050.6,1036.7 L2053.0,1037.4 L2055.4,1038.0 L2057.9,1038.6 L2060.3,1039.2 L2062.8,1039.6 L2065.3,1040.1 L2067.8,1040.5 L2070.4,1040.9 L2072.9,1041.2 L2075.4,1041.5 L2077.9,1041.8 L2080.5,1042.0 L2083.0,1042.3 L2085.5,1042.5 L2088.1,1042.6 L2090.6,1042.8 L2093.1,1043.0 L2095.6,1043.1 L2098.1,1043.2 L2100.5,1043.3 L2103.0,1043.5 L2105.4,1043.6 L2107.8,1043.7 L2110.0,1043.8 L2169.7,1043.8 L2169.7,1043.8 L1324.3,1043.8 Z" fill="#00ffff" style="mix-blend-mode:multiply"/>
<clipPath id="clip1324"><path d="M1324.3,1032.7 L1326.9,1033.0 L1329.4,1033.1 L1331.9,1033.2 L1334.5,1033.2 L1337.0,1033.2 L1339.5,1033.0 L1342.0,1032.8 L1344.5,1032.5 L1347.0,1032.1 L1349.5,1031.6 L1351.9,1031.1 L1354.3,1030.5 L1356.7,1029.8 L1359.1,1029.1 L1361.5,1028.3 L1363.8,1027.4 L1366.1,1026.5 L1368.4,1025.5 L1370.6,1024.4 L1372.8,1023.3 L1375.0,1022.1 L1377.1,1020.9 L1379.3,1019.6 L1381.3,1018.2 L1383.4,1016.8 L1385.3,1015.4 L1387.3,1013.9 L1389.2,1012.3 L1391.2,1010.8 L1393.0,1009.2 L1394.9,1007.5 L1396.7,1005.8 L1398.5,1004.1 L1400.3,1002.4 L1402.1,1000.7 L1403.9,998.9 L1405.7,997.1 L1407.5,995.4 L1409.2,993.6 L1411.0,991.8 L1412.8,990.0 L1414.5,988.2 L1416.3,986.4 L1418.1,984.7 L1419.9,982.9 L1421.7,981.1 L1423.5,979.4 L1425.3,977.6 L1427.1,975.9 L1428.9,974.1 L1430.7,972.4 L1432.5,970.6 L1434.3,968.9 L1436.1,967.2 L1437.9,965.4 L1439.8,963.7 L1441.6,961.9 L1443.4,960.2 L1445.2,958.4 L1447.0,956.7 L1448.8,954.9 L1450.6,953.2 L1452.3,951.4 L1454.1,949.7 L1455.9,947.9 L1457.7,946.1 L1459.4,944.4 L1461.2,942.6 L1462.9,940.8 L1464.7,939.0 L1466.4,937.2 L1468.1,935.4 L1469.8,933.6 L1471.5,931.8 L1473.2,929.9 L1474.9,928.1 L1476.6,926.3 L1478.2,924.4 L1479.9,922.5 L1481.5,920.7 L1483.1,918.8 L1484.7,916.9 L1486.3,915.0 L1487.9,913.0 L1489.4,911.1 L1490.9,909.2 L1492.5,907.2 L1494.0,905.2 L1495.4,903.2 L1496.9,901.2 L1498.4,899.2 L1499.8,897.2 L1501.2,895.1 L1502.6,893.1 L1504.0,891.0 L1505.3,888.9 L1506.7,886.8 L1508.0,884.7 L1509.3,882.6 L1510.6,880.5 L1511.9,878.4 L1513.2,876.2 L1514.4,874.1 L1515.7,871.9 L1516.9,869.7 L1518.1,867.5 L1519.3,865.3 L1520.5,863.1 L1521.7,860.9 L1522.9,858.7 L1524.0,856.5 L1525.2,854.2 L1526.3,852.0 L1527.4,849.7 L1528.5,847.5 L1529.6,845.2 L1530.7,842.9 L1531.8,840.7 L1532.9,838.4 L1533.9,836.1 L1535.0,833.8 L1536.0,831.5 L1537.1,829.2 L1538.1,826.9 L1539.1,824.6 L1540.1,822.3 L1541.1,820.0 L1542.1,817.7 L1543.1,815.4 L1544.1,813.1 L1545.1,810.8 L1546.1,808.4 L1547.0,806.1 L1548.0,803.8 L1549.0,801.5 L1549.9,799.1 L1550.9,796.8 L1551.8,794.5 L1552.8,792.2 L1553.7,789.9 L1554.7,787.5 L1555.6,785.2 L1556.5,782.9 L1557.5,780.6 L1558.4,778.3 L1559.3,776.0 L1560.3,773.7 L1561.2,771.4 L1562.1,769.1 L1563.1,766.8 L1564.0,764.5 L1564.9,762.2 L1565.9,759.9 L1566.9,757.6 L1567.8,755.4 L1568.8,753.1 L1569.8,750.8 L1570.8,748.5 L1571.8,746.3 L1572.8,744.0 L1573.8,741.7 L1574.8,739.5 L1575.9,737.2 L1576.9,735.0 L1578.0,732.7 L1579.1,730.5 L1580.2,728.2 L1581.3,726.0 L1582.5,723.8 L1583.6,721.5 L1584.8,719.3 L1585.9,717.1 L1587.1,714.9 L1588.3,712.6 L1589.5,710.4 L1590.6,708.2 L1591.8,705.9 L1593.0,703.7 L1594.2,701.5 L1595.4,699.3 L1596.5,697.0 L1597.7,694.8 L1598.8,692.5 L1600.0,690.3 L1601.1,688.1 L1602.2,685.8 L1603.3,683.5 L1604.4,681.3 L1605.5,679.0 L1606.5,676.7 L1607.6,674.5 L1608.6,672.2 L1609.6,669.9 L1610.5,667.6 L1611.4,665.3 L1612.4,662.9 L1613.3,660.6 L1614.1,658.3 L1615.0,656.0 L1615.8,653.6 L1616.6,651.3 L1617.4,648.9 L1618.2,646.6 L1619.0,644.2 L1619.7,641.8 L1620.4,639.4 L1621.1,637.1 L1621.8,634.7 L1622.5,632.3 L1623.2,629.9 L1623.8,627.5 L1624.4,625.1 L1625.1,622.7 L1625.7,620.3 L1626.2,617.9 L1626.8,615.4 L1627.4,613.0 L1627.9,610.6 L1628.4,608.2 L1629.0,605.7 L1629.5,603.3 L1630.0,600.8 L1630.5,598.4 L1630.9,595.9 L1631.4,593.5 L1631.9,591.0 L1632.3,588.6 L1632.8,586.1 L1633.2,583.7 L1633.6,581.2 L1634.0,578.7 L1634.4,576.3 L1634.8,573.8 L1635.2,571.3 L1635.6,568.9 L1636.0,566.4 L1636.4,563.9 L1636.7,561.5 L1637.1,559.0 L1637.5,556.5 L1637.8,554.0 L1638.2,551.5 L1638.5,549.1 L1638.9,546.6 L1639.2,544.1 L1639.6,541.6 L1639.9,539.1 L1640.2,536.7 L1640.5,534.2 L1640.9,531.7 L1641.2,529.2 L1641.5,526.7 L1641.8,524.2 L1642.1,521.8 L1642.5,519.3 L1642.8,516.8 L1643.1,514.3 L1643.4,511.8 L1643.7,509.3 L1644.0,506.8 L1644.3,504.3 L1644.6,501.9 L1644.9,499.4 L1645.2,496.9 L1645.5,494.4 L1645.9,491.9 L1646.2,489.4 L1646.5,487.0 L1646.8,484.5 L1647.1,482.0 L1647.4,479.5 L1647.7,477.0 L1648.1,474.5 L1648.4,472.1 L1648.7,469.6 L1649.0,467.1 L1649.3,464.6 L1649.7,462.1 L1650.0,459.7 L1650.3,457.2 L1650.6,454.7 L1651.0,452.2 L1651.3,449.8 L1651.6,447.3 L1651.9,444.8 L1652.3,442.3 L1652.6,439.9 L1652.9,437.4 L1653.2,434.9 L1653.6,432.4 L1653.9,430.0 L1654.2,427.5 L1654.6,425.0 L1654.9,422.5 L1655.2,420.1 L1655.5,417.6 L1655.9,415.1 L1656.2,412.6 L1656.5,410.2 L1656.9,407.7 L1657.2,405.2 L1657.5,402.7 L1657.8,400.3 L1658.2,397.8 L1658.5,395.3 L1658.8,392.8 L1659.2,390.4 L1659.5,387.9 L1659.8,385.4 L1660.1,382.9 L1660.5,380.5 L1660.8,378.0 L1661.1,375.5 L1661.4,373.0 L1661.8,370.6 L1662.1,368.1 L1662.4,365.6 L1662.7,363.1 L1663.0,360.7 L1663.4,358.2 L1663.7,355.7 L1664.0,353.2 L1664.3,350.7 L1664.6,348.3 L1665.0,345.8 L1665.3,343.3 L1665.6,340.8 L1665.9,338.3 L1666.2,335.9 L1666.5,333.4 L1666.8,330.9 L1667.1,328.4 L1667.4,325.9 L1667.7,323.4 L1668.0,321.0 L1668.3,318.5 L1668.6,316.0 L1668.9,313.5 L1669.2,311.0 L1669.5,308.5 L1669.8,306.0 L1670.1,303.6 L1670.4,301.1 L1670.7,298.6 L1671.0,296.1 L1671.3,293.6 L1671.6,291.1 L1671.9,288.6 L1672.3,286.1 L1672.6,283.7 L1672.9,281.2 L1673.2,278.7 L1673.5,276.2 L1673.8,273.7 L1674.1,271.2 L1674.4,268.8 L1674.7,266.3 L1675.1,263.8 L1675.4,261.3 L1675.7,258.8 L1676.0,256.3 L1676.4,253.9 L1676.7,251.4 L1677.0,248.9 L1677.4,246.4 L1677.7,243.9 L1678.1,241.5 L1678.4,239.0 L1678.8,236.5 L1679.1,234.0 L1679.5,231.6 L1679.8,229.1 L1680.2,226.6 L1680.6,224.1 L1681.0,221.7 L1681.3,219.2 L1681.7,216.7 L1682.1,214.3 L1682.5,211.8 L1682.9,209.3 L1683.3,206.9 L1683.7,204.4 L1684.1,202.0 L1684.6,199.5 L1685.0,197.0 L1685.4,194.6 L1685.9,192.1 L1686.3,189.7 L1686.8,187.2 L1687.2,184.8 L1687.7,182.3 L1688.2,179.9 L1688.7,177.5 L1689.1,175.0 L1689.6,172.6 L1690.1,170.1 L1690.6,167.7 L1691.2,165.3 L1691.7,162.8 L1692.2,160.4 L1692.8,158.0 L1693.3,155.6 L1693.9,153.1 L1694.4,150.7 L1695.0,148.3 L1695.6,145.9 L1696.2,143.5 L1696.8,141.1 L1697.4,138.6 L1698.1,136.2 L1698.8,133.8 L1699.6,131.4 L1700.4,129.0 L1701.2,126.7 L1702.1,124.3 L1703.1,121.9 L1704.2,119.5 L1705.3,117.2 L1706.6,114.9 L1708.0,112.8 L1709.6,110.8 L1711.4,109.0 L1713.5,107.5 L1715.7,106.3 L1718.0,105.5 L1720.5,105.1 L1722.9,105.1 L1725.4,105.6 L1727.7,106.4 L1730.0,107.5 L1732.1,108.9 L1734.1,110.5 L1735.9,112.3 L1737.5,114.2 L1739.1,116.3 L1740.5,118.4 L1741.8,120.7 L1743.1,123.0 L1744.3,125.4 L1745.4,127.7 L1746.5,130.1 L1747.5,132.4 L1748.6,134.7 L1749.6,137.0 L1750.6,139.2 L1751.6,141.4 L1752.6,143.5 L1753.5,145.7 L1754.5,147.9 L1755.4,150.1 L1756.3,152.3 L1757.2,154.6 L1758.1,156.9 L1759.0,159.1 L1759.9,161.4 L1760.7,163.8 L1761.6,166.1 L1762.4,168.4 L1763.3,170.8 L1764.1,173.2 L1764.9,175.5 L1765.7,177.9 L1766.5,180.3 L1767.2,182.7 L1768.0,185.1 L1768.7,187.5 L1769.5,190.0 L1770.2,192.4 L1771.0,194.8 L1771.7,197.2 L1772.4,199.6 L1773.1,202.0 L1773.8,204.5 L1774.5,206.9 L1775.2,209.3 L1775.9,211.7 L1776.5,214.1 L1777.2,216.6 L1777.9,219.0 L1778.5,221.4 L1779.2,223.8 L1779.8,226.2 L1780.4,228.7 L1781.1,231.1 L1781.7,233.5 L1782.3,235.9 L1782.9,238.4 L1783.5,240.8 L1784.1,243.2 L1784.8,245.6 L1785.4,248.1 L1785.9,250.5 L1786.5,252.9 L1787.1,255.3 L1787.7,257.8 L1788.3,260.2 L1788.9,262.6 L1789.5,265.0 L1790.1,267.5 L1790.6,269.9 L1791.2,272.3 L1791.8,274.8 L1792.4,277.2 L1792.9,279.6 L1793.5,282.0 L1794.1,284.5 L1794.6,286.9 L1795.2,289.3 L1795.8,291.7 L1796.4,294.2 L1796.9,296.6 L1797.5,299.0 L1798.1,301.5 L1798.6,303.9 L1799.2,306.3 L1799.8,308.7 L1800.4,311.2 L1801.0,313.6 L1801.5,316.0 L1802.1,318.4 L1802.7,320.9 L1803.3,323.3 L1803.9,325.7 L1804.5,328.1 L1805.1,330.6 L1805.7,333.0 L1806.3,335.4 L1806.9,337.8 L1807.6,340.3 L1808.2,342.7 L1808.8,345.1 L1809.4,347.5 L1810.0,349.9 L1810.7,352.4 L1811.3,354.8 L1811.9,357.2 L1812.6,359.6 L1813.2,362.0 L1813.9,364.5 L1814.5,366.9 L1815.1,369.3 L1815.8,371.7 L1816.4,374.1 L1817.1,376.6 L1817.7,379.0 L1818.4,381.4 L1819.0,383.8 L1819.7,386.2 L1820.3,388.7 L1820.9,391.1 L1821.6,393.5 L1822.2,395.9 L1822.9,398.4 L1823.5,400.8 L1824.2,403.2 L1824.8,405.6 L1825.4,408.0 L1826.1,410.5 L1826.7,412.9 L1827.4,415.3 L1828.0,417.7 L1828.6,420.1 L1829.2,422.6 L1829.9,425.0 L1830.5,427.4 L1831.1,429.8 L1831.7,432.3 L1832.3,434.7 L1832.9,437.1 L1833.5,439.5 L1834.2,442.0 L1834.7,444.4 L1835.3,446.8 L1835.9,449.2 L1836.5,451.7 L1837.1,454.1 L1837.7,456.5 L1838.2,459.0 L1838.8,461.4 L1839.4,463.8 L1839.9,466.3 L1840.5,468.7 L1841.0,471.1 L1841.6,473.6 L1842.1,476.0 L1842.7,478.4 L1843.2,480.9 L1843.8,483.3 L1844.3,485.7 L1844.8,488.2 L1845.3,490.6 L1845.9,493.1 L1846.4,495.5 L1846.9,497.9 L1847.4,500.4 L1847.9,502.8 L1848.4,505.3 L1848.9,507.7 L1849.4,510.1 L1849.9,512.6 L1850.4,515.0 L1850.9,517.5 L1851.4,519.9 L1851.9,522.4 L1852.4,524.8 L1852.8,527.3 L1853.3,529.7 L1853.8,532.2 L1854.3,534.6 L1854.7,537.1 L1855.2,539.5 L1855.7,542.0 L1856.2,544.4 L1856.6,546.9 L1857.1,549.4 L1857.6,551.8 L1858.0,554.3 L1858.5,556.7 L1859.0,559.2 L1859.4,561.7 L1859.9,564.1 L1860.4,566.6 L1860.8,569.0 L1861.3,571.5 L1861.8,573.9 L1862.2,576.4 L1862.7,578.9 L1863.1,581.3 L1863.6,583.8 L1864.1,586.2 L1864.5,588.7 L1865.0,591.2 L1865.5,593.6 L1866.0,596.1 L1866.4,598.5 L1866.9,601.0 L1867.4,603.5 L1867.9,605.9 L1868.3,608.4 L1868.8,610.8 L1869.3,613.3 L1869.8,615.8 L1870.3,618.2 L1870.8,620.7 L1871.3,623.1 L1871.8,625.6 L1872.3,628.0 L1872.8,630.5 L1873.3,632.9 L1873.8,635.4 L1874.3,637.8 L1874.8,640.3 L1875.3,642.7 L1875.9,645.2 L1876.4,647.6 L1876.9,650.1 L1877.4,652.5 L1878.0,654.9 L1878.5,657.4 L1879.1,659.8 L1879.6,662.3 L1880.2,664.7 L1880.8,667.1 L1881.3,669.6 L1881.9,672.0 L1882.5,674.4 L1883.1,676.8 L1883.7,679.3 L1884.3,681.7 L1884.9,684.1 L1885.5,686.5 L1886.1,689.0 L1886.7,691.4 L1887.3,693.8 L1888.0,696.2 L1888.6,698.6 L1889.3,701.0 L1889.9,703.4 L1890.6,705.9 L1891.2,708.3 L1891.9,710.7 L1892.6,713.1 L1893.2,715.5 L1893.9,717.9 L1894.6,720.3 L1895.3,722.7 L1896.0,725.1 L1896.7,727.5 L1897.4,729.8 L1898.1,732.2 L1898.8,734.6 L1899.6,737.0 L1900.3,739.4 L1901.0,741.8 L1901.8,744.2 L1902.5,746.6 L1903.2,748.9 L1904.0,751.3 L1904.7,753.7 L1905.5,756.1 L1906.3,758.5 L1907.0,760.8 L1907.8,763.2 L1908.6,765.6 L1909.4,767.9 L1910.1,770.3 L1910.9,772.7 L1911.7,775.1 L1912.5,777.4 L1913.3,779.8 L1914.1,782.2 L1914.9,784.5 L1915.7,786.9 L1916.5,789.2 L1917.4,791.6 L1918.2,794.0 L1919.0,796.3 L1919.8,798.7 L1920.6,801.0 L1921.5,803.4 L1922.3,805.7 L1923.2,808.1 L1924.0,810.5 L1924.8,812.8 L1925.7,815.2 L1926.5,817.5 L1927.4,819.9 L1928.3,822.2 L1929.1,824.6 L1930.0,826.9 L1930.8,829.2 L1931.7,831.6 L1932.6,833.9 L1933.5,836.3 L1934.3,838.6 L1935.2,841.0 L1936.1,843.3 L1937.0,845.7 L1937.9,848.0 L1938.7,850.3 L1939.6,852.7 L1940.5,855.0 L1941.4,857.4 L1942.3,859.7 L1943.2,862.0 L1944.1,864.4 L1945.0,866.7 L1945.9,869.0 L1946.8,871.4 L1947.7,873.7 L1948.6,876.1 L1949.5,878.4 L1950.4,880.7 L1951.3,883.1 L1952.2,885.4 L1953.2,887.7 L1954.1,890.1 L1955.0,892.4 L1955.9,894.7 L1956.8,897.1 L1957.7,899.4 L1958.7,901.7 L1959.6,904.1 L1960.5,906.4 L1961.4,908.7 L1962.3,911.1 L1963.3,913.4 L1964.2,915.7 L1965.1,918.1 L1966.0,920.4 L1967.0,922.7 L1967.9,925.0 L1968.8,927.4 L1969.7,929.7 L1970.7,932.0 L1971.6,934.4 L1972.5,936.7 L1973.4,939.0 L1974.4,941.4 L1975.3,943.7 L1976.2,946.0 L1977.1,948.4 L1978.1,950.7 L1979.0,953.0 L1979.9,955.4 L1980.8,957.7 L1981.8,960.0 L1982.7,962.3 L1983.7,964.6 L1984.7,966.9 L1985.6,969.2 L1986.6,971.5 L1987.6,973.8 L1988.7,976.1 L1989.7,978.3 L1990.8,980.6 L1991.9,982.8 L1993.0,985.0 L1994.2,987.2 L1995.4,989.4 L1996.6,991.5 L1997.9,993.6 L1999.2,995.7 L2000.5,997.8 L2001.9,999.9 L2003.3,1001.9 L2004.8,1003.9 L2006.3,1005.9 L2007.8,1007.8 L2009.4,1009.7 L2011.1,1011.6 L2012.8,1013.5 L2014.5,1015.3 L2016.3,1017.0 L2018.2,1018.7 L2020.1,1020.4 L2022.0,1022.0 L2024.0,1023.5 L2026.0,1025.0 L2028.0,1026.4 L2030.1,1027.7 L2032.2,1029.0 L2034.4,1030.2 L2036.6,1031.3 L2038.9,1032.4 L2041.2,1033.4 L2043.5,1034.3 L2045.8,1035.2 L2048.2,1036.0 L2050.6,1036.7 L2053.0,1037.4 L2055.4,1038.0 L2057.9,1038.6 L2060.3,1039.2 L2062.8,1039.6 L2065.3,1040.1 L2067.8,1040.5 L2070.4,1040.9 L2072.9,1041.2 L2075.4,1041.5 L2077.9,1041.8 L2080.5,1042.0 L2083.0,1042.3 L2085.5,1042.5 L2088.1,1042.6 L2090.6,1042.8 L2093.1,1043.0 L2095.6,1043.1 L2098.1,1043.2 L2100.5,1043.3 L2103.0,1043.5 L2105.4,1043.6 L2107.8,1043.7 L2110.0,1043.8 L2169.7,1043.8 L2169.7,1043.8 L1324.3,1043.8 Z"/></clipPath>
<g clip-path="url(#clip1324)"><path d="M1324.3,1042.8 L1326.8,1042.8 L1329.3,1042.8 L1331.8,1042.6 L1334.3,1042.4 L1336.8,1042.1 L1339.2,1041.7 L1341.7,1041.2 L1344.2,1040.7 L1346.6,1040.1 L1349.0,1039.5 L1351.5,1038.9 L1353.9,1038.2 L1356.3,1037.5 L1358.8,1036.8 L1361.2,1036.1 L1363.6,1035.4 L1366.0,1034.7 L1368.4,1034.1 L1370.9,1033.4 L1373.3,1032.8 L1375.7,1032.3 L1378.1,1031.7 L1380.5,1031.3 L1382.9,1030.9 L1385.4,1030.5 L1387.8,1030.3 L1390.2,1030.1 L1392.6,1030.1 L1395.1,1030.1 L1397.5,1030.2 L1400.0,1030.5 L1402.4,1030.8 L1404.8,1031.2 L1407.3,1031.6 L1409.8,1032.2 L1412.2,1032.7 L1414.7,1033.4 L1417.1,1034.0 L1419.6,1034.7 L1422.1,1035.4 L1424.5,1036.2 L1427.0,1036.9 L1429.5,1037.6 L1431.9,1038.4 L1434.4,1039.1 L1436.9,1039.8 L1439.3,1040.4 L1441.8,1041.0 L1444.3,1041.6 L1446.7,1042.1 L1449.2,1042.6 L1451.7,1042.9 L1454.1,1043.2 L1456.6,1043.4 L1459.1,1043.6 L1461.5,1043.6 L1464.0,1043.5 L1466.4,1043.3 L1468.8,1043.0 L1471.3,1042.6 L1473.7,1042.1 L1476.1,1041.4 L1478.5,1040.7 L1480.8,1039.9 L1483.1,1039.0 L1485.4,1038.1 L1487.7,1037.0 L1489.9,1035.8 L1492.1,1034.6 L1494.2,1033.3 L1496.3,1031.9 L1498.4,1030.4 L1500.4,1028.9 L1502.3,1027.3 L1504.2,1025.6 L1506.0,1023.8 L1507.8,1022.0 L1509.5,1020.2 L1511.1,1018.2 L1512.6,1016.3 L1514.1,1014.2 L1515.5,1012.2 L1516.9,1010.0 L1518.3,1007.9 L1519.5,1005.7 L1520.8,1003.5 L1522.1,1001.3 L1523.3,999.1 L1524.5,996.9 L1525.7,994.7 L1526.9,992.4 L1528.1,990.2 L1529.3,988.0 L1530.6,985.9 L1531.9,983.7 L1533.2,981.6 L1534.6,979.5 L1536.0,977.5 L1537.4,975.5 L1539.0,973.6 L1540.6,971.7 L1542.2,969.9 L1544.0,968.2 L1545.8,966.6 L1547.7,965.0 L1549.7,963.4 L1551.7,961.9 L1553.7,960.4 L1555.8,959.0 L1557.9,957.6 L1560.1,956.2 L1562.2,954.8 L1564.4,953.4 L1566.5,952.1 L1568.6,950.7 L1570.7,949.3 L1572.8,947.8 L1574.9,946.4 L1576.9,944.9 L1578.8,943.3 L1580.7,941.8 L1582.5,940.1 L1584.2,938.4 L1585.9,936.6 L1587.4,934.8 L1588.9,932.8 L1590.2,930.8 L1591.5,928.7 L1592.7,926.5 L1593.8,924.3 L1594.8,922.0 L1595.8,919.7 L1596.7,917.3 L1597.6,914.9 L1598.4,912.5 L1599.2,910.0 L1600.0,907.6 L1600.8,905.1 L1601.5,902.6 L1602.3,900.2 L1603.0,897.7 L1603.8,895.3 L1604.5,892.9 L1605.3,890.5 L1606.2,888.2 L1607.0,885.8 L1607.8,883.5 L1608.6,881.2 L1609.5,878.9 L1610.3,876.6 L1611.1,874.2 L1611.9,871.9 L1612.7,869.6 L1613.5,867.2 L1614.3,864.9 L1615.1,862.5 L1615.9,860.2 L1616.6,857.8 L1617.4,855.4 L1618.2,853.1 L1618.9,850.7 L1619.7,848.3 L1620.5,845.9 L1621.2,843.5 L1622.0,841.1 L1622.7,838.8 L1623.5,836.4 L1624.3,834.0 L1625.0,831.6 L1625.8,829.2 L1626.6,826.8 L1627.3,824.4 L1628.1,822.0 L1628.9,819.7 L1629.7,817.3 L1630.5,814.9 L1631.3,812.5 L1632.1,810.2 L1632.9,807.8 L1633.7,805.5 L1634.5,803.1 L1635.3,800.7 L1636.2,798.4 L1637.0,796.0 L1637.8,793.7 L1638.7,791.3 L1639.5,789.0 L1640.4,786.6 L1641.2,784.3 L1642.1,782.0 L1642.9,779.6 L1643.8,777.3 L1644.7,774.9 L1645.5,772.6 L1646.4,770.3 L1647.3,767.9 L1648.2,765.6 L1649.1,763.3 L1649.9,760.9 L1650.8,758.6 L1651.7,756.2 L1652.6,753.9 L1653.5,751.6 L1654.4,749.2 L1655.3,746.9 L1656.2,744.5 L1657.0,742.2 L1657.9,739.9 L1658.8,737.5 L1659.7,735.2 L1660.6,732.8 L1661.4,730.5 L1662.3,728.1 L1663.2,725.8 L1664.0,723.4 L1664.9,721.1 L1665.7,718.7 L1666.6,716.4 L1667.4,714.0 L1668.2,711.6 L1669.1,709.3 L1669.9,706.9 L1670.7,704.6 L1671.5,702.2 L1672.3,699.8 L1673.0,697.4 L1673.8,695.1 L1674.6,692.7 L1675.3,690.3 L1676.0,687.9 L1676.8,685.5 L1677.5,683.1 L1678.2,680.7 L1678.9,678.3 L1679.5,675.9 L1680.2,673.5 L1680.8,671.1 L1681.4,668.7 L1682.1,666.3 L1682.7,663.9 L1683.2,661.4 L1683.8,659.0 L1684.4,656.6 L1684.9,654.1 L1685.5,651.7 L1686.0,649.3 L1686.5,646.8 L1687.0,644.4 L1687.5,641.9 L1688.0,639.5 L1688.4,637.0 L1688.9,634.6 L1689.3,632.1 L1689.8,629.7 L1690.2,627.2 L1690.6,624.7 L1691.1,622.3 L1691.5,619.8 L1691.9,617.3 L1692.3,614.9 L1692.6,612.4 L1693.0,609.9 L1693.4,607.4 L1693.8,605.0 L1694.1,602.5 L1694.5,600.0 L1694.8,597.5 L1695.2,595.1 L1695.5,592.6 L1695.9,590.1 L1696.2,587.6 L1696.5,585.1 L1696.8,582.6 L1697.2,580.2 L1697.5,577.7 L1697.8,575.2 L1698.1,572.7 L1698.4,570.2 L1698.7,567.7 L1699.0,565.3 L1699.3,562.8 L1699.7,560.3 L1700.0,557.8 L1700.3,555.3 L1700.6,552.8 L1700.9,550.4 L1701.2,547.9 L1701.5,545.4 L1701.8,542.9 L1702.1,540.4 L1702.4,537.9 L1702.6,535.5 L1702.9,533.0 L1703.2,530.5 L1703.5,528.0 L1703.8,525.5 L1704.1,523.0 L1704.4,520.5 L1704.7,518.1 L1705.0,515.6 L1705.2,513.1 L1705.5,510.6 L1705.8,508.1 L1706.1,505.6 L1706.4,503.2 L1706.7,500.7 L1706.9,498.2 L1707.2,495.7 L1707.5,493.2 L1707.8,490.7 L1708.1,488.3 L1708.3,485.8 L1708.6,483.3 L1708.9,480.8 L1709.2,478.3 L1709.5,475.8 L1709.7,473.4 L1710.0,470.9 L1710.3,468.4 L1710.6,465.9 L1710.8,463.4 L1711.1,460.9 L1711.4,458.5 L1711.7,456.0 L1712.0,453.5 L1712.2,451.0 L1712.5,448.5 L1712.8,446.1 L1713.1,443.6 L1713.4,441.1 L1713.6,438.6 L1713.9,436.1 L1714.2,433.6 L1714.5,431.2 L1714.8,428.7 L1715.1,426.2 L1715.3,423.7 L1715.6,421.2 L1715.9,418.7 L1716.2,416.3 L1716.5,413.8 L1716.8,411.3 L1717.1,408.8 L1717.4,406.3 L1717.6,403.9 L1717.9,401.4 L1718.2,398.9 L1718.5,396.4 L1718.8,393.9 L1719.1,391.5 L1719.4,389.0 L1719.7,386.5 L1720.0,384.0 L1720.3,381.5 L1720.6,379.1 L1720.9,376.6 L1721.2,374.1 L1721.5,371.6 L1721.9,369.1 L1722.2,366.7 L1722.5,364.2 L1722.8,361.7 L1723.1,359.2 L1723.4,356.7 L1723.7,354.3 L1724.1,351.8 L1724.4,349.3 L1724.7,346.8 L1725.0,344.3 L1725.4,341.9 L1725.7,339.4 L1726.0,336.9 L1726.4,334.4 L1726.7,332.0 L1727.0,329.5 L1727.4,327.0 L1727.7,324.5 L1728.1,322.0 L1728.4,319.6 L1728.7,317.1 L1729.1,314.6 L1729.4,312.1 L1729.8,309.7 L1730.1,307.2 L1730.5,304.7 L1730.8,302.2 L1731.2,299.8 L1731.5,297.3 L1731.9,294.8 L1732.3,292.3 L1732.6,289.9 L1733.0,287.4 L1733.4,284.9 L1733.7,282.4 L1734.1,280.0 L1734.5,277.5 L1734.8,275.0 L1735.2,272.5 L1735.6,270.1 L1736.0,267.6 L1736.3,265.1 L1736.7,262.7 L1737.1,260.2 L1737.5,257.7 L1737.9,255.2 L1738.3,252.8 L1738.7,250.3 L1739.1,247.8 L1739.4,245.4 L1739.8,242.9 L1740.2,240.4 L1740.6,238.0 L1741.0,235.5 L1741.4,233.0 L1741.8,230.6 L1742.3,228.1 L1742.7,225.6 L1743.1,223.2 L1743.5,220.7 L1743.9,218.2 L1744.3,215.8 L1744.7,213.3 L1745.1,210.8 L1745.6,208.4 L1746.0,205.9 L1746.4,203.4 L1746.8,201.0 L1747.3,198.5 L1747.7,196.0 L1748.1,193.6 L1748.5,191.1 L1749.0,188.7 L1749.4,186.2 L1749.9,183.7 L1750.3,181.3 L1750.7,178.8 L1751.2,176.4 L1751.6,173.9 L1752.1,171.4 L1752.5,169.0 L1753.0,166.5 L1753.4,164.1 L1753.9,161.6 L1754.4,159.2 L1754.8,156.7 L1755.3,154.3 L1755.8,151.8 L1756.3,149.4 L1756.8,146.9 L1757.3,144.5 L1757.8,142.0 L1758.3,139.6 L1758.8,137.1 L1759.3,134.7 L1759.9,132.3 L1760.4,129.8 L1761.0,127.4 L1761.5,125.0 L1762.1,122.6 L1762.7,120.1 L1763.2,117.7 L1763.8,115.3 L1764.4,112.9 L1765.1,110.5 L1765.7,108.1 L1766.3,105.7 L1767.0,103.3 L1767.7,100.9 L1768.5,98.5 L1769.3,96.2 L1770.2,93.8 L1771.1,91.5 L1772.1,89.2 L1773.2,86.9 L1774.4,84.7 L1775.6,82.4 L1777.0,80.2 L1778.5,78.0 L1780.1,75.9 L1781.8,74.0 L1783.8,72.3 L1785.9,70.9 L1788.1,70.0 L1790.5,69.5 L1792.9,69.5 L1795.3,70.0 L1797.6,70.8 L1799.8,72.0 L1801.9,73.4 L1803.9,75.1 L1805.7,76.9 L1807.3,78.8 L1808.9,80.9 L1810.3,83.0 L1811.7,85.3 L1813.0,87.6 L1814.2,89.9 L1815.4,92.3 L1816.6,94.6 L1817.8,96.9 L1818.9,99.2 L1820.0,101.4 L1821.1,103.6 L1822.2,105.8 L1823.3,108.0 L1824.4,110.2 L1825.5,112.4 L1826.5,114.6 L1827.5,116.8 L1828.6,119.0 L1829.6,121.2 L1830.6,123.4 L1831.6,125.7 L1832.6,127.9 L1833.5,130.2 L1834.5,132.4 L1835.5,134.7 L1836.4,137.0 L1837.3,139.2 L1838.3,141.5 L1839.2,143.8 L1840.1,146.1 L1841.0,148.4 L1841.8,150.8 L1842.7,153.1 L1843.6,155.4 L1844.4,157.7 L1845.3,160.1 L1846.1,162.4 L1846.9,164.8 L1847.8,167.1 L1848.6,169.5 L1849.4,171.9 L1850.2,174.2 L1850.9,176.6 L1851.7,179.0 L1852.5,181.4 L1853.3,183.8 L1854.0,186.1 L1854.7,188.5 L1855.5,190.9 L1856.2,193.3 L1856.9,195.7 L1857.7,198.2 L1858.4,200.6 L1859.1,203.0 L1859.8,205.4 L1860.4,207.8 L1861.1,210.2 L1861.8,212.7 L1862.5,215.1 L1863.1,217.5 L1863.8,219.9 L1864.4,222.4 L1865.1,224.8 L1865.7,227.2 L1866.3,229.6 L1867.0,232.1 L1867.6,234.5 L1868.2,236.9 L1868.8,239.4 L1869.4,241.8 L1870.0,244.2 L1870.6,246.7 L1871.2,249.1 L1871.8,251.6 L1872.3,254.0 L1872.9,256.4 L1873.5,258.9 L1874.0,261.3 L1874.6,263.7 L1875.1,266.2 L1875.7,268.6 L1876.2,271.1 L1876.8,273.5 L1877.3,276.0 L1877.8,278.4 L1878.4,280.9 L1878.9,283.3 L1879.4,285.7 L1879.9,288.2 L1880.4,290.6 L1880.9,293.1 L1881.4,295.5 L1881.9,298.0 L1882.4,300.4 L1882.9,302.9 L1883.4,305.3 L1883.9,307.8 L1884.3,310.2 L1884.8,312.7 L1885.3,315.1 L1885.7,317.6 L1886.2,320.0 L1886.7,322.5 L1887.1,325.0 L1887.6,327.4 L1888.0,329.9 L1888.5,332.3 L1888.9,334.8 L1889.4,337.2 L1889.8,339.7 L1890.2,342.2 L1890.7,344.6 L1891.1,347.1 L1891.5,349.5 L1892.0,352.0 L1892.4,354.4 L1892.8,356.9 L1893.2,359.4 L1893.7,361.8 L1894.1,364.3 L1894.5,366.8 L1894.9,369.2 L1895.3,371.7 L1895.7,374.1 L1896.1,376.6 L1896.5,379.1 L1896.9,381.5 L1897.3,384.0 L1897.7,386.5 L1898.1,388.9 L1898.5,391.4 L1898.9,393.9 L1899.3,396.3 L1899.7,398.8 L1900.1,401.2 L1900.5,403.7 L1900.9,406.2 L1901.3,408.6 L1901.7,411.1 L1902.1,413.6 L1902.5,416.0 L1902.9,418.5 L1903.3,421.0 L1903.7,423.4 L1904.1,425.9 L1904.4,428.4 L1904.8,430.8 L1905.2,433.3 L1905.6,435.8 L1906.0,438.2 L1906.4,440.7 L1906.8,443.2 L1907.2,445.7 L1907.6,448.1 L1908.0,450.6 L1908.3,453.1 L1908.7,455.5 L1909.1,458.0 L1909.5,460.5 L1909.9,462.9 L1910.3,465.4 L1910.7,467.9 L1911.1,470.3 L1911.5,472.8 L1911.9,475.3 L1912.3,477.7 L1912.7,480.2 L1913.1,482.7 L1913.5,485.1 L1913.9,487.6 L1914.3,490.1 L1914.7,492.6 L1915.1,495.0 L1915.5,497.5 L1915.9,500.0 L1916.3,502.4 L1916.7,504.9 L1917.1,507.4 L1917.6,509.8 L1918.0,512.3 L1918.4,514.8 L1918.8,517.2 L1919.2,519.7 L1919.6,522.2 L1920.0,524.6 L1920.5,527.1 L1920.9,529.6 L1921.3,532.0 L1921.7,534.5 L1922.1,537.0 L1922.6,539.4 L1923.0,541.9 L1923.4,544.4 L1923.8,546.8 L1924.3,549.3 L1924.7,551.7 L1925.1,554.2 L1925.6,556.7 L1926.0,559.1 L1926.4,561.6 L1926.9,564.1 L1927.3,566.5 L1927.8,569.0 L1928.2,571.5 L1928.7,573.9 L1929.1,576.4 L1929.5,578.8 L1930.0,581.3 L1930.4,583.8 L1930.9,586.2 L1931.4,588.7 L1931.8,591.1 L1932.3,593.6 L1932.7,596.1 L1933.2,598.5 L1933.7,601.0 L1934.1,603.4 L1934.6,605.9 L1935.1,608.3 L1935.5,610.8 L1936.0,613.3 L1936.5,615.7 L1937.0,618.2 L1937.4,620.6 L1937.9,623.1 L1938.4,625.5 L1938.9,628.0 L1939.4,630.4 L1939.9,632.9 L1940.4,635.3 L1940.8,637.8 L1941.3,640.2 L1941.8,642.7 L1942.3,645.1 L1942.8,647.6 L1943.4,650.0 L1943.9,652.5 L1944.4,654.9 L1944.9,657.4 L1945.4,659.8 L1945.9,662.3 L1946.4,664.7 L1947.0,667.2 L1947.5,669.6 L1948.1,672.0 L1948.6,674.5 L1949.1,676.9 L1949.7,679.4 L1950.3,681.8 L1950.8,684.2 L1951.4,686.6 L1952.0,689.1 L1952.6,691.5 L1953.2,693.9 L1953.8,696.3 L1954.4,698.8 L1955.1,701.2 L1955.7,703.6 L1956.3,706.0 L1957.0,708.4 L1957.7,710.8 L1958.4,713.2 L1959.0,715.6 L1959.7,718.0 L1960.5,720.3 L1961.2,722.7 L1961.9,725.1 L1962.7,727.5 L1963.5,729.8 L1964.2,732.2 L1965.0,734.6 L1965.9,736.9 L1966.7,739.3 L1967.5,741.6 L1968.4,744.0 L1969.3,746.3 L1970.2,748.6 L1971.1,750.9 L1972.0,753.3 L1972.9,755.6 L1973.9,757.9 L1974.8,760.2 L1975.8,762.5 L1976.8,764.8 L1977.8,767.1 L1978.8,769.4 L1979.8,771.7 L1980.8,774.0 L1981.8,776.3 L1982.8,778.6 L1983.8,780.9 L1984.8,783.2 L1985.8,785.5 L1986.8,787.8 L1987.8,790.1 L1988.7,792.4 L1989.7,794.7 L1990.7,797.1 L1991.7,799.4 L1992.6,801.7 L1993.5,804.0 L1994.5,806.4 L1995.4,808.7 L1996.3,811.1 L1997.2,813.4 L1998.0,815.8 L1998.9,818.2 L1999.7,820.5 L2000.5,822.9 L2001.3,825.3 L2002.1,827.7 L2002.9,830.1 L2003.7,832.5 L2004.5,834.9 L2005.2,837.3 L2006.0,839.7 L2006.7,842.1 L2007.5,844.5 L2008.2,846.9 L2009.0,849.2 L2009.7,851.6 L2010.5,854.0 L2011.2,856.4 L2012.0,858.8 L2012.7,861.2 L2013.5,863.5 L2014.2,865.9 L2015.0,868.3 L2015.8,870.6 L2016.5,873.0 L2017.3,875.4 L2018.1,877.7 L2018.9,880.1 L2019.6,882.4 L2020.4,884.8 L2021.2,887.1 L2022.0,889.5 L2022.8,891.8 L2023.6,894.2 L2024.5,896.5 L2025.3,898.8 L2026.1,901.2 L2027.0,903.5 L2027.8,905.8 L2028.7,908.1 L2029.5,910.4 L2030.4,912.8 L2031.3,915.1 L2032.2,917.4 L2033.1,919.7 L2034.0,922.0 L2034.9,924.3 L2035.9,926.6 L2036.8,928.9 L2037.8,931.2 L2038.8,933.5 L2039.8,935.8 L2040.8,938.1 L2041.8,940.4 L2042.8,942.7 L2043.8,944.9 L2044.9,947.2 L2045.9,949.5 L2047.0,951.8 L2048.1,954.0 L2049.2,956.3 L2050.4,958.6 L2051.5,960.9 L2052.7,963.1 L2053.9,965.4 L2055.1,967.6 L2056.3,969.9 L2057.5,972.1 L2058.8,974.3 L2060.0,976.5 L2061.3,978.7 L2062.6,980.9 L2064.0,983.1 L2065.4,985.2 L2066.7,987.3 L2068.2,989.5 L2069.6,991.5 L2071.1,993.6 L2072.5,995.6 L2074.1,997.6 L2075.6,999.6 L2077.2,1001.5 L2078.8,1003.4 L2080.4,1005.3 L2082.1,1007.2 L2083.8,1009.0 L2085.5,1010.7 L2087.3,1012.5 L2089.0,1014.1 L2090.9,1015.8 L2092.7,1017.4 L2094.6,1018.9 L2096.5,1020.4 L2098.5,1021.9 L2100.5,1023.3 L2102.6,1024.6 L2104.6,1025.9 L2106.8,1027.2 L2108.9,1028.4 L2111.1,1029.5 L2113.3,1030.6 L2115.6,1031.6 L2117.9,1032.5 L2120.3,1033.3 L2122.7,1034.1 L2125.1,1034.7 L2127.5,1035.2 L2129.9,1035.6 L2132.4,1035.9 L2134.9,1036.0 L2137.4,1036.0 L2139.9,1035.8 L2142.4,1035.4 L2144.9,1034.9 L2147.4,1034.2 L2149.9,1033.5 L2152.4,1032.7 L2154.9,1031.8 L2157.3,1031.0 L2159.8,1030.3 L2162.3,1029.7 L2164.7,1029.3 L2167.1,1029.1 L2169.5,1029.1 L2169.7,1029.1" fill="none" stroke="rgb(0,160,165)" stroke-width="5.300000000000001" stroke-linejoin="round"/><path d="M1324.3,1042.8 L1326.8,1042.8 L1329.3,1042.8 L1331.8,1042.6 L1334.3,1042.4 L1336.8,1042.1 L1339.2,1041.7 L1341.7,1041.2 L1344.2,1040.7 L1346.6,1040.1 L1349.0,1039.5 L1351.5,1038.9 L1353.9,1038.2 L1356.3,1037.5 L1358.8,1036.8 L1361.2,1036.1 L1363.6,1035.4 L1366.0,1034.7 L1368.4,1034.1 L1370.9,1033.4 L1373.3,1032.8 L1375.7,1032.3 L1378.1,1031.7 L1380.5,1031.3 L1382.9,1030.9 L1385.4,1030.5 L1387.8,1030.3 L1390.2,1030.1 L1392.6,1030.1 L1395.1,1030.1 L1397.5,1030.2 L1400.0,1030.5 L1402.4,1030.8 L1404.8,1031.2 L1407.3,1031.6 L1409.8,1032.2 L1412.2,1032.7 L1414.7,1033.4 L1417.1,1034.0 L1419.6,1034.7 L1422.1,1035.4 L1424.5,1036.2 L1427.0,1036.9 L1429.5,1037.6 L1431.9,1038.4 L1434.4,1039.1 L1436.9,1039.8 L1439.3,1040.4 L1441.8,1041.0 L1444.3,1041.6 L1446.7,1042.1 L1449.2,1042.6 L1451.7,1042.9 L1454.1,1043.2 L1456.6,1043.4 L1459.1,1043.6 L1461.5,1043.6 L1464.0,1043.5 L1466.4,1043.3 L1468.8,1043.0 L1471.3,1042.6 L1473.7,1042.1 L1476.1,1041.4 L1478.5,1040.7 L1480.8,1039.9 L1483.1,1039.0 L1485.4,1038.1 L1487.7,1037.0 L1489.9,1035.8 L1492.1,1034.6 L1494.2,1033.3 L1496.3,1031.9 L1498.4,1030.4 L1500.4,1028.9 L1502.3,1027.3 L1504.2,1025.6 L1506.0,1023.8 L1507.8,1022.0 L1509.5,1020.2 L1511.1,1018.2 L1512.6,1016.3 L1514.1,1014.2 L1515.5,1012.2 L1516.9,1010.0 L1518.3,1007.9 L1519.5,1005.7 L1520.8,1003.5 L1522.1,1001.3 L1523.3,999.1 L1524.5,996.9 L1525.7,994.7 L1526.9,992.4 L1528.1,990.2 L1529.3,988.0 L1530.6,985.9 L1531.9,983.7 L1533.2,981.6 L1534.6,979.5 L1536.0,977.5 L1537.4,975.5 L1539.0,973.6 L1540.6,971.7 L1542.2,969.9 L1544.0,968.2 L1545.8,966.6 L1547.7,965.0 L1549.7,963.4 L1551.7,961.9 L1553.7,960.4 L1555.8,959.0 L1557.9,957.6 L1560.1,956.2 L1562.2,954.8 L1564.4,953.4 L1566.5,952.1 L1568.6,950.7 L1570.7,949.3 L1572.8,947.8 L1574.9,946.4 L1576.9,944.9 L1578.8,943.3 L1580.7,941.8 L1582.5,940.1 L1584.2,938.4 L1585.9,936.6 L1587.4,934.8 L1588.9,932.8 L1590.2,930.8 L1591.5,928.7 L1592.7,926.5 L1593.8,924.3 L1594.8,922.0 L1595.8,919.7 L1596.7,917.3 L1597.6,914.9 L1598.4,912.5 L1599.2,910.0 L1600.0,907.6 L1600.8,905.1 L1601.5,902.6 L1602.3,900.2 L1603.0,897.7 L1603.8,895.3 L1604.5,892.9 L1605.3,890.5 L1606.2,888.2 L1607.0,885.8 L1607.8,883.5 L1608.6,881.2 L1609.5,878.9 L1610.3,876.6 L1611.1,874.2 L1611.9,871.9 L1612.7,869.6 L1613.5,867.2 L1614.3,864.9 L1615.1,862.5 L1615.9,860.2 L1616.6,857.8 L1617.4,855.4 L1618.2,853.1 L1618.9,850.7 L1619.7,848.3 L1620.5,845.9 L1621.2,843.5 L1622.0,841.1 L1622.7,838.8 L1623.5,836.4 L1624.3,834.0 L1625.0,831.6 L1625.8,829.2 L1626.6,826.8 L1627.3,824.4 L1628.1,822.0 L1628.9,819.7 L1629.7,817.3 L1630.5,814.9 L1631.3,812.5 L1632.1,810.2 L1632.9,807.8 L1633.7,805.5 L1634.5,803.1 L1635.3,800.7 L1636.2,798.4 L1637.0,796.0 L1637.8,793.7 L1638.7,791.3 L1639.5,789.0 L1640.4,786.6 L1641.2,784.3 L1642.1,782.0 L1642.9,779.6 L1643.8,777.3 L1644.7,774.9 L1645.5,772.6 L1646.4,770.3 L1647.3,767.9 L1648.2,765.6 L1649.1,763.3 L1649.9,760.9 L1650.8,758.6 L1651.7,756.2 L1652.6,753.9 L1653.5,751.6 L1654.4,749.2 L1655.3,746.9 L1656.2,744.5 L1657.0,742.2 L1657.9,739.9 L1658.8,737.5 L1659.7,735.2 L1660.6,732.8 L1661.4,730.5 L1662.3,728.1 L1663.2,725.8 L1664.0,723.4 L1664.9,721.1 L1665.7,718.7 L1666.6,716.4 L1667.4,714.0 L1668.2,711.6 L1669.1,709.3 L1669.9,706.9 L1670.7,704.6 L1671.5,702.2 L1672.3,699.8 L1673.0,697.4 L1673.8,695.1 L1674.6,692.7 L1675.3,690.3 L1676.0,687.9 L1676.8,685.5 L1677.5,683.1 L1678.2,680.7 L1678.9,678.3 L1679.5,675.9 L1680.2,673.5 L1680.8,671.1 L1681.4,668.7 L1682.1,666.3 L1682.7,663.9 L1683.2,661.4 L1683.8,659.0 L1684.4,656.6 L1684.9,654.1 L1685.5,651.7 L1686.0,649.3 L1686.5,646.8 L1687.0,644.4 L1687.5,641.9 L1688.0,639.5 L1688.4,637.0 L1688.9,634.6 L1689.3,632.1 L1689.8,629.7 L1690.2,627.2 L1690.6,624.7 L1691.1,622.3 L1691.5,619.8 L1691.9,617.3 L1692.3,614.9 L1692.6,612.4 L1693.0,609.9 L1693.4,607.4 L1693.8,605.0 L1694.1,602.5 L1694.5,600.0 L1694.8,597.5 L1695.2,595.1 L1695.5,592.6 L1695.9,590.1 L1696.2,587.6 L1696.5,585.1 L1696.8,582.6 L1697.2,580.2 L1697.5,577.7 L1697.8,575.2 L1698.1,572.7 L1698.4,570.2 L1698.7,567.7 L1699.0,565.3 L1699.3,562.8 L1699.7,560.3 L1700.0,557.8 L1700.3,555.3 L1700.6,552.8 L1700.9,550.4 L1701.2,547.9 L1701.5,545.4 L1701.8,542.9 L1702.1,540.4 L1702.4,537.9 L1702.6,535.5 L1702.9,533.0 L1703.2,530.5 L1703.5,528.0 L1703.8,525.5 L1704.1,523.0 L1704.4,520.5 L1704.7,518.1 L1705.0,515.6 L1705.2,513.1 L1705.5,510.6 L1705.8,508.1 L1706.1,505.6 L1706.4,503.2 L1706.7,500.7 L1706.9,498.2 L1707.2,495.7 L1707.5,493.2 L1707.8,490.7 L1708.1,488.3 L1708.3,485.8 L1708.6,483.3 L1708.9,480.8 L1709.2,478.3 L1709.5,475.8 L1709.7,473.4 L1710.0,470.9 L1710.3,468.4 L1710.6,465.9 L1710.8,463.4 L1711.1,460.9 L1711.4,458.5 L1711.7,456.0 L1712.0,453.5 L1712.2,451.0 L1712.5,448.5 L1712.8,446.1 L1713.1,443.6 L1713.4,441.1 L1713.6,438.6 L1713.9,436.1 L1714.2,433.6 L1714.5,431.2 L1714.8,428.7 L1715.1,426.2 L1715.3,423.7 L1715.6,421.2 L1715.9,418.7 L1716.2,416.3 L1716.5,413.8 L1716.8,411.3 L1717.1,408.8 L1717.4,406.3 L1717.6,403.9 L1717.9,401.4 L1718.2,398.9 L1718.5,396.4 L1718.8,393.9 L1719.1,391.5 L1719.4,389.0 L1719.7,386.5 L1720.0,384.0 L1720.3,381.5 L1720.6,379.1 L1720.9,376.6 L1721.2,374.1 L1721.5,371.6 L1721.9,369.1 L1722.2,366.7 L1722.5,364.2 L1722.8,361.7 L1723.1,359.2 L1723.4,356.7 L1723.7,354.3 L1724.1,351.8 L1724.4,349.3 L1724.7,346.8 L1725.0,344.3 L1725.4,341.9 L1725.7,339.4 L1726.0,336.9 L1726.4,334.4 L1726.7,332.0 L1727.0,329.5 L1727.4,327.0 L1727.7,324.5 L1728.1,322.0 L1728.4,319.6 L1728.7,317.1 L1729.1,314.6 L1729.4,312.1 L1729.8,309.7 L1730.1,307.2 L1730.5,304.7 L1730.8,302.2 L1731.2,299.8 L1731.5,297.3 L1731.9,294.8 L1732.3,292.3 L1732.6,289.9 L1733.0,287.4 L1733.4,284.9 L1733.7,282.4 L1734.1,280.0 L1734.5,277.5 L1734.8,275.0 L1735.2,272.5 L1735.6,270.1 L1736.0,267.6 L1736.3,265.1 L1736.7,262.7 L1737.1,260.2 L1737.5,257.7 L1737.9,255.2 L1738.3,252.8 L1738.7,250.3 L1739.1,247.8 L1739.4,245.4 L1739.8,242.9 L1740.2,240.4 L1740.6,238.0 L1741.0,235.5 L1741.4,233.0 L1741.8,230.6 L1742.3,228.1 L1742.7,225.6 L1743.1,223.2 L1743.5,220.7 L1743.9,218.2 L1744.3,215.8 L1744.7,213.3 L1745.1,210.8 L1745.6,208.4 L1746.0,205.9 L1746.4,203.4 L1746.8,201.0 L1747.3,198.5 L1747.7,196.0 L1748.1,193.6 L1748.5,191.1 L1749.0,188.7 L1749.4,186.2 L1749.9,183.7 L1750.3,181.3 L1750.7,178.8 L1751.2,176.4 L1751.6,173.9 L1752.1,171.4 L1752.5,169.0 L1753.0,166.5 L1753.4,164.1 L1753.9,161.6 L1754.4,159.2 L1754.8,156.7 L1755.3,154.3 L1755.8,151.8 L1756.3,149.4 L1756.8,146.9 L1757.3,144.5 L1757.8,142.0 L1758.3,139.6 L1758.8,137.1 L1759.3,134.7 L1759.9,132.3 L1760.4,129.8 L1761.0,127.4 L1761.5,125.0 L1762.1,122.6 L1762.7,120.1 L1763.2,117.7 L1763.8,115.3 L1764.4,112.9 L1765.1,110.5 L1765.7,108.1 L1766.3,105.7 L1767.0,103.3 L1767.7,100.9 L1768.5,98.5 L1769.3,96.2 L1770.2,93.8 L1771.1,91.5 L1772.1,89.2 L1773.2,86.9 L1774.4,84.7 L1775.6,82.4 L1777.0,80.2 L1778.5,78.0 L1780.1,75.9 L1781.8,74.0 L1783.8,72.3 L1785.9,70.9 L1788.1,70.0 L1790.5,69.5 L1792.9,69.5 L1795.3,70.0 L1797.6,70.8 L1799.8,72.0 L1801.9,73.4 L1803.9,75.1 L1805.7,76.9 L1807.3,78.8 L1808.9,80.9 L1810.3,83.0 L1811.7,85.3 L1813.0,87.6 L1814.2,89.9 L1815.4,92.3 L1816.6,94.6 L1817.8,96.9 L1818.9,99.2 L1820.0,101.4 L1821.1,103.6 L1822.2,105.8 L1823.3,108.0 L1824.4,110.2 L1825.5,112.4 L1826.5,114.6 L1827.5,116.8 L1828.6,119.0 L1829.6,121.2 L1830.6,123.4 L1831.6,125.7 L1832.6,127.9 L1833.5,130.2 L1834.5,132.4 L1835.5,134.7 L1836.4,137.0 L1837.3,139.2 L1838.3,141.5 L1839.2,143.8 L1840.1,146.1 L1841.0,148.4 L1841.8,150.8 L1842.7,153.1 L1843.6,155.4 L1844.4,157.7 L1845.3,160.1 L1846.1,162.4 L1846.9,164.8 L1847.8,167.1 L1848.6,169.5 L1849.4,171.9 L1850.2,174.2 L1850.9,176.6 L1851.7,179.0 L1852.5,181.4 L1853.3,183.8 L1854.0,186.1 L1854.7,188.5 L1855.5,190.9 L1856.2,193.3 L1856.9,195.7 L1857.7,198.2 L1858.4,200.6 L1859.1,203.0 L1859.8,205.4 L1860.4,207.8 L1861.1,210.2 L1861.8,212.7 L1862.5,215.1 L1863.1,217.5 L1863.8,219.9 L1864.4,222.4 L1865.1,224.8 L1865.7,227.2 L1866.3,229.6 L1867.0,232.1 L1867.6,234.5 L1868.2,236.9 L1868.8,239.4 L1869.4,241.8 L1870.0,244.2 L1870.6,246.7 L1871.2,249.1 L1871.8,251.6 L1872.3,254.0 L1872.9,256.4 L1873.5,258.9 L1874.0,261.3 L1874.6,263.7 L1875.1,266.2 L1875.7,268.6 L1876.2,271.1 L1876.8,273.5 L1877.3,276.0 L1877.8,278.4 L1878.4,280.9 L1878.9,283.3 L1879.4,285.7 L1879.9,288.2 L1880.4,290.6 L1880.9,293.1 L1881.4,295.5 L1881.9,298.0 L1882.4,300.4 L1882.9,302.9 L1883.4,305.3 L1883.9,307.8 L1884.3,310.2 L1884.8,312.7 L1885.3,315.1 L1885.7,317.6 L1886.2,320.0 L1886.7,322.5 L1887.1,325.0 L1887.6,327.4 L1888.0,329.9 L1888.5,332.3 L1888.9,334.8 L1889.4,337.2 L1889.8,339.7 L1890.2,342.2 L1890.7,344.6 L1891.1,347.1 L1891.5,349.5 L1892.0,352.0 L1892.4,354.4 L1892.8,356.9 L1893.2,359.4 L1893.7,361.8 L1894.1,364.3 L1894.5,366.8 L1894.9,369.2 L1895.3,371.7 L1895.7,374.1 L1896.1,376.6 L1896.5,379.1 L1896.9,381.5 L1897.3,384.0 L1897.7,386.5 L1898.1,388.9 L1898.5,391.4 L1898.9,393.9 L1899.3,396.3 L1899.7,398.8 L1900.1,401.2 L1900.5,403.7 L1900.9,406.2 L1901.3,408.6 L1901.7,411.1 L1902.1,413.6 L1902.5,416.0 L1902.9,418.5 L1903.3,421.0 L1903.7,423.4 L1904.1,425.9 L1904.4,428.4 L1904.8,430.8 L1905.2,433.3 L1905.6,435.8 L1906.0,438.2 L1906.4,440.7 L1906.8,443.2 L1907.2,445.7 L1907.6,448.1 L1908.0,450.6 L1908.3,453.1 L1908.7,455.5 L1909.1,458.0 L1909.5,460.5 L1909.9,462.9 L1910.3,465.4 L1910.7,467.9 L1911.1,470.3 L1911.5,472.8 L1911.9,475.3 L1912.3,477.7 L1912.7,480.2 L1913.1,482.7 L1913.5,485.1 L1913.9,487.6 L1914.3,490.1 L1914.7,492.6 L1915.1,495.0 L1915.5,497.5 L1915.9,500.0 L1916.3,502.4 L1916.7,504.9 L1917.1,507.4 L1917.6,509.8 L1918.0,512.3 L1918.4,514.8 L1918.8,517.2 L1919.2,519.7 L1919.6,522.2 L1920.0,524.6 L1920.5,527.1 L1920.9,529.6 L1921.3,532.0 L1921.7,534.5 L1922.1,537.0 L1922.6,539.4 L1923.0,541.9 L1923.4,544.4 L1923.8,546.8 L1924.3,549.3 L1924.7,551.7 L1925.1,554.2 L1925.6,556.7 L1926.0,559.1 L1926.4,561.6 L1926.9,564.1 L1927.3,566.5 L1927.8,569.0 L1928.2,571.5 L1928.7,573.9 L1929.1,576.4 L1929.5,578.8 L1930.0,581.3 L1930.4,583.8 L1930.9,586.2 L1931.4,588.7 L1931.8,591.1 L1932.3,593.6 L1932.7,596.1 L1933.2,598.5 L1933.7,601.0 L1934.1,603.4 L1934.6,605.9 L1935.1,608.3 L1935.5,610.8 L1936.0,613.3 L1936.5,615.7 L1937.0,618.2 L1937.4,620.6 L1937.9,623.1 L1938.4,625.5 L1938.9,628.0 L1939.4,630.4 L1939.9,632.9 L1940.4,635.3 L1940.8,637.8 L1941.3,640.2 L1941.8,642.7 L1942.3,645.1 L1942.8,647.6 L1943.4,650.0 L1943.9,652.5 L1944.4,654.9 L1944.9,657.4 L1945.4,659.8 L1945.9,662.3 L1946.4,664.7 L1947.0,667.2 L1947.5,669.6 L1948.1,672.0 L1948.6,674.5 L1949.1,676.9 L1949.7,679.4 L1950.3,681.8 L1950.8,684.2 L1951.4,686.6 L1952.0,689.1 L1952.6,691.5 L1953.2,693.9 L1953.8,696.3 L1954.4,698.8 L1955.1,701.2 L1955.7,703.6 L1956.3,706.0 L1957.0,708.4 L1957.7,710.8 L1958.4,713.2 L1959.0,715.6 L1959.7,718.0 L1960.5,720.3 L1961.2,722.7 L1961.9,725.1 L1962.7,727.5 L1963.5,729.8 L1964.2,732.2 L1965.0,734.6 L1965.9,736.9 L1966.7,739.3 L1967.5,741.6 L1968.4,744.0 L1969.3,746.3 L1970.2,748.6 L1971.1,750.9 L1972.0,753.3 L1972.9,755.6 L1973.9,757.9 L1974.8,760.2 L1975.8,762.5 L1976.8,764.8 L1977.8,767.1 L1978.8,769.4 L1979.8,771.7 L1980.8,774.0 L1981.8,776.3 L1982.8,778.6 L1983.8,780.9 L1984.8,783.2 L1985.8,785.5 L1986.8,787.8 L1987.8,790.1 L1988.7,792.4 L1989.7,794.7 L1990.7,797.1 L1991.7,799.4 L1992.6,801.7 L1993.5,804.0 L1994.5,806.4 L1995.4,808.7 L1996.3,811.1 L1997.2,813.4 L1998.0,815.8 L1998.9,818.2 L1999.7,820.5 L2000.5,822.9 L2001.3,825.3 L2002.1,827.7 L2002.9,830.1 L2003.7,832.5 L2004.5,834.9 L2005.2,837.3 L2006.0,839.7 L2006.7,842.1 L2007.5,844.5 L2008.2,846.9 L2009.0,849.2 L2009.7,851.6 L2010.5,854.0 L2011.2,856.4 L2012.0,858.8 L2012.7,861.2 L2013.5,863.5 L2014.2,865.9 L2015.0,868.3 L2015.8,870.6 L2016.5,873.0 L2017.3,875.4 L2018.1,877.7 L2018.9,880.1 L2019.6,882.4 L2020.4,884.8 L2021.2,887.1 L2022.0,889.5 L2022.8,891.8 L2023.6,894.2 L2024.5,896.5 L2025.3,898.8 L2026.1,901.2 L2027.0,903.5 L2027.8,905.8 L2028.7,908.1 L2029.5,910.4 L2030.4,912.8 L2031.3,915.1 L2032.2,917.4 L2033.1,919.7 L2034.0,922.0 L2034.9,924.3 L2035.9,926.6 L2036.8,928.9 L2037.8,931.2 L2038.8,933.5 L2039.8,935.8 L2040.8,938.1 L2041.8,940.4 L2042.8,942.7 L2043.8,944.9 L2044.9,947.2 L2045.9,949.5 L2047.0,951.8 L2048.1,954.0 L2049.2,956.3 L2050.4,958.6 L2051.5,960.9 L2052.7,963.1 L2053.9,965.4 L2055.1,967.6 L2056.3,969.9 L2057.5,972.1 L2058.8,974.3 L2060.0,976.5 L2061.3,978.7 L2062.6,980.9 L2064.0,983.1 L2065.4,985.2 L2066.7,987.3 L2068.2,989.5 L2069.6,991.5 L2071.1,993.6 L2072.5,995.6 L2074.1,997.6 L2075.6,999.6 L2077.2,1001.5 L2078.8,1003.4 L2080.4,1005.3 L2082.1,1007.2 L2083.8,1009.0 L2085.5,1010.7 L2087.3,1012.5 L2089.0,1014.1 L2090.9,1015.8 L2092.7,1017.4 L2094.6,1018.9 L2096.5,1020.4 L2098.5,1021.9 L2100.5,1023.3 L2102.6,1024.6 L2104.6,1025.9 L2106.8,1027.2 L2108.9,1028.4 L2111.1,1029.5 L2113.3,1030.6 L2115.6,1031.6 L2117.9,1032.5 L2120.3,1033.3 L2122.7,1034.1 L2125.1,1034.7 L2127.5,1035.2 L2129.9,1035.6 L2132.4,1035.9 L2134.9,1036.0 L2137.4,1036.0 L2139.9,1035.8 L2142.4,1035.4 L2144.9,1034.9 L2147.4,1034.2 L2149.9,1033.5 L2152.4,1032.7 L2154.9,1031.8 L2157.3,1031.0 L2159.8,1030.3 L2162.3,1029.7 L2164.7,1029.3 L2167.1,1029.1 L2169.5,1029.1 L2169.7,1029.1" fill="none" stroke="rgb(0,122,127)" stroke-width="2.8" stroke-linejoin="round"/></g>
<path d="M1324.3,1032.7 L1326.9,1033.0 L1329.4,1033.1 L1331.9,1033.2 L1334.5,1033.2 L1337.0,1033.2 L1339.5,1033.0 L1342.0,1032.8 L1344.5,1032.5 L1347.0,1032.1 L1349.5,1031.6 L1351.9,1031.1 L1354.3,1030.5 L1356.7,1029.8 L1359.1,1029.1 L1361.5,1028.3 L1363.8,1027.4 L1366.1,1026.5 L1368.4,1025.5 L1370.6,1024.4 L1372.8,1023.3 L1375.0,1022.1 L1377.1,1020.9 L1379.3,1019.6 L1381.3,1018.2 L1383.4,1016.8 L1385.3,1015.4 L1387.3,1013.9 L1389.2,1012.3 L1391.2,1010.8 L1393.0,1009.2 L1394.9,1007.5 L1396.7,1005.8 L1398.5,1004.1 L1400.3,1002.4 L1402.1,1000.7 L1403.9,998.9 L1405.7,997.1 L1407.5,995.4 L1409.2,993.6 L1411.0,991.8 L1412.8,990.0 L1414.5,988.2 L1416.3,986.4 L1418.1,984.7 L1419.9,982.9 L1421.7,981.1 L1423.5,979.4 L1425.3,977.6 L1427.1,975.9 L1428.9,974.1 L1430.7,972.4 L1432.5,970.6 L1434.3,968.9 L1436.1,967.2 L1437.9,965.4 L1439.8,963.7 L1441.6,961.9 L1443.4,960.2 L1445.2,958.4 L1447.0,956.7 L1448.8,954.9 L1450.6,953.2 L1452.3,951.4 L1454.1,949.7 L1455.9,947.9 L1457.7,946.1 L1459.4,944.4 L1461.2,942.6 L1462.9,940.8 L1464.7,939.0 L1466.4,937.2 L1468.1,935.4 L1469.8,933.6 L1471.5,931.8 L1473.2,929.9 L1474.9,928.1 L1476.6,926.3 L1478.2,924.4 L1479.9,922.5 L1481.5,920.7 L1483.1,918.8 L1484.7,916.9 L1486.3,915.0 L1487.9,913.0 L1489.4,911.1 L1490.9,909.2 L1492.5,907.2 L1494.0,905.2 L1495.4,903.2 L1496.9,901.2 L1498.4,899.2 L1499.8,897.2 L1501.2,895.1 L1502.6,893.1 L1504.0,891.0 L1505.3,888.9 L1506.7,886.8 L1508.0,884.7 L1509.3,882.6 L1510.6,880.5 L1511.9,878.4 L1513.2,876.2 L1514.4,874.1 L1515.7,871.9 L1516.9,869.7 L1518.1,867.5 L1519.3,865.3 L1520.5,863.1 L1521.7,860.9 L1522.9,858.7 L1524.0,856.5 L1525.2,854.2 L1526.3,852.0 L1527.4,849.7 L1528.5,847.5 L1529.6,845.2 L1530.7,842.9 L1531.8,840.7 L1532.9,838.4 L1533.9,836.1 L1535.0,833.8 L1536.0,831.5 L1537.1,829.2 L1538.1,826.9 L1539.1,824.6 L1540.1,822.3 L1541.1,820.0 L1542.1,817.7 L1543.1,815.4 L1544.1,813.1 L1545.1,810.8 L1546.1,808.4 L1547.0,806.1 L1548.0,803.8 L1549.0,801.5 L1549.9,799.1 L1550.9,796.8 L1551.8,794.5 L1552.8,792.2 L1553.7,789.9 L1554.7,787.5 L1555.6,785.2 L1556.5,782.9 L1557.5,780.6 L1558.4,778.3 L1559.3,776.0 L1560.3,773.7 L1561.2,771.4 L1562.1,769.1 L1563.1,766.8 L1564.0,764.5 L1564.9,762.2 L1565.9,759.9 L1566.9,757.6 L1567.8,755.4 L1568.8,753.1 L1569.8,750.8 L1570.8,748.5 L1571.8,746.3 L1572.8,744.0 L1573.8,741.7 L1574.8,739.5 L1575.9,737.2 L1576.9,735.0 L1578.0,732.7 L1579.1,730.5 L1580.2,728.2 L1581.3,726.0 L1582.5,723.8 L1583.6,721.5 L1584.8,719.3 L1585.9,717.1 L1587.1,714.9 L1588.3,712.6 L1589.5,710.4 L1590.6,708.2 L1591.8,705.9 L1593.0,703.7 L1594.2,701.5 L1595.4,699.3 L1596.5,697.0 L1597.7,694.8 L1598.8,692.5 L1600.0,690.3 L1601.1,688.1 L1602.2,685.8 L1603.3,683.5 L1604.4,681.3 L1605.5,679.0 L1606.5,676.7 L1607.6,674.5 L1608.6,672.2 L1609.6,669.9 L1610.5,667.6 L1611.4,665.3 L1612.4,662.9 L1613.3,660.6 L1614.1,658.3 L1615.0,656.0 L1615.8,653.6 L1616.6,651.3 L1617.4,648.9 L1618.2,646.6 L1619.0,644.2 L1619.7,641.8 L1620.4,639.4 L1621.1,637.1 L1621.8,634.7 L1622.5,632.3 L1623.2,629.9 L1623.8,627.5 L1624.4,625.1 L1625.1,622.7 L1625.7,620.3 L1626.2,617.9 L1626.8,615.4 L1627.4,613.0 L1627.9,610.6 L1628.4,608.2 L1629.0,605.7 L1629.5,603.3 L1630.0,600.8 L1630.5,598.4 L1630.9,595.9 L1631.4,593.5 L1631.9,591.0 L1632.3,588.6 L1632.8,586.1 L1633.2,583.7 L1633.6,581.2 L1634.0,578.7 L1634.4,576.3 L1634.8,573.8 L1635.2,571.3 L1635.6,568.9 L1636.0,566.4 L1636.4,563.9 L1636.7,561.5 L1637.1,559.0 L1637.5,556.5 L1637.8,554.0 L1638.2,551.5 L1638.5,549.1 L1638.9,546.6 L1639.2,544.1 L1639.6,541.6 L1639.9,539.1 L1640.2,536.7 L1640.5,534.2 L1640.9,531.7 L1641.2,529.2 L1641.5,526.7 L1641.8,524.2 L1642.1,521.8 L1642.5,519.3 L1642.8,516.8 L1643.1,514.3 L1643.4,511.8 L1643.7,509.3 L1644.0,506.8 L1644.3,504.3 L1644.6,501.9 L1644.9,499.4 L1645.2,496.9 L1645.5,494.4 L1645.9,491.9 L1646.2,489.4 L1646.5,487.0 L1646.8,484.5 L1647.1,482.0 L1647.4,479.5 L1647.7,477.0 L1648.1,474.5 L1648.4,472.1 L1648.7,469.6 L1649.0,467.1 L1649.3,464.6 L1649.7,462.1 L1650.0,459.7 L1650.3,457.2 L1650.6,454.7 L1651.0,452.2 L1651.3,449.8 L1651.6,447.3 L1651.9,444.8 L1652.3,442.3 L1652.6,439.9 L1652.9,437.4 L1653.2,434.9 L1653.6,432.4 L1653.9,430.0 L1654.2,427.5 L1654.6,425.0 L1654.9,422.5 L1655.2,420.1 L1655.5,417.6 L1655.9,415.1 L1656.2,412.6 L1656.5,410.2 L1656.9,407.7 L1657.2,405.2 L1657.5,402.7 L1657.8,400.3 L1658.2,397.8 L1658.5,395.3 L1658.8,392.8 L1659.2,390.4 L1659.5,387.9 L1659.8,385.4 L1660.1,382.9 L1660.5,380.5 L1660.8,378.0 L1661.1,375.5 L1661.4,373.0 L1661.8,370.6 L1662.1,368.1 L1662.4,365.6 L1662.7,363.1 L1663.0,360.7 L1663.4,358.2 L1663.7,355.7 L1664.0,353.2 L1664.3,350.7 L1664.6,348.3 L1665.0,345.8 L1665.3,343.3 L1665.6,340.8 L1665.9,338.3 L1666.2,335.9 L1666.5,333.4 L1666.8,330.9 L1667.1,328.4 L1667.4,325.9 L1667.7,323.4 L1668.0,321.0 L1668.3,318.5 L1668.6,316.0 L1668.9,313.5 L1669.2,311.0 L1669.5,308.5 L1669.8,306.0 L1670.1,303.6 L1670.4,301.1 L1670.7,298.6 L1671.0,296.1 L1671.3,293.6 L1671.6,291.1 L1671.9,288.6 L1672.3,286.1 L1672.6,283.7 L1672.9,281.2 L1673.2,278.7 L1673.5,276.2 L1673.8,273.7 L1674.1,271.2 L1674.4,268.8 L1674.7,266.3 L1675.1,263.8 L1675.4,261.3 L1675.7,258.8 L1676.0,256.3 L1676.4,253.9 L1676.7,251.4 L1677.0,248.9 L1677.4,246.4 L1677.7,243.9 L1678.1,241.5 L1678.4,239.0 L1678.8,236.5 L1679.1,234.0 L1679.5,231.6 L1679.8,229.1 L1680.2,226.6 L1680.6,224.1 L1681.0,221.7 L1681.3,219.2 L1681.7,216.7 L1682.1,214.3 L1682.5,211.8 L1682.9,209.3 L1683.3,206.9 L1683.7,204.4 L1684.1,202.0 L1684.6,199.5 L1685.0,197.0 L1685.4,194.6 L1685.9,192.1 L1686.3,189.7 L1686.8,187.2 L1687.2,184.8 L1687.7,182.3 L1688.2,179.9 L1688.7,177.5 L1689.1,175.0 L1689.6,172.6 L1690.1,170.1 L1690.6,167.7 L1691.2,165.3 L1691.7,162.8 L1692.2,160.4 L1692.8,158.0 L1693.3,155.6 L1693.9,153.1 L1694.4,150.7 L1695.0,148.3 L1695.6,145.9 L1696.2,143.5 L1696.8,141.1 L1697.4,138.6 L1698.1,136.2 L1698.8,133.8 L1699.6,131.4 L1700.4,129.0 L1701.2,126.7 L1702.1,124.3 L1703.1,121.9 L1704.2,119.5 L1705.3,117.2 L1706.6,114.9 L1708.0,112.8 L1709.6,110.8 L1711.4,109.0 L1713.5,107.5 L1715.7,106.3 L1718.0,105.5 L1720.5,105.1 L1722.9,105.1 L1725.4,105.6 L1727.7,106.4 L1730.0,107.5 L1732.1,108.9 L1734.1,110.5 L1735.9,112.3 L1737.5,114.2 L1739.1,116.3 L1740.5,118.4 L1741.8,120.7 L1743.1,123.0 L1744.3,125.4 L1745.4,127.7 L1746.5,130.1 L1747.5,132.4 L1748.6,134.7 L1749.6,137.0 L1750.6,139.2 L1751.6,141.4 L1752.6,143.5 L1753.5,145.7 L1754.5,147.9 L1755.4,150.1 L1756.3,152.3 L1757.2,154.6 L1758.1,156.9 L1759.0,159.1 L1759.9,161.4 L1760.7,163.8 L1761.6,166.1 L1762.4,168.4 L1763.3,170.8 L1764.1,173.2 L1764.9,175.5 L1765.7,177.9 L1766.5,180.3 L1767.2,182.7 L1768.0,185.1 L1768.7,187.5 L1769.5,190.0 L1770.2,192.4 L1771.0,194.8 L1771.7,197.2 L1772.4,199.6 L1773.1,202.0 L1773.8,204.5 L1774.5,206.9 L1775.2,209.3 L1775.9,211.7 L1776.5,214.1 L1777.2,216.6 L1777.9,219.0 L1778.5,221.4 L1779.2,223.8 L1779.8,226.2 L1780.4,228.7 L1781.1,231.1 L1781.7,233.5 L1782.3,235.9 L1782.9,238.4 L1783.5,240.8 L1784.1,243.2 L1784.8,245.6 L1785.4,248.1 L1785.9,250.5 L1786.5,252.9 L1787.1,255.3 L1787.7,257.8 L1788.3,260.2 L1788.9,262.6 L1789.5,265.0 L1790.1,267.5 L1790.6,269.9 L1791.2,272.3 L1791.8,274.8 L1792.4,277.2 L1792.9,279.6 L1793.5,282.0 L1794.1,284.5 L1794.6,286.9 L1795.2,289.3 L1795.8,291.7 L1796.4,294.2 L1796.9,296.6 L1797.5,299.0 L1798.1,301.5 L1798.6,303.9 L1799.2,306.3 L1799.8,308.7 L1800.4,311.2 L1801.0,313.6 L1801.5,316.0 L1802.1,318.4 L1802.7,320.9 L1803.3,323.3 L1803.9,325.7 L1804.5,328.1 L1805.1,330.6 L1805.7,333.0 L1806.3,335.4 L1806.9,337.8 L1807.6,340.3 L1808.2,342.7 L1808.8,345.1 L1809.4,347.5 L1810.0,349.9 L1810.7,352.4 L1811.3,354.8 L1811.9,357.2 L1812.6,359.6 L1813.2,362.0 L1813.9,364.5 L1814.5,366.9 L1815.1,369.3 L1815.8,371.7 L1816.4,374.1 L1817.1,376.6 L1817.7,379.0 L1818.4,381.4 L1819.0,383.8 L1819.7,386.2 L1820.3,388.7 L1820.9,391.1 L1821.6,393.5 L1822.2,395.9 L1822.9,398.4 L1823.5,400.8 L1824.2,403.2 L1824.8,405.6 L1825.4,408.0 L1826.1,410.5 L1826.7,412.9 L1827.4,415.3 L1828.0,417.7 L1828.6,420.1 L1829.2,422.6 L1829.9,425.0 L1830.5,427.4 L1831.1,429.8 L1831.7,432.3 L1832.3,434.7 L1832.9,437.1 L1833.5,439.5 L1834.2,442.0 L1834.7,444.4 L1835.3,446.8 L1835.9,449.2 L1836.5,451.7 L1837.1,454.1 L1837.7,456.5 L1838.2,459.0 L1838.8,461.4 L1839.4,463.8 L1839.9,466.3 L1840.5,468.7 L1841.0,471.1 L1841.6,473.6 L1842.1,476.0 L1842.7,478.4 L1843.2,480.9 L1843.8,483.3 L1844.3,485.7 L1844.8,488.2 L1845.3,490.6 L1845.9,493.1 L1846.4,495.5 L1846.9,497.9 L1847.4,500.4 L1847.9,502.8 L1848.4,505.3 L1848.9,507.7 L1849.4,510.1 L1849.9,512.6 L1850.4,515.0 L1850.9,517.5 L1851.4,519.9 L1851.9,522.4 L1852.4,524.8 L1852.8,527.3 L1853.3,529.7 L1853.8,532.2 L1854.3,534.6 L1854.7,537.1 L1855.2,539.5 L1855.7,542.0 L1856.2,544.4 L1856.6,546.9 L1857.1,549.4 L1857.6,551.8 L1858.0,554.3 L1858.5,556.7 L1859.0,559.2 L1859.4,561.7 L1859.9,564.1 L1860.4,566.6 L1860.8,569.0 L1861.3,571.5 L1861.8,573.9 L1862.2,576.4 L1862.7,578.9 L1863.1,581.3 L1863.6,583.8 L1864.1,586.2 L1864.5,588.7 L1865.0,591.2 L1865.5,593.6 L1866.0,596.1 L1866.4,598.5 L1866.9,601.0 L1867.4,603.5 L1867.9,605.9 L1868.3,608.4 L1868.8,610.8 L1869.3,613.3 L1869.8,615.8 L1870.3,618.2 L1870.8,620.7 L1871.3,623.1 L1871.8,625.6 L1872.3,628.0 L1872.8,630.5 L1873.3,632.9 L1873.8,635.4 L1874.3,637.8 L1874.8,640.3 L1875.3,642.7 L1875.9,645.2 L1876.4,647.6 L1876.9,650.1 L1877.4,652.5 L1878.0,654.9 L1878.5,657.4 L1879.1,659.8 L1879.6,662.3 L1880.2,664.7 L1880.8,667.1 L1881.3,669.6 L1881.9,672.0 L1882.5,674.4 L1883.1,676.8 L1883.7,679.3 L1884.3,681.7 L1884.9,684.1 L1885.5,686.5 L1886.1,689.0 L1886.7,691.4 L1887.3,693.8 L1888.0,696.2 L1888.6,698.6 L1889.3,701.0 L1889.9,703.4 L1890.6,705.9 L1891.2,708.3 L1891.9,710.7 L1892.6,713.1 L1893.2,715.5 L1893.9,717.9 L1894.6,720.3 L1895.3,722.7 L1896.0,725.1 L1896.7,727.5 L1897.4,729.8 L1898.1,732.2 L1898.8,734.6 L1899.6,737.0 L1900.3,739.4 L1901.0,741.8 L1901.8,744.2 L1902.5,746.6 L1903.2,748.9 L1904.0,751.3 L1904.7,753.7 L1905.5,756.1 L1906.3,758.5 L1907.0,760.8 L1907.8,763.2 L1908.6,765.6 L1909.4,767.9 L1910.1,770.3 L1910.9,772.7 L1911.7,775.1 L1912.5,777.4 L1913.3,779.8 L1914.1,782.2 L1914.9,784.5 L1915.7,786.9 L1916.5,789.2 L1917.4,791.6 L1918.2,794.0 L1919.0,796.3 L1919.8,798.7 L1920.6,801.0 L1921.5,803.4 L1922.3,805.7 L1923.2,808.1 L1924.0,810.5 L1924.8,812.8 L1925.7,815.2 L1926.5,817.5 L1927.4,819.9 L1928.3,822.2 L1929.1,824.6 L1930.0,826.9 L1930.8,829.2 L1931.7,831.6 L1932.6,833.9 L1933.5,836.3 L1934.3,838.6 L1935.2,841.0 L1936.1,843.3 L1937.0,845.7 L1937.9,848.0 L1938.7,850.3 L1939.6,852.7 L1940.5,855.0 L1941.4,857.4 L1942.3,859.7 L1943.2,862.0 L1944.1,864.4 L1945.0,866.7 L1945.9,869.0 L1946.8,871.4 L1947.7,873.7 L1948.6,876.1 L1949.5,878.4 L1950.4,880.7 L1951.3,883.1 L1952.2,885.4 L1953.2,887.7 L1954.1,890.1 L1955.0,892.4 L1955.9,894.7 L1956.8,897.1 L1957.7,899.4 L1958.7,901.7 L1959.6,904.1 L1960.5,906.4 L1961.4,908.7 L1962.3,911.1 L1963.3,913.4 L1964.2,915.7 L1965.1,918.1 L1966.0,920.4 L1967.0,922.7 L1967.9,925.0 L1968.8,927.4 L1969.7,929.7 L1970.7,932.0 L1971.6,934.4 L1972.5,936.7 L1973.4,939.0 L1974.4,941.4 L1975.3,943.7 L1976.2,946.0 L1977.1,948.4 L1978.1,950.7 L1979.0,953.0 L1979.9,955.4 L1980.8,957.7 L1981.8,960.0 L1982.7,962.3 L1983.7,964.6 L1984.7,966.9 L1985.6,969.2 L1986.6,971.5 L1987.6,973.8 L1988.7,976.1 L1989.7,978.3 L1990.8,980.6 L1991.9,982.8 L1993.0,985.0 L1994.2,987.2 L1995.4,989.4 L1996.6,991.5 L1997.9,993.6 L1999.2,995.7 L2000.5,997.8 L2001.9,999.9 L2003.3,1001.9 L2004.8,1003.9 L2006.3,1005.9 L2007.8,1007.8 L2009.4,1009.7 L2011.1,1011.6 L2012.8,1013.5 L2014.5,1015.3 L2016.3,1017.0 L2018.2,1018.7 L2020.1,1020.4 L2022.0,1022.0 L2024.0,1023.5 L2026.0,1025.0 L2028.0,1026.4 L2030.1,1027.7 L2032.2,1029.0 L2034.4,1030.2 L2036.6,1031.3 L2038.9,1032.4 L2041.2,1033.4 L2043.5,1034.3 L2045.8,1035.2 L2048.2,1036.0 L2050.6,1036.7 L2053.0,1037.4 L2055.4,1038.0 L2057.9,1038.6 L2060.3,1039.2 L2062.8,1039.6 L2065.3,1040.1 L2067.8,1040.5 L2070.4,1040.9 L2072.9,1041.2 L2075.4,1041.5 L2077.9,1041.8 L2080.5,1042.0 L2083.0,1042.3 L2085.5,1042.5 L2088.1,1042.6 L2090.6,1042.8 L2093.1,1043.0 L2095.6,1043.1 L2098.1,1043.2 L2100.5,1043.3 L2103.0,1043.5 L2105.4,1043.6 L2107.8,1043.7 L2110.0,1043.8 L2169.7,1043.8" fill="none" stroke="#000" stroke-width="4.9" stroke-linejoin="round" stroke-linecap="butt"/>
<rect x="2108" y="1041.1" width="61.7" height="5.6" fill="#000"/>
<rect x="193.0" y="21.8" width="929.5" height="1071.2" fill="none" stroke="#333" stroke-width="5.6"/>
<rect x="1281.2" y="21.8" width="929.7" height="1071.2" fill="none" stroke="#333" stroke-width="5.6"/>
<rect x="184.3" y="163.15" width="6.2" height="5.7" fill="#333"/>
<rect x="184.3" y="455.15" width="6.2" height="5.7" fill="#333"/>
<rect x="184.3" y="746.55" width="6.2" height="5.7" fill="#333"/>
<rect x="184.3" y="1040.95" width="6.2" height="5.7" fill="#333"/>
<rect x="1272.6" y="252.85" width="6.2" height="5.7" fill="#333"/>
<rect x="1272.6" y="515.55" width="6.2" height="5.7" fill="#333"/>
<rect x="1272.6" y="778.25" width="6.2" height="5.7" fill="#333"/>
<rect x="1272.6" y="1041.05" width="6.2" height="5.7" fill="#333"/>
<rect x="297.15" y="1095.5" width="5.7" height="6.1" fill="#333"/>
<rect x="513.45" y="1095.5" width="5.7" height="6.1" fill="#333"/>
<rect x="729.95" y="1095.5" width="5.7" height="6.1" fill="#333"/>
<rect x="946.35" y="1095.5" width="5.7" height="6.1" fill="#333"/>
<rect x="1480.55" y="1095.5" width="5.7" height="6.1" fill="#333"/>
<rect x="1720.25" y="1095.5" width="5.7" height="6.1" fill="#333"/>
<rect x="1962.35" y="1095.5" width="5.7" height="6.1" fill="#333"/>
<rect x="2205.05" y="1095.5" width="5.7" height="6.1" fill="#333"/>
<text x="269.16" y="1153.32" font-size="47.5" textLength="53.91" lengthAdjust="spacingAndGlyphs" fill="#565656">92</text>
<text x="481.12" y="1153.32" font-size="47.5" textLength="48.99" lengthAdjust="spacingAndGlyphs" fill="#565656">93</text>
<text x="693.65" y="1156.22" font-size="47.5" textLength="51.15" lengthAdjust="spacingAndGlyphs" fill="#565656">94</text>
<text x="913.01" y="1156.22" font-size="47.5" textLength="52.33" lengthAdjust="spacingAndGlyphs" fill="#565656">95</text>
<text x="1451.87" y="1161.62" font-size="47.5" textLength="53.11" lengthAdjust="spacingAndGlyphs" fill="#565656">25</text>
<text x="1697.55" y="1156.22" font-size="47.5" textLength="53.39" lengthAdjust="spacingAndGlyphs" fill="#565656">30</text>
<text x="1933.88" y="1156.22" font-size="47.5" textLength="52.57" lengthAdjust="spacingAndGlyphs" fill="#565656">35</text>
<text x="2172.28" y="1156.22" font-size="47.5" textLength="52.00" lengthAdjust="spacingAndGlyphs" fill="#565656">40</text>
<text x="96.11" y="188.72" font-size="47.5" textLength="60.99" lengthAdjust="spacingAndGlyphs" fill="#565656">1.5</text>
<text x="96.07" y="471.52" font-size="47.5" textLength="61.61" lengthAdjust="spacingAndGlyphs" fill="#565656">1.0</text>
<text x="93.25" y="763.32" font-size="47.5" textLength="63.95" lengthAdjust="spacingAndGlyphs" fill="#565656">0.5</text>
<text x="93.23" y="1066.42" font-size="47.5" textLength="64.53" lengthAdjust="spacingAndGlyphs" fill="#565656">0.0</text>
<text x="1149.35" y="281.22" font-size="47.5" textLength="89.65" lengthAdjust="spacingAndGlyphs" fill="#565656">0.15</text>
<text x="1149.34" y="546.62" font-size="47.5" textLength="90.23" lengthAdjust="spacingAndGlyphs" fill="#565656">0.10</text>
<text x="1149.35" y="786.32" font-size="47.5" textLength="89.65" lengthAdjust="spacingAndGlyphs" fill="#565656">0.05</text>
<text x="1149.64" y="1060.62" font-size="47.5" textLength="90.02" lengthAdjust="spacingAndGlyphs" fill="#565656">0.00</text>
<text x="457.20" y="1216.90" font-size="56.5" textLength="327.71" lengthAdjust="spacingAndGlyphs" fill="#000">Carcass_yield</text>
<text x="1697.91" y="1216.90" font-size="56.5" textLength="270.20" lengthAdjust="spacingAndGlyphs" fill="#000">Fillet_yield</text>
<g transform="translate(55.7,650.3) rotate(-90)"><text x="-1.69" y="0.00" font-size="57.0" textLength="182.42" lengthAdjust="spacingAndGlyphs" fill="#000">Density</text></g>
<text x="2318.40" y="509.70" font-size="56.5" textLength="75.25" lengthAdjust="spacingAndGlyphs" fill="#000">HS</text>
<rect x="2268.4" y="530.1" width="51.9" height="51.8" fill="rgba(255,120,109,0.6)" stroke="#000" stroke-width="5.6"/>
<g><rect x="2268.4" y="587.5" width="51.9" height="52.0" fill="rgba(0,191,196,0.6)"/><rect x="2268.4" y="587.5" width="51.9" height="52.0" fill="#00ffff" style="mix-blend-mode:multiply"/><rect x="2268.4" y="587.5" width="51.9" height="52.0" fill="none" stroke="#000" stroke-width="5.6"/></g>
<text x="2340.81" y="578.20" font-size="56.5" textLength="119.81" lengthAdjust="spacingAndGlyphs" fill="#000">Cage</text>
<text x="2339.93" y="636.50" font-size="56.5" textLength="121.47" lengthAdjust="spacingAndGlyphs" fill="#000">Tank</text>
</svg>
</body></html>
